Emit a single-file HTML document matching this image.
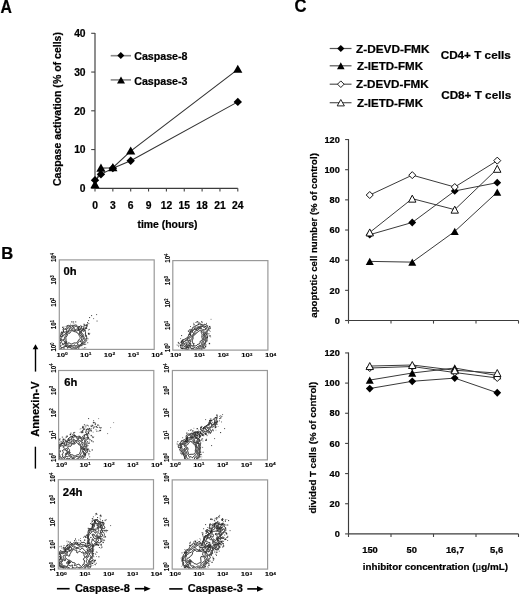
<!DOCTYPE html>
<html><head><meta charset="utf-8"><style>
html,body{margin:0;padding:0;background:#fff;}
svg{display:block;filter:grayscale(1);}
text{font-family:"Liberation Sans",sans-serif;font-weight:bold;stroke:#000;stroke-width:0.22px;}
</style></head><body>
<svg width="520" height="596" viewBox="0 0 520 596">
<rect width="520" height="596" fill="#fff"/>
<text x="0.6" y="12.6" font-size="18.4" textLength="11.4" lengthAdjust="spacingAndGlyphs" fill="#000" >A</text>
<line x1="95.00" y1="32.90" x2="95.00" y2="188.30" stroke="#3c3c3c" stroke-width="1.15" />
<line x1="91.20" y1="188.30" x2="95.00" y2="188.30" stroke="#444" stroke-width="1.1" />
<text x="85.6" y="192.0" font-size="10.3" text-anchor="end" fill="#000" >0</text>
<line x1="91.20" y1="149.55" x2="95.00" y2="149.55" stroke="#444" stroke-width="1.1" />
<text x="85.6" y="153.25" font-size="10.3" text-anchor="end" fill="#000" >10</text>
<line x1="91.20" y1="110.80" x2="95.00" y2="110.80" stroke="#444" stroke-width="1.1" />
<text x="85.6" y="114.50000000000001" font-size="10.3" text-anchor="end" fill="#000" >20</text>
<line x1="91.20" y1="72.05" x2="95.00" y2="72.05" stroke="#444" stroke-width="1.1" />
<text x="85.6" y="75.75000000000001" font-size="10.3" text-anchor="end" fill="#000" >30</text>
<line x1="91.20" y1="33.30" x2="95.00" y2="33.30" stroke="#444" stroke-width="1.1" />
<text x="85.6" y="37.000000000000014" font-size="10.3" text-anchor="end" fill="#000" >40</text>
<line x1="95.00" y1="188.30" x2="237.80" y2="188.30" stroke="#3c3c3c" stroke-width="1.15" />
<line x1="95.00" y1="188.30" x2="95.00" y2="191.60" stroke="#444" stroke-width="1.1" />
<text x="95.0" y="208.7" font-size="10.3" text-anchor="middle" fill="#000" >0</text>
<line x1="112.85" y1="188.30" x2="112.85" y2="191.60" stroke="#444" stroke-width="1.1" />
<text x="112.85" y="208.7" font-size="10.3" text-anchor="middle" fill="#000" >3</text>
<line x1="130.70" y1="188.30" x2="130.70" y2="191.60" stroke="#444" stroke-width="1.1" />
<text x="130.7" y="208.7" font-size="10.3" text-anchor="middle" fill="#000" >6</text>
<line x1="148.55" y1="188.30" x2="148.55" y2="191.60" stroke="#444" stroke-width="1.1" />
<text x="148.55" y="208.7" font-size="10.3" text-anchor="middle" fill="#000" >9</text>
<line x1="166.40" y1="188.30" x2="166.40" y2="191.60" stroke="#444" stroke-width="1.1" />
<text x="166.4" y="208.7" font-size="10.3" text-anchor="middle" fill="#000" >12</text>
<line x1="184.25" y1="188.30" x2="184.25" y2="191.60" stroke="#444" stroke-width="1.1" />
<text x="184.25" y="208.7" font-size="10.3" text-anchor="middle" fill="#000" >15</text>
<line x1="202.10" y1="188.30" x2="202.10" y2="191.60" stroke="#444" stroke-width="1.1" />
<text x="202.10000000000002" y="208.7" font-size="10.3" text-anchor="middle" fill="#000" >18</text>
<line x1="219.95" y1="188.30" x2="219.95" y2="191.60" stroke="#444" stroke-width="1.1" />
<text x="219.95000000000002" y="208.7" font-size="10.3" text-anchor="middle" fill="#000" >21</text>
<line x1="237.80" y1="188.30" x2="237.80" y2="191.60" stroke="#444" stroke-width="1.1" />
<text x="237.8" y="208.7" font-size="10.3" text-anchor="middle" fill="#000" >24</text>
<text x="167.5" y="228.4" font-size="10.5" text-anchor="middle" textLength="60" lengthAdjust="spacingAndGlyphs" fill="#000" >time (hours)</text>
<text x="0" y="0" font-size="10.3" text-anchor="middle" textLength="154" lengthAdjust="spacingAndGlyphs" fill="#000" transform="translate(60.8,109) rotate(-90)" >Caspase activation (% of cells)</text>
<polyline points="95.00,180.16 100.95,174.35 112.85,168.15 130.70,160.79 237.80,101.89" fill="none" stroke="#333" stroke-width="1.1"/>
<polyline points="95.00,184.81 100.95,168.15 112.85,167.76 130.70,151.10 237.80,69.34" fill="none" stroke="#333" stroke-width="1.1"/>
<path d="M95.00,175.96L99.20,180.16L95.00,184.36L90.80,180.16Z" fill="#000" stroke="#000" stroke-width="0"/>
<path d="M100.95,170.15L105.15,174.35L100.95,178.55L96.75,174.35Z" fill="#000" stroke="#000" stroke-width="0"/>
<path d="M112.85,163.95L117.05,168.15L112.85,172.35L108.65,168.15Z" fill="#000" stroke="#000" stroke-width="0"/>
<path d="M130.70,156.59L134.90,160.79L130.70,164.99L126.50,160.79Z" fill="#000" stroke="#000" stroke-width="0"/>
<path d="M237.80,97.69L242.00,101.89L237.80,106.09L233.60,101.89Z" fill="#000" stroke="#000" stroke-width="0"/>
<path d="M95.00,180.11L99.60,188.31L90.40,188.31Z" fill="#000" stroke="#000" stroke-width="0" stroke-linejoin="miter"/>
<path d="M100.95,163.45L105.55,171.65L96.35,171.65Z" fill="#000" stroke="#000" stroke-width="0" stroke-linejoin="miter"/>
<path d="M112.85,163.06L117.45,171.26L108.25,171.26Z" fill="#000" stroke="#000" stroke-width="0" stroke-linejoin="miter"/>
<path d="M130.70,146.40L135.30,154.60L126.10,154.60Z" fill="#000" stroke="#000" stroke-width="0" stroke-linejoin="miter"/>
<path d="M237.80,64.64L242.40,72.84L233.20,72.84Z" fill="#000" stroke="#000" stroke-width="0" stroke-linejoin="miter"/>
<line x1="110.70" y1="55.70" x2="131.00" y2="55.70" stroke="#888" stroke-width="1.6" />
<path d="M120.80,52.10L124.30,55.60L120.80,59.10L117.30,55.60Z" fill="#000" stroke="#000" stroke-width="0"/>
<text x="134.2" y="60.2" font-size="11" textLength="53.3" lengthAdjust="spacingAndGlyphs" fill="#000" >Caspase-8</text>
<line x1="110.70" y1="79.90" x2="131.00" y2="79.90" stroke="#888" stroke-width="1.6" />
<path d="M121.00,76.45L125.00,83.55L117.00,83.55Z" fill="#000" stroke="#000" stroke-width="0" stroke-linejoin="miter"/>
<text x="134.2" y="84.6" font-size="11" textLength="53.3" lengthAdjust="spacingAndGlyphs" fill="#000" >Caspase-3</text>
<text x="294.4" y="12.4" font-size="18.0" textLength="12.0" lengthAdjust="spacingAndGlyphs" fill="#000" >C</text>
<line x1="329.70" y1="48.50" x2="351.50" y2="48.50" stroke="#555" stroke-width="1.2" />
<path d="M340.80,44.90L344.40,48.50L340.80,52.10L337.20,48.50Z" fill="#000" stroke="#000" stroke-width="0"/>
<text x="356.0" y="52.7" font-size="11.2" textLength="73.5" lengthAdjust="spacingAndGlyphs" fill="#000" >Z-DEVD-FMK</text>
<line x1="329.70" y1="65.80" x2="351.50" y2="65.80" stroke="#555" stroke-width="1.2" />
<path d="M340.80,62.30L344.60,69.30L337.00,69.30Z" fill="#000" stroke="#000" stroke-width="0" stroke-linejoin="miter"/>
<text x="356.9" y="70.0" font-size="11.2" textLength="66.1" lengthAdjust="spacingAndGlyphs" fill="#000" >Z-IETD-FMK</text>
<line x1="329.70" y1="84.20" x2="351.50" y2="84.20" stroke="#555" stroke-width="1.2" />
<path d="M340.80,80.90L344.10,84.20L340.80,87.50L337.50,84.20Z" fill="#fff" stroke="#222" stroke-width="1"/>
<text x="356.0" y="88.4" font-size="11.2" textLength="72.7" lengthAdjust="spacingAndGlyphs" fill="#000" >Z-DEVD-FMK</text>
<line x1="329.70" y1="102.70" x2="351.50" y2="102.70" stroke="#555" stroke-width="1.2" />
<path d="M340.80,99.50L344.40,105.90L337.20,105.90Z" fill="#fff" stroke="#222" stroke-width="1" stroke-linejoin="miter"/>
<text x="356.9" y="106.9" font-size="11.2" textLength="66.1" lengthAdjust="spacingAndGlyphs" fill="#000" >Z-IETD-FMK</text>
<text x="440.7" y="59.0" font-size="11.2" textLength="70" lengthAdjust="spacingAndGlyphs" fill="#000" >CD4+ T cells</text>
<text x="441.2" y="98.8" font-size="11.2" textLength="70" lengthAdjust="spacingAndGlyphs" fill="#000" >CD8+ T cells</text>
<line x1="348.50" y1="139.04" x2="348.50" y2="320.50" stroke="#3c3c3c" stroke-width="1.15" />
<line x1="348.50" y1="320.50" x2="518.50" y2="320.50" stroke="#3c3c3c" stroke-width="1.15" />
<line x1="345.10" y1="320.50" x2="348.50" y2="320.50" stroke="#444" stroke-width="1.1" />
<text x="339.8" y="323.7" font-size="9.2" text-anchor="end" fill="#000" >0</text>
<line x1="345.10" y1="290.34" x2="348.50" y2="290.34" stroke="#444" stroke-width="1.1" />
<text x="339.8" y="293.53999999999996" font-size="9.2" text-anchor="end" fill="#000" >20</text>
<line x1="345.10" y1="260.18" x2="348.50" y2="260.18" stroke="#444" stroke-width="1.1" />
<text x="339.8" y="263.38" font-size="9.2" text-anchor="end" fill="#000" >40</text>
<line x1="345.10" y1="230.02" x2="348.50" y2="230.02" stroke="#444" stroke-width="1.1" />
<text x="339.8" y="233.21999999999997" font-size="9.2" text-anchor="end" fill="#000" >60</text>
<line x1="345.10" y1="199.86" x2="348.50" y2="199.86" stroke="#444" stroke-width="1.1" />
<text x="339.8" y="203.06" font-size="9.2" text-anchor="end" fill="#000" >80</text>
<line x1="345.10" y1="169.70" x2="348.50" y2="169.70" stroke="#444" stroke-width="1.1" />
<text x="339.8" y="172.89999999999998" font-size="9.2" text-anchor="end" fill="#000" >100</text>
<line x1="345.10" y1="139.54" x2="348.50" y2="139.54" stroke="#444" stroke-width="1.1" />
<text x="339.8" y="142.73999999999998" font-size="9.2" text-anchor="end" fill="#000" >120</text>
<line x1="348.50" y1="320.50" x2="348.50" y2="323.60" stroke="#444" stroke-width="1.1" />
<line x1="391.00" y1="320.50" x2="391.00" y2="323.60" stroke="#444" stroke-width="1.1" />
<line x1="433.50" y1="320.50" x2="433.50" y2="323.60" stroke="#444" stroke-width="1.1" />
<line x1="476.00" y1="320.50" x2="476.00" y2="323.60" stroke="#444" stroke-width="1.1" />
<line x1="518.50" y1="320.50" x2="518.50" y2="323.60" stroke="#444" stroke-width="1.1" />
<text x="0" y="0" font-size="9.6" text-anchor="middle" textLength="164.5" lengthAdjust="spacingAndGlyphs" fill="#000" transform="translate(316.9,235.4) rotate(-90)" >apoptotic cell number (% of control)</text>
<polyline points="369.75,234.69 412.25,222.48 454.75,190.96 497.25,182.67" fill="none" stroke="#3a3a3a" stroke-width="1.0"/>
<polyline points="369.75,261.39 412.25,262.14 454.75,231.38 497.25,192.17" fill="none" stroke="#3a3a3a" stroke-width="1.0"/>
<polyline points="369.75,195.03 412.25,175.13 454.75,187.04 497.25,160.65" fill="none" stroke="#3a3a3a" stroke-width="1.0"/>
<polyline points="369.75,232.43 412.25,198.65 454.75,209.66 497.25,168.80" fill="none" stroke="#3a3a3a" stroke-width="1.0"/>
<path d="M369.75,230.79L373.65,234.69L369.75,238.59L365.85,234.69Z" fill="#000" stroke="#000" stroke-width="0"/>
<path d="M412.25,218.58L416.15,222.48L412.25,226.38L408.35,222.48Z" fill="#000" stroke="#000" stroke-width="0"/>
<path d="M454.75,187.06L458.65,190.96L454.75,194.86L450.85,190.96Z" fill="#000" stroke="#000" stroke-width="0"/>
<path d="M497.25,178.77L501.15,182.67L497.25,186.57L493.35,182.67Z" fill="#000" stroke="#000" stroke-width="0"/>
<path d="M369.75,257.69L373.75,265.09L365.75,265.09Z" fill="#000" stroke="#000" stroke-width="0" stroke-linejoin="miter"/>
<path d="M412.25,258.44L416.25,265.84L408.25,265.84Z" fill="#000" stroke="#000" stroke-width="0" stroke-linejoin="miter"/>
<path d="M454.75,227.68L458.75,235.08L450.75,235.08Z" fill="#000" stroke="#000" stroke-width="0" stroke-linejoin="miter"/>
<path d="M497.25,188.47L501.25,195.87L493.25,195.87Z" fill="#000" stroke="#000" stroke-width="0" stroke-linejoin="miter"/>
<path d="M369.75,191.53L373.25,195.03L369.75,198.53L366.25,195.03Z" fill="#fff" stroke="#111" stroke-width="1"/>
<path d="M412.25,171.63L415.75,175.13L412.25,178.63L408.75,175.13Z" fill="#fff" stroke="#111" stroke-width="1"/>
<path d="M454.75,183.54L458.25,187.04L454.75,190.54L451.25,187.04Z" fill="#fff" stroke="#111" stroke-width="1"/>
<path d="M497.25,157.15L500.75,160.65L497.25,164.15L493.75,160.65Z" fill="#fff" stroke="#111" stroke-width="1"/>
<path d="M369.75,228.93L373.45,235.93L366.05,235.93Z" fill="#fff" stroke="#111" stroke-width="1" stroke-linejoin="miter"/>
<path d="M412.25,195.15L415.95,202.15L408.55,202.15Z" fill="#fff" stroke="#111" stroke-width="1" stroke-linejoin="miter"/>
<path d="M454.75,206.16L458.45,213.16L451.05,213.16Z" fill="#fff" stroke="#111" stroke-width="1" stroke-linejoin="miter"/>
<path d="M497.25,165.30L500.95,172.30L493.55,172.30Z" fill="#fff" stroke="#111" stroke-width="1" stroke-linejoin="miter"/>
<line x1="348.50" y1="352.44" x2="348.50" y2="533.90" stroke="#3c3c3c" stroke-width="1.15" />
<line x1="348.50" y1="533.90" x2="518.50" y2="533.90" stroke="#3c3c3c" stroke-width="1.15" />
<line x1="345.10" y1="533.90" x2="348.50" y2="533.90" stroke="#444" stroke-width="1.1" />
<text x="339.8" y="537.1" font-size="9.2" text-anchor="end" fill="#000" >0</text>
<line x1="345.10" y1="503.74" x2="348.50" y2="503.74" stroke="#444" stroke-width="1.1" />
<text x="339.8" y="506.93999999999994" font-size="9.2" text-anchor="end" fill="#000" >20</text>
<line x1="345.10" y1="473.58" x2="348.50" y2="473.58" stroke="#444" stroke-width="1.1" />
<text x="339.8" y="476.78" font-size="9.2" text-anchor="end" fill="#000" >40</text>
<line x1="345.10" y1="443.42" x2="348.50" y2="443.42" stroke="#444" stroke-width="1.1" />
<text x="339.8" y="446.61999999999995" font-size="9.2" text-anchor="end" fill="#000" >60</text>
<line x1="345.10" y1="413.26" x2="348.50" y2="413.26" stroke="#444" stroke-width="1.1" />
<text x="339.8" y="416.46" font-size="9.2" text-anchor="end" fill="#000" >80</text>
<line x1="345.10" y1="383.10" x2="348.50" y2="383.10" stroke="#444" stroke-width="1.1" />
<text x="339.8" y="386.29999999999995" font-size="9.2" text-anchor="end" fill="#000" >100</text>
<line x1="345.10" y1="352.94" x2="348.50" y2="352.94" stroke="#444" stroke-width="1.1" />
<text x="339.8" y="356.13999999999993" font-size="9.2" text-anchor="end" fill="#000" >120</text>
<line x1="348.50" y1="533.90" x2="348.50" y2="537.00" stroke="#444" stroke-width="1.1" />
<line x1="391.00" y1="533.90" x2="391.00" y2="537.00" stroke="#444" stroke-width="1.1" />
<line x1="433.50" y1="533.90" x2="433.50" y2="537.00" stroke="#444" stroke-width="1.1" />
<line x1="476.00" y1="533.90" x2="476.00" y2="537.00" stroke="#444" stroke-width="1.1" />
<line x1="518.50" y1="533.90" x2="518.50" y2="537.00" stroke="#444" stroke-width="1.1" />
<text x="0" y="0" font-size="9.6" text-anchor="middle" textLength="131.8" lengthAdjust="spacingAndGlyphs" fill="#000" transform="translate(316.2,447.7) rotate(-90)" >divided T cells (% of control)</text>
<polyline points="369.75,388.53 412.25,381.29 454.75,378.12 497.25,392.75" fill="none" stroke="#3a3a3a" stroke-width="1.0"/>
<polyline points="369.75,380.08 412.25,373.00 454.75,368.02 497.25,375.56" fill="none" stroke="#3a3a3a" stroke-width="1.0"/>
<polyline points="369.75,368.02 412.25,366.51 454.75,372.54 497.25,377.97" fill="none" stroke="#3a3a3a" stroke-width="1.0"/>
<polyline points="369.75,366.06 412.25,365.00 454.75,370.28 497.25,373.00" fill="none" stroke="#3a3a3a" stroke-width="1.0"/>
<path d="M369.75,384.63L373.65,388.53L369.75,392.43L365.85,388.53Z" fill="#000" stroke="#000" stroke-width="0"/>
<path d="M412.25,377.39L416.15,381.29L412.25,385.19L408.35,381.29Z" fill="#000" stroke="#000" stroke-width="0"/>
<path d="M454.75,374.22L458.65,378.12L454.75,382.02L450.85,378.12Z" fill="#000" stroke="#000" stroke-width="0"/>
<path d="M497.25,388.85L501.15,392.75L497.25,396.65L493.35,392.75Z" fill="#000" stroke="#000" stroke-width="0"/>
<path d="M369.75,376.38L373.75,383.78L365.75,383.78Z" fill="#000" stroke="#000" stroke-width="0" stroke-linejoin="miter"/>
<path d="M412.25,369.30L416.25,376.70L408.25,376.70Z" fill="#000" stroke="#000" stroke-width="0" stroke-linejoin="miter"/>
<path d="M454.75,364.32L458.75,371.72L450.75,371.72Z" fill="#000" stroke="#000" stroke-width="0" stroke-linejoin="miter"/>
<path d="M497.25,371.86L501.25,379.26L493.25,379.26Z" fill="#000" stroke="#000" stroke-width="0" stroke-linejoin="miter"/>
<path d="M369.75,364.52L373.25,368.02L369.75,371.52L366.25,368.02Z" fill="#fff" stroke="#111" stroke-width="1"/>
<path d="M412.25,363.01L415.75,366.51L412.25,370.01L408.75,366.51Z" fill="#fff" stroke="#111" stroke-width="1"/>
<path d="M454.75,369.04L458.25,372.54L454.75,376.04L451.25,372.54Z" fill="#fff" stroke="#111" stroke-width="1"/>
<path d="M497.25,374.47L500.75,377.97L497.25,381.47L493.75,377.97Z" fill="#fff" stroke="#111" stroke-width="1"/>
<path d="M369.75,362.56L373.45,369.56L366.05,369.56Z" fill="#fff" stroke="#111" stroke-width="1" stroke-linejoin="miter"/>
<path d="M412.25,361.50L415.95,368.50L408.55,368.50Z" fill="#fff" stroke="#111" stroke-width="1" stroke-linejoin="miter"/>
<path d="M454.75,366.78L458.45,373.78L451.05,373.78Z" fill="#fff" stroke="#111" stroke-width="1" stroke-linejoin="miter"/>
<path d="M497.25,369.50L500.95,376.50L493.55,376.50Z" fill="#fff" stroke="#111" stroke-width="1" stroke-linejoin="miter"/>
<text x="370" y="552.8" font-size="9.4" text-anchor="middle" fill="#000" >150</text>
<text x="411.7" y="552.8" font-size="9.4" text-anchor="middle" fill="#000" >50</text>
<text x="455" y="552.8" font-size="9.4" text-anchor="middle" fill="#000" >16,7</text>
<text x="496.6" y="552.8" font-size="9.4" text-anchor="middle" fill="#000" >5,6</text>
<text x="362.7" y="570.4" font-size="9.8" textLength="145.3" lengthAdjust="spacingAndGlyphs" fill="#000" >inhibitor concentration (<tspan font-family="Liberation Serif" font-weight="normal">µ</tspan>g/mL)</text>
<text x="1.2" y="259.0" font-size="16.6" fill="#000" >B</text>
<clipPath id="fc00"><rect x="59.599999999999994" y="259.9" width="94.6" height="89.2"/></clipPath>
<g clip-path="url(#fc00)">
<g fill="none" stroke="#222" stroke-width="1.0" stroke-linejoin="round">
<path d="M64.5,351.1 L64.1,351.1 L63.3,351.0 L62.6,350.7 L62.1,350.4 L61.7,350.0 L61.3,349.7 L60.5,349.7 L60.0,349.5 L59.4,349.1 L59.1,348.7 L58.5,348.6 L58.0,348.3 L58.1,347.8 L58.3,347.1 L58.3,346.3 L58.1,345.5 L57.9,345.1 L57.7,344.7 L57.7,343.9 L57.9,343.9 L58.2,343.9 L58.7,343.5 L59.0,343.1 L59.3,342.7 L59.3,341.9 L58.9,341.5 L58.6,341.1 L58.2,340.7 L58.2,339.9 L58.5,339.3 L58.9,339.1 L58.9,338.6 L58.7,337.9 L58.9,337.1 L59.0,336.7 L59.3,336.1 L59.7,335.8 L60.3,335.5 L60.9,335.4 L61.2,334.7 L61.1,333.9 L61.0,333.1 L61.3,332.7 L62.1,332.5 L62.9,332.4 L63.3,332.1 L63.6,331.5 L63.5,330.7 L63.3,330.0 L62.9,329.5 L62.9,329.4 L63.3,329.0 L64.1,329.1 L64.5,329.2 L65.0,329.1 L65.7,328.8 L66.1,328.5 L66.5,327.9 L66.8,327.5 L67.0,327.1 L67.1,326.3 L67.3,325.9 L68.1,325.6 L68.5,325.4 L69.2,325.5 L69.7,325.8 L70.5,325.9 L70.9,325.9 L71.3,325.8 L71.7,325.5 L72.5,325.4 L73.3,325.4 L73.7,325.5 L74.1,325.5 L74.9,325.1 L75.3,325.0 L76.1,325.1 L76.5,325.2 L76.9,325.5 L77.3,326.1 L77.7,326.5 L78.1,326.7 L78.9,326.9 L79.6,326.7 L80.0,326.3 L80.4,325.9 L80.9,325.6 L81.3,325.9 L81.5,326.7 L81.5,327.5 L81.3,327.9 L80.8,328.3 L80.9,328.7 L81.7,328.8 L82.5,328.8 L82.9,328.7 L83.6,328.3 L83.8,327.9 L83.9,327.1 L83.9,326.3 L84.1,325.5 L84.5,325.3 L85.3,325.3 L86.1,325.4 L86.5,325.5 L86.9,325.9 L86.9,326.7 L86.7,327.1 L86.4,327.5 L85.9,327.9 L85.3,328.2 L85.0,328.7 L84.9,329.1 L84.9,329.9 L85.0,330.3 L85.1,331.1 L85.3,331.5 L85.5,332.3 L85.5,333.1 L85.4,333.9 L85.7,334.7 L86.1,335.0 L86.3,335.5 L86.5,336.3 L86.6,336.7 L86.7,337.5 L86.5,338.3 L86.4,338.7 L86.1,339.5 L86.1,339.9 L86.1,340.3 L86.1,340.7 L85.9,341.5 L85.7,342.0 L85.3,342.4 L84.9,342.7 L84.1,342.8 L83.3,343.0 L83.0,343.5 L82.9,344.2 L82.7,344.7 L82.4,345.1 L82.1,345.6 L81.3,345.7 L80.5,345.7 L80.1,346.0 L79.7,346.6 L79.3,347.0 L78.9,347.1 L78.7,347.9 L78.7,348.7 L78.4,349.1 L78.0,349.5 L77.3,349.8 L76.8,349.9 L76.1,350.1 L75.3,350.2 L74.5,349.9 L74.5,349.9 L73.7,350.1 L72.9,350.1 L72.1,350.0 L71.3,350.1 L70.5,350.1 L69.7,350.2 L68.9,349.9 L68.5,349.8 L67.8,349.5 L67.3,349.4 L66.9,349.6 L66.3,349.9 L65.7,350.3 L65.3,350.7 L64.9,351.1 L64.5,351.1Z"/>
<path d="M63.3,349.9 L62.5,350.0 L62.1,349.7 L61.9,349.1 L61.6,348.7 L60.9,348.4 L60.4,348.3 L59.7,347.9 L59.3,347.5 L59.1,347.1 L59.2,346.3 L59.2,345.5 L58.9,345.0 L58.8,344.3 L59.0,343.9 L59.3,343.5 L59.7,343.0 L60.1,342.3 L59.7,341.5 L59.7,341.1 L59.6,340.3 L59.9,340.3 L60.5,340.5 L60.9,340.8 L61.2,340.3 L61.1,339.5 L60.9,339.1 L60.1,338.8 L59.7,338.5 L59.5,337.9 L59.6,337.1 L59.8,336.7 L60.5,336.5 L61.3,336.5 L61.8,336.3 L62.4,335.9 L62.5,335.5 L62.5,335.1 L62.1,334.5 L62.0,333.9 L62.1,333.5 L62.9,333.2 L63.3,333.0 L63.7,332.6 L64.2,332.3 L64.9,332.1 L65.7,331.9 L66.1,331.9 L66.9,331.5 L66.9,331.1 L66.8,330.7 L66.5,330.1 L66.3,329.5 L66.6,329.1 L67.3,328.8 L67.7,328.7 L68.0,327.9 L68.1,327.4 L68.5,327.0 L69.3,326.7 L70.1,327.0 L70.5,327.3 L70.9,327.5 L71.3,327.5 L71.7,327.0 L72.1,326.6 L72.9,326.7 L73.3,326.9 L73.9,327.1 L74.5,327.1 L74.9,327.0 L75.3,326.6 L75.7,326.2 L76.3,326.3 L76.7,326.7 L77.1,327.1 L77.4,327.5 L77.6,328.3 L78.1,328.7 L78.5,328.9 L78.9,329.1 L79.3,329.5 L80.1,329.7 L80.9,329.6 L81.3,329.9 L81.6,330.7 L81.6,331.5 L81.6,332.3 L81.5,333.1 L82.1,333.5 L82.5,333.6 L82.9,333.9 L83.2,334.7 L83.2,335.5 L83.3,335.9 L83.4,336.7 L83.7,337.1 L84.3,337.5 L84.6,337.9 L84.9,338.5 L84.9,339.1 L84.9,339.5 L84.9,340.3 L84.6,341.1 L84.1,341.5 L83.7,341.7 L83.2,341.9 L82.9,342.3 L82.5,342.8 L82.3,343.5 L82.1,344.2 L81.7,344.6 L81.3,344.8 L80.5,345.1 L80.1,345.4 L79.7,345.7 L79.3,345.9 L78.6,346.3 L78.1,346.7 L77.7,347.0 L77.4,347.5 L77.2,347.9 L76.9,348.5 L76.5,348.7 L75.9,348.7 L75.3,348.5 L74.5,348.7 L74.1,348.9 L73.3,348.9 L72.5,348.8 L71.7,348.7 L71.3,348.3 L71.2,347.9 L70.9,347.5 L70.1,347.2 L69.3,347.4 L68.5,347.4 L68.1,347.5 L67.3,347.6 L67.3,347.1 L66.9,346.4 L66.1,346.5 L65.3,346.4 L64.6,346.7 L64.2,347.1 L64.0,347.5 L64.0,348.3 L63.9,349.1 L63.7,349.6 L63.3,349.9Z"/>
<path d="M84.1,331.3 L83.3,331.1 L82.9,331.0 L82.5,330.7 L82.3,329.9 L82.5,329.4 L83.3,329.2 L83.8,329.5 L84.1,330.1 L84.2,330.7 L84.1,331.3Z"/>
<path d="M62.9,347.8 L62.1,347.6 L61.3,347.5 L60.9,347.2 L60.5,346.7 L60.9,346.0 L61.1,345.5 L60.5,345.2 L60.1,345.1 L59.7,344.6 L59.7,344.2 L60.1,343.5 L60.5,343.2 L60.9,342.9 L61.3,342.4 L61.4,341.9 L61.7,341.4 L62.1,340.7 L62.2,340.3 L62.1,339.7 L61.7,339.1 L61.3,338.7 L60.9,338.4 L60.6,337.9 L60.9,337.5 L61.4,337.1 L62.1,336.8 L62.5,336.7 L63.1,336.3 L63.2,335.5 L63.3,335.1 L64.1,334.8 L64.9,334.8 L65.3,334.4 L65.6,333.9 L65.6,333.1 L66.0,332.7 L66.5,332.4 L66.9,332.2 L67.5,331.9 L67.9,331.5 L68.0,330.7 L68.5,330.3 L68.9,330.1 L69.4,329.9 L69.3,329.3 L69.2,328.7 L69.5,328.3 L69.8,328.3 L70.5,328.7 L70.9,329.1 L71.3,329.1 L71.7,329.0 L72.3,328.7 L72.6,328.3 L72.9,327.8 L73.5,327.9 L74.1,328.2 L74.3,328.7 L74.5,329.3 L74.9,329.5 L75.7,329.7 L76.2,329.5 L76.7,329.1 L77.3,329.1 L77.7,329.4 L78.1,329.5 L78.9,329.8 L79.3,330.1 L79.7,330.3 L80.2,330.7 L80.5,331.1 L80.7,331.9 L80.5,332.7 L80.5,332.8 L80.6,333.5 L80.9,334.2 L81.5,334.3 L82.0,334.7 L82.2,335.1 L82.4,335.9 L82.4,336.7 L82.6,337.1 L82.9,337.5 L83.4,337.9 L83.7,338.7 L83.3,339.4 L82.9,339.5 L82.4,339.9 L82.2,340.7 L82.2,341.5 L82.1,341.9 L81.8,342.7 L81.7,343.1 L81.3,343.9 L80.9,344.2 L80.5,344.4 L80.1,344.8 L79.7,345.1 L79.0,345.5 L78.5,345.7 L77.9,345.9 L77.4,346.3 L77.1,346.7 L76.6,347.1 L76.1,347.2 L75.3,347.2 L74.5,347.2 L73.7,347.3 L72.9,347.3 L72.5,347.0 L71.9,346.7 L71.3,346.7 L70.9,346.7 L70.5,346.7 L69.7,346.6 L68.9,346.5 L68.1,346.5 L67.7,346.2 L67.3,345.9 L66.5,345.8 L65.7,345.8 L64.9,345.9 L64.5,346.0 L64.0,346.3 L63.6,346.7 L63.3,347.1 L62.9,347.8Z"/>
<path d="M65.2,343.5 L65.5,343.1 L65.6,342.3 L65.0,342.3 L64.5,342.7 L64.2,343.1 L64.5,343.7 L65.2,343.5Z"/>
<path d="M75.7,346.0 L75.0,345.9 L74.8,345.5 L74.5,344.8 L73.9,345.1 L73.7,345.7 L73.3,346.0 L72.7,345.9 L72.1,345.7 L71.3,345.6 L70.9,345.5 L70.1,345.5 L69.3,345.5 L68.5,345.2 L68.1,345.0 L67.3,345.0 L66.5,345.0 L65.7,345.1 L65.3,345.1 L65.2,344.7 L65.4,344.3 L65.7,343.6 L65.9,343.1 L66.1,342.5 L66.1,341.9 L66.0,341.5 L65.4,341.1 L65.2,341.1 L64.6,341.5 L64.3,341.5 L64.1,340.7 L63.7,340.7 L63.2,340.3 L63.3,339.5 L63.7,339.4 L64.1,339.5 L64.5,339.4 L64.5,338.7 L64.4,338.3 L64.5,337.7 L64.8,337.1 L65.1,336.7 L65.3,336.2 L65.7,335.6 L66.1,335.2 L66.4,334.7 L66.5,333.9 L66.5,333.5 L66.9,332.9 L67.3,332.6 L67.8,332.3 L68.4,331.9 L68.6,331.5 L68.9,331.0 L69.7,330.8 L70.5,330.7 L70.9,330.4 L71.3,330.2 L72.0,329.9 L72.5,329.9 L72.9,330.0 L73.7,330.2 L74.1,330.3 L74.9,330.4 L75.7,330.6 L76.1,330.8 L76.9,331.1 L77.4,330.7 L78.1,330.3 L78.1,330.3 L78.9,330.6 L79.3,330.9 L79.6,331.5 L79.5,332.3 L79.4,333.1 L79.4,333.9 L79.7,334.6 L80.0,335.1 L80.5,335.4 L81.1,335.5 L81.4,335.9 L81.5,336.7 L81.7,337.5 L81.8,337.9 L81.8,338.7 L81.6,339.1 L81.3,339.9 L81.1,340.3 L80.9,340.9 L80.5,341.2 L80.1,341.0 L79.5,341.1 L79.1,341.5 L78.7,341.9 L78.3,342.3 L78.1,342.7 L77.7,343.3 L77.6,343.9 L78.1,344.2 L78.2,344.7 L77.7,344.8 L77.1,345.1 L76.6,345.5 L76.1,345.9 L75.7,346.0Z"/>
<path d="M80.9,342.0 L80.5,341.9 L80.7,341.5 L81.0,341.5 L80.9,342.0Z"/>
<path d="M62.9,345.1 L62.5,344.7 L62.4,344.3 L62.3,343.5 L62.9,343.3 L63.3,343.7 L63.4,344.3 L63.3,344.8 L62.9,345.1Z"/>
<path d="M71.7,344.0 L70.9,344.1 L70.5,343.8 L70.1,343.5 L69.7,343.1 L68.9,342.8 L68.1,343.1 L67.8,343.5 L67.6,343.9 L66.9,344.2 L66.3,343.9 L66.5,343.3 L66.7,342.7 L66.7,341.9 L66.5,341.2 L66.2,340.7 L66.1,340.3 L66.0,339.5 L65.9,338.7 L65.8,337.9 L65.9,337.1 L66.1,336.6 L66.8,336.3 L67.0,335.9 L67.3,335.3 L67.5,334.7 L67.7,334.0 L67.9,333.5 L68.3,333.1 L68.9,332.9 L69.3,333.3 L69.9,333.1 L70.1,332.6 L70.5,332.0 L70.9,331.7 L71.3,331.3 L71.7,330.9 L72.5,330.8 L73.3,331.1 L73.7,331.5 L74.1,331.7 L74.9,331.5 L75.6,331.9 L76.1,332.3 L76.5,332.4 L77.0,332.7 L77.7,333.1 L78.1,333.3 L78.5,333.9 L78.6,334.3 L78.9,334.8 L79.2,335.5 L79.4,335.9 L79.7,336.3 L80.1,336.9 L80.2,337.5 L80.3,338.3 L80.0,338.7 L79.5,339.1 L79.2,339.5 L78.9,339.9 L78.4,340.3 L78.1,341.0 L77.8,341.5 L77.4,341.9 L77.2,342.3 L76.7,342.7 L76.1,343.0 L75.3,343.0 L74.5,342.9 L73.9,343.1 L73.3,343.3 L72.9,343.6 L72.1,343.8 L71.7,344.0Z"/>
</g>
<g fill="#222">
<rect x="84.7" y="327.6" width="1.3" height="1.3" opacity="0.50"/>
<rect x="69.8" y="325.8" width="0.9" height="0.9" opacity="0.99"/>
<rect x="84.0" y="347.0" width="1.3" height="1.3" opacity="0.52"/>
<rect x="72.8" y="321.2" width="1.3" height="1.3" opacity="0.60"/>
<rect x="60.4" y="334.5" width="0.9" height="0.9" opacity="0.99"/>
<rect x="60.7" y="332.2" width="0.9" height="0.9" opacity="0.68"/>
<rect x="83.4" y="344.2" width="0.9" height="0.9" opacity="0.86"/>
<rect x="78.2" y="352.6" width="0.9" height="0.9" opacity="0.50"/>
<rect x="87.3" y="342.3" width="0.9" height="0.9" opacity="0.99"/>
<rect x="68.3" y="352.0" width="1.3" height="1.3" opacity="0.68"/>
<rect x="67.2" y="348.3" width="0.9" height="0.9" opacity="0.63"/>
<rect x="58.3" y="348.8" width="0.9" height="0.9" opacity="0.54"/>
<rect x="88.9" y="328.9" width="0.9" height="0.9" opacity="0.85"/>
<rect x="85.8" y="335.7" width="0.9" height="0.9" opacity="0.84"/>
<rect x="83.0" y="328.4" width="1.3" height="1.3" opacity="0.92"/>
<rect x="83.6" y="323.9" width="1.3" height="1.3" opacity="0.61"/>
<rect x="59.7" y="349.3" width="0.9" height="0.9" opacity="0.63"/>
<rect x="63.1" y="328.5" width="0.9" height="0.9" opacity="0.72"/>
<rect x="80.2" y="350.4" width="0.9" height="0.9" opacity="0.95"/>
<rect x="63.5" y="326.5" width="0.9" height="0.9" opacity="0.74"/>
<rect x="86.5" y="339.9" width="0.9" height="0.9" opacity="0.46"/>
<rect x="86.5" y="338.0" width="0.9" height="0.9" opacity="0.79"/>
<rect x="80.9" y="349.7" width="0.9" height="0.9" opacity="0.82"/>
<rect x="83.4" y="348.9" width="0.9" height="0.9" opacity="0.83"/>
<rect x="59.4" y="350.1" width="0.9" height="0.9" opacity="0.49"/>
<rect x="56.8" y="351.0" width="1.3" height="1.3" opacity="0.63"/>
<rect x="85.4" y="347.4" width="0.9" height="0.9" opacity="0.51"/>
<rect x="61.2" y="331.3" width="0.9" height="0.9" opacity="0.69"/>
<rect x="75.2" y="353.2" width="1.3" height="1.3" opacity="0.62"/>
<rect x="85.4" y="343.7" width="0.9" height="0.9" opacity="0.61"/>
<rect x="80.5" y="351.7" width="1.3" height="1.3" opacity="0.78"/>
<rect x="61.7" y="349.5" width="0.9" height="0.9" opacity="0.76"/>
<rect x="65.5" y="326.1" width="0.9" height="0.9" opacity="0.58"/>
<rect x="86.3" y="324.8" width="1.3" height="1.3" opacity="0.97"/>
<rect x="79.9" y="327.4" width="0.9" height="0.9" opacity="0.81"/>
<rect x="57.0" y="340.5" width="1.3" height="1.3" opacity="0.97"/>
<rect x="63.0" y="327.8" width="0.9" height="0.9" opacity="0.72"/>
<rect x="67.7" y="352.2" width="0.9" height="0.9" opacity="0.81"/>
<rect x="62.2" y="327.2" width="0.9" height="0.9" opacity="0.64"/>
<rect x="88.4" y="323.2" width="0.9" height="0.9" opacity="0.91"/>
<rect x="58.8" y="337.1" width="0.9" height="0.9" opacity="0.59"/>
<rect x="81.7" y="326.2" width="0.9" height="0.9" opacity="0.91"/>
<rect x="70.2" y="323.7" width="0.9" height="0.9" opacity="0.62"/>
<rect x="88.3" y="333.7" width="1.3" height="1.3" opacity="0.84"/>
<rect x="83.5" y="323.6" width="0.9" height="0.9" opacity="0.58"/>
<rect x="84.8" y="333.7" width="0.9" height="0.9" opacity="0.52"/>
<rect x="79.5" y="352.8" width="0.9" height="0.9" opacity="0.77"/>
<rect x="78.2" y="328.7" width="0.9" height="0.9" opacity="0.85"/>
<rect x="87.9" y="332.8" width="1.3" height="1.3" opacity="0.93"/>
<rect x="58.5" y="349.6" width="0.9" height="0.9" opacity="0.93"/>
<rect x="86.4" y="327.7" width="0.9" height="0.9" opacity="0.80"/>
<rect x="85.7" y="327.6" width="1.3" height="1.3" opacity="0.87"/>
<rect x="64.9" y="350.5" width="0.9" height="0.9" opacity="0.70"/>
<rect x="74.8" y="354.1" width="1.3" height="1.3" opacity="0.85"/>
<rect x="58.3" y="353.9" width="0.9" height="0.9" opacity="0.88"/>
<rect x="54.4" y="340.8" width="0.9" height="0.9" opacity="0.85"/>
<rect x="65.4" y="328.7" width="0.9" height="0.9" opacity="0.51"/>
<rect x="88.1" y="329.5" width="0.9" height="0.9" opacity="0.71"/>
<rect x="84.3" y="348.9" width="0.9" height="0.9" opacity="0.57"/>
<rect x="65.7" y="328.8" width="0.9" height="0.9" opacity="0.78"/>
<rect x="71.3" y="351.2" width="0.9" height="0.9" opacity="0.95"/>
<rect x="62.7" y="330.7" width="1.3" height="1.3" opacity="0.78"/>
<rect x="71.1" y="321.2" width="1.3" height="1.3" opacity="0.71"/>
<rect x="85.1" y="334.9" width="0.9" height="0.9" opacity="0.85"/>
<rect x="59.1" y="338.5" width="0.9" height="0.9" opacity="0.47"/>
<rect x="63.1" y="353.7" width="1.3" height="1.3" opacity="0.58"/>
<rect x="83.8" y="343.7" width="0.9" height="0.9" opacity="0.59"/>
<rect x="56.4" y="335.1" width="0.9" height="0.9" opacity="0.48"/>
<rect x="66.7" y="325.2" width="0.9" height="0.9" opacity="0.94"/>
<rect x="84.6" y="330.0" width="0.9" height="0.9" opacity="0.61"/>
<rect x="72.8" y="322.6" width="0.9" height="0.9" opacity="0.63"/>
<rect x="72.3" y="352.8" width="0.9" height="0.9" opacity="0.59"/>
<rect x="76.2" y="352.8" width="1.3" height="1.3" opacity="0.73"/>
<rect x="81.7" y="351.4" width="0.9" height="0.9" opacity="0.77"/>
<rect x="84.6" y="335.5" width="1.3" height="1.3" opacity="0.67"/>
<rect x="87.1" y="323.7" width="0.9" height="0.9" opacity="0.99"/>
<rect x="57.4" y="346.9" width="0.9" height="0.9" opacity="0.71"/>
<rect x="73.6" y="323.5" width="0.9" height="0.9" opacity="0.45"/>
<rect x="59.8" y="350.6" width="0.9" height="0.9" opacity="0.80"/>
<rect x="70.9" y="349.6" width="1.3" height="1.3" opacity="0.73"/>
<rect x="57.2" y="336.9" width="0.9" height="0.9" opacity="0.49"/>
<rect x="87.5" y="338.4" width="0.9" height="0.9" opacity="0.88"/>
<rect x="85.5" y="326.6" width="0.9" height="0.9" opacity="0.61"/>
<rect x="62.0" y="326.7" width="1.3" height="1.3" opacity="0.62"/>
<rect x="84.3" y="343.7" width="1.3" height="1.3" opacity="0.67"/>
<rect x="72.6" y="350.0" width="0.9" height="0.9" opacity="0.47"/>
<rect x="77.9" y="326.6" width="0.9" height="0.9" opacity="0.84"/>
<rect x="81.8" y="347.7" width="0.9" height="0.9" opacity="0.48"/>
<rect x="55.9" y="338.2" width="1.3" height="1.3" opacity="0.77"/>
<rect x="75.0" y="321.2" width="1.3" height="1.3" opacity="0.57"/>
<rect x="65.2" y="349.1" width="1.3" height="1.3" opacity="0.70"/>
<rect x="68.4" y="350.8" width="0.9" height="0.9" opacity="0.78"/>
<rect x="58.8" y="354.2" width="0.9" height="0.9" opacity="0.79"/>
<rect x="69.1" y="353.6" width="0.9" height="0.9" opacity="0.87"/>
<rect x="83.0" y="348.7" width="0.9" height="0.9" opacity="0.93"/>
<rect x="70.4" y="348.2" width="0.9" height="0.9" opacity="0.53"/>
<rect x="70.4" y="349.6" width="1.3" height="1.3" opacity="0.46"/>
<rect x="60.2" y="339.5" width="0.9" height="0.9" opacity="0.85"/>
<rect x="65.1" y="349.2" width="0.9" height="0.9" opacity="0.84"/>
<rect x="79.0" y="326.1" width="0.9" height="0.9" opacity="0.82"/>
<rect x="89.3" y="332.9" width="0.9" height="0.9" opacity="0.71"/>
<rect x="72.8" y="325.8" width="0.9" height="0.9" opacity="0.62"/>
<rect x="79.7" y="351.4" width="0.9" height="0.9" opacity="0.49"/>
<rect x="57.9" y="332.5" width="0.9" height="0.9" opacity="0.51"/>
<rect x="61.7" y="353.7" width="0.9" height="0.9" opacity="0.84"/>
<rect x="68.3" y="352.8" width="0.9" height="0.9" opacity="0.98"/>
<rect x="77.9" y="327.9" width="1.3" height="1.3" opacity="0.66"/>
<rect x="79.8" y="328.2" width="0.9" height="0.9" opacity="0.67"/>
<rect x="78.3" y="352.1" width="0.9" height="0.9" opacity="0.80"/>
<rect x="78.2" y="327.2" width="1.3" height="1.3" opacity="0.96"/>
<rect x="91.0" y="315.0" width="1.1" height="1.1" opacity="0.73"/>
<rect x="93.0" y="318.0" width="1.1" height="1.1" opacity="0.51"/>
<rect x="96.0" y="314.0" width="1.1" height="1.1" opacity="0.63"/>
<rect x="96.5" y="320.5" width="1.1" height="1.1" opacity="0.66"/>
<rect x="87.0" y="322.0" width="1.1" height="1.1" opacity="0.79"/>
<rect x="89.0" y="317.0" width="1.1" height="1.1" opacity="0.80"/>
<rect x="86.0" y="324.0" width="1.1" height="1.1" opacity="0.59"/>
<rect x="88.0" y="320.0" width="1.1" height="1.1" opacity="0.66"/>
</g>
</g>
<rect x="59.3" y="259.9" width="94.9" height="89.5" fill="none" stroke="#999" stroke-width="1.2"/>
<text x="0" y="0" font-size="6.2" font-family="Liberation Sans, sans-serif" font-weight="bold" style="stroke-width:0.1px" transform="translate(56.4,356.7) scale(1.25,1)">10<tspan font-size="3.9" dy="-1.8">0</tspan></text>
<text x="0" y="0" font-size="6.2" font-family="Liberation Sans, sans-serif" font-weight="bold" style="stroke-width:0.1px" transform="translate(56.3,351.6) scale(1.25,1) rotate(-90)">10<tspan font-size="3.9" dy="-1.8">0</tspan></text>
<text x="0" y="0" font-size="6.2" font-family="Liberation Sans, sans-serif" font-weight="bold" style="stroke-width:0.1px" transform="translate(80.1,356.7) scale(1.25,1)">10<tspan font-size="3.9" dy="-1.8">1</tspan></text>
<text x="0" y="0" font-size="6.2" font-family="Liberation Sans, sans-serif" font-weight="bold" style="stroke-width:0.1px" transform="translate(56.3,329.2) scale(1.25,1) rotate(-90)">10<tspan font-size="3.9" dy="-1.8">1</tspan></text>
<text x="0" y="0" font-size="6.2" font-family="Liberation Sans, sans-serif" font-weight="bold" style="stroke-width:0.1px" transform="translate(103.8,356.7) scale(1.25,1)">10<tspan font-size="3.9" dy="-1.8">2</tspan></text>
<text x="0" y="0" font-size="6.2" font-family="Liberation Sans, sans-serif" font-weight="bold" style="stroke-width:0.1px" transform="translate(56.3,306.8) scale(1.25,1) rotate(-90)">10<tspan font-size="3.9" dy="-1.8">2</tspan></text>
<text x="0" y="0" font-size="6.2" font-family="Liberation Sans, sans-serif" font-weight="bold" style="stroke-width:0.1px" transform="translate(127.6,356.7) scale(1.25,1)">10<tspan font-size="3.9" dy="-1.8">3</tspan></text>
<text x="0" y="0" font-size="6.2" font-family="Liberation Sans, sans-serif" font-weight="bold" style="stroke-width:0.1px" transform="translate(56.3,284.5) scale(1.25,1) rotate(-90)">10<tspan font-size="3.9" dy="-1.8">3</tspan></text>
<text x="0" y="0" font-size="6.2" font-family="Liberation Sans, sans-serif" font-weight="bold" style="stroke-width:0.1px" transform="translate(151.3,356.7) scale(1.25,1)">10<tspan font-size="3.9" dy="-1.8">4</tspan></text>
<text x="0" y="0" font-size="6.2" font-family="Liberation Sans, sans-serif" font-weight="bold" style="stroke-width:0.1px" transform="translate(56.3,262.1) scale(1.25,1) rotate(-90)">10<tspan font-size="3.9" dy="-1.8">4</tspan></text>
<clipPath id="fc01"><rect x="173.10000000000002" y="260.6" width="94.8" height="89.2"/></clipPath>
<g clip-path="url(#fc01)">
<g fill="none" stroke="#222" stroke-width="1.0" stroke-linejoin="round">
<path d="M197.6,351.9 L196.9,351.8 L196.4,351.7 L195.6,351.7 L194.8,351.5 L194.0,351.5 L193.6,351.4 L192.8,351.3 L192.0,351.1 L191.5,351.4 L190.8,351.7 L190.0,351.5 L189.6,351.2 L189.2,350.9 L188.8,350.6 L188.4,350.1 L188.0,349.6 L187.2,349.5 L186.8,349.4 L186.0,349.1 L185.2,349.2 L184.8,348.6 L184.6,348.2 L184.0,348.0 L183.2,348.2 L182.8,348.2 L182.0,348.5 L181.2,348.4 L180.9,347.8 L181.0,347.0 L180.8,346.2 L180.6,345.8 L180.7,345.0 L181.0,344.6 L181.4,344.2 L182.0,344.0 L182.0,343.4 L181.6,343.1 L181.2,342.7 L180.8,342.2 L181.2,341.6 L181.6,341.3 L182.0,340.6 L182.3,340.2 L182.8,339.9 L183.2,339.8 L184.0,339.4 L184.4,339.3 L185.0,339.0 L185.5,338.6 L186.0,338.2 L186.4,338.1 L187.2,337.8 L187.6,337.4 L187.8,337.0 L188.0,336.6 L188.4,335.8 L188.6,335.4 L189.2,335.0 L189.3,334.6 L189.3,333.8 L189.6,333.1 L189.9,332.6 L190.2,332.2 L190.4,331.6 L190.6,331.0 L190.9,330.6 L191.2,330.1 L191.6,329.8 L192.0,329.0 L192.3,328.6 L192.5,328.2 L192.8,327.4 L193.2,327.1 L194.0,327.1 L194.4,326.9 L195.1,326.6 L195.4,326.2 L195.7,325.8 L196.4,325.5 L196.8,325.4 L197.6,325.0 L198.0,324.9 L198.5,324.6 L199.2,324.2 L199.6,324.0 L200.4,323.8 L200.9,324.2 L201.3,324.6 L202.0,324.9 L202.8,324.8 L203.6,324.9 L204.0,324.5 L204.8,324.3 L205.5,324.6 L206.0,324.6 L206.0,324.6 L206.7,325.0 L206.9,325.4 L207.0,326.2 L207.2,326.9 L207.6,327.1 L208.1,327.4 L208.4,328.2 L208.5,328.6 L208.6,329.4 L208.4,330.1 L208.0,330.6 L207.6,330.9 L207.2,331.2 L207.0,331.8 L206.9,332.6 L206.6,333.0 L206.4,333.4 L206.3,334.2 L206.4,335.0 L206.8,335.4 L207.2,335.7 L207.3,336.2 L207.3,337.0 L207.2,337.4 L207.0,338.2 L207.1,339.0 L206.9,339.8 L206.8,340.4 L206.5,341.0 L206.3,341.4 L206.0,341.9 L205.7,342.6 L205.6,343.0 L205.2,343.7 L205.1,344.2 L204.8,344.9 L204.4,345.4 L204.1,345.8 L203.7,346.2 L203.5,346.6 L203.4,347.4 L203.4,348.2 L203.2,348.6 L202.6,349.0 L202.0,349.1 L201.3,349.4 L200.8,349.8 L200.4,350.2 L200.0,350.4 L199.6,349.9 L199.2,349.7 L198.8,350.2 L198.7,350.6 L198.4,351.2 L198.0,351.6 L197.6,351.9Z"/>
<path d="M187.3,348.2 L187.7,347.8 L187.6,347.0 L187.2,346.9 L186.8,347.1 L186.7,347.8 L187.2,348.2 L187.3,348.2Z"/>
<path d="M197.2,350.6 L196.4,350.9 L195.6,350.8 L195.2,350.6 L194.4,350.2 L194.0,350.0 L193.6,349.5 L193.2,349.3 L192.4,349.2 L191.9,349.4 L191.6,350.1 L191.2,350.4 L190.8,350.7 L190.4,350.6 L189.6,350.5 L189.2,350.2 L188.8,349.5 L188.6,349.0 L188.8,348.5 L189.0,347.8 L189.2,347.4 L189.6,346.7 L189.6,346.5 L189.2,346.1 L188.6,346.2 L188.0,346.4 L187.2,346.3 L186.4,346.5 L186.0,346.7 L185.2,346.9 L184.6,346.6 L184.4,346.0 L184.0,345.7 L183.3,345.8 L182.8,346.0 L182.0,346.1 L181.7,345.4 L182.0,345.0 L182.8,344.9 L183.2,344.6 L183.2,343.9 L182.8,343.4 L182.5,343.0 L182.2,342.6 L182.2,341.8 L182.5,341.4 L183.2,341.3 L183.6,341.5 L184.4,341.4 L185.2,341.4 L185.4,341.0 L185.4,340.2 L185.8,339.8 L186.2,339.4 L186.8,339.0 L187.2,338.6 L187.6,338.3 L188.0,338.0 L188.4,337.4 L188.6,337.0 L189.2,336.6 L189.6,336.4 L190.0,336.1 L190.5,335.8 L190.8,335.1 L190.8,335.0 L190.5,334.2 L190.7,333.4 L191.0,333.0 L191.2,332.6 L191.2,332.2 L191.2,331.5 L191.5,331.0 L191.9,330.6 L192.4,330.2 L192.8,329.9 L193.2,329.5 L193.6,329.0 L194.0,328.6 L194.4,328.4 L195.2,328.4 L195.6,328.8 L196.0,329.0 L196.8,329.0 L197.0,328.6 L197.2,328.1 L197.3,327.4 L197.6,326.8 L198.4,326.9 L199.2,326.8 L199.6,327.0 L200.3,327.0 L200.8,326.6 L201.2,326.4 L201.6,326.1 L202.4,325.8 L202.8,325.8 L203.2,325.9 L204.0,326.0 L204.8,326.2 L205.2,326.2 L205.8,326.6 L206.0,327.1 L206.4,327.6 L206.7,328.2 L206.8,329.0 L207.0,329.4 L207.3,329.8 L207.2,330.3 L206.8,330.7 L206.4,331.1 L206.0,331.7 L205.9,332.2 L205.8,333.0 L205.6,333.4 L205.2,333.8 L204.9,334.6 L205.2,335.2 L205.6,335.8 L205.6,336.2 L205.9,337.0 L205.9,337.8 L205.9,338.6 L205.8,339.4 L205.6,339.8 L205.6,340.6 L205.5,341.4 L205.2,342.1 L205.0,342.6 L204.8,343.0 L204.4,343.8 L204.2,344.2 L203.9,344.6 L203.6,345.0 L203.2,345.5 L202.8,345.9 L202.4,346.6 L202.3,347.0 L202.1,347.8 L201.6,348.1 L201.2,348.2 L200.8,348.1 L200.0,348.1 L199.6,348.3 L198.9,348.6 L198.4,348.9 L198.0,349.2 L197.7,349.8 L197.6,350.4 L197.2,350.6Z"/>
<path d="M196.4,349.5 L195.6,349.7 L194.8,349.4 L194.4,349.2 L194.0,348.9 L193.6,348.6 L192.8,348.3 L192.0,348.4 L191.2,348.6 L190.6,348.2 L190.7,347.4 L190.9,347.0 L190.8,346.5 L190.4,346.1 L189.9,345.8 L189.2,345.5 L188.7,345.4 L188.0,345.3 L187.6,345.6 L186.8,345.7 L186.4,345.8 L185.8,345.8 L185.2,345.4 L184.9,345.0 L184.7,344.6 L184.6,343.8 L184.8,343.2 L185.3,343.0 L186.0,342.8 L186.8,342.9 L187.6,343.0 L188.1,343.0 L188.6,343.0 L189.0,342.6 L188.8,341.9 L188.4,341.4 L188.0,341.0 L187.6,340.8 L187.2,341.2 L186.7,341.0 L186.8,340.4 L187.2,340.2 L187.5,339.4 L187.8,339.0 L188.4,338.7 L188.8,338.6 L189.4,338.2 L190.0,337.8 L190.2,337.4 L190.5,337.0 L191.0,336.6 L191.4,336.2 L191.8,335.8 L192.0,335.3 L192.4,334.9 L192.8,334.5 L193.2,334.2 L193.6,333.4 L193.6,333.0 L193.2,332.6 L192.8,332.5 L192.4,331.8 L192.6,331.0 L193.0,330.6 L193.5,330.2 L193.9,329.8 L194.4,329.5 L195.2,329.6 L196.0,329.7 L196.8,329.6 L197.2,329.4 L197.6,328.7 L197.9,328.2 L198.2,327.8 L198.8,327.6 L199.6,327.7 L200.4,327.7 L201.1,327.4 L201.6,327.1 L202.0,326.6 L202.4,326.5 L202.8,326.7 L203.3,327.0 L204.0,327.3 L204.6,327.4 L205.1,327.8 L205.4,328.2 L205.5,329.0 L205.3,329.8 L204.8,329.9 L204.1,329.8 L203.6,329.5 L203.1,329.8 L203.1,330.6 L203.4,331.0 L203.6,331.4 L204.1,331.8 L204.7,332.2 L204.9,332.6 L204.8,333.4 L204.6,333.8 L204.4,334.2 L204.3,335.0 L204.3,335.8 L204.4,336.3 L204.7,337.0 L204.8,337.4 L205.0,338.2 L204.9,339.0 L204.7,339.4 L204.5,340.2 L204.2,340.6 L203.8,341.0 L203.6,341.5 L203.3,342.2 L203.2,342.6 L203.2,343.4 L203.0,344.2 L202.8,344.8 L202.4,345.3 L202.0,345.8 L201.7,346.2 L201.2,346.5 L200.5,346.6 L200.0,346.7 L199.2,347.0 L198.8,347.3 L198.4,347.5 L198.0,347.8 L197.6,348.2 L197.2,348.6 L196.8,349.1 L196.4,349.5Z"/>
<path d="M184.0,343.2 L183.3,343.0 L183.2,342.6 L183.6,342.5 L184.0,342.9 L184.0,343.2Z"/>
<path d="M196.0,348.4 L195.6,348.2 L195.2,347.7 L194.7,347.4 L194.0,347.3 L193.3,347.0 L192.9,346.6 L192.7,346.2 L192.4,345.6 L191.6,345.4 L190.8,345.5 L190.4,345.4 L189.6,345.0 L189.2,344.9 L188.7,344.6 L188.9,344.2 L189.3,343.8 L189.6,343.0 L189.9,342.6 L190.4,342.2 L190.7,341.8 L190.7,341.0 L190.8,340.4 L190.9,339.8 L191.2,339.1 L191.6,338.7 L192.0,338.3 L192.0,337.8 L192.0,337.4 L192.0,336.9 L192.3,336.2 L192.6,335.8 L192.9,335.4 L193.3,335.0 L193.9,334.6 L194.2,334.2 L194.6,333.8 L194.8,333.4 L194.9,332.6 L194.8,332.2 L194.8,331.6 L195.2,331.0 L195.6,330.9 L196.4,330.7 L196.8,330.5 L197.6,330.4 L198.1,330.2 L198.4,329.7 L198.5,329.0 L198.8,328.5 L199.2,328.7 L199.9,328.6 L200.4,328.5 L201.2,328.2 L201.8,328.6 L202.0,329.0 L202.1,329.8 L202.0,330.2 L201.8,331.0 L202.0,331.7 L202.4,332.2 L202.8,332.6 L203.2,332.6 L203.9,333.0 L203.6,333.7 L203.6,334.2 L203.6,334.6 L203.6,335.2 L203.4,335.8 L203.2,336.2 L203.2,336.8 L203.5,337.4 L203.6,337.8 L203.6,338.5 L203.5,339.0 L203.3,339.8 L203.0,340.2 L202.8,340.7 L202.4,341.4 L202.2,341.8 L202.0,342.2 L201.8,343.0 L201.8,343.8 L201.9,344.6 L201.5,345.0 L200.8,345.4 L200.0,345.4 L199.6,345.5 L199.2,345.9 L198.6,346.2 L198.0,346.5 L197.5,346.6 L197.0,347.0 L196.7,347.4 L196.4,348.2 L196.0,348.4Z"/>
<path d="M189.2,341.2 L188.8,340.8 L188.7,340.2 L189.2,339.9 L189.9,340.2 L189.6,340.8 L189.2,341.2Z"/>
<path d="M187.2,344.6 L186.4,344.7 L186.0,344.5 L186.0,344.1 L186.8,344.1 L187.2,344.2 L187.2,344.6Z"/>
<path d="M195.6,345.9 L195.2,345.8 L194.7,345.8 L194.0,345.9 L193.6,345.7 L193.5,345.0 L193.6,344.6 L194.0,344.0 L194.1,343.4 L193.8,343.4 L193.2,343.7 L192.8,343.4 L192.6,342.6 L192.4,341.9 L192.4,341.4 L192.4,340.6 L192.5,340.2 L192.7,339.4 L192.8,339.0 L193.1,338.2 L193.0,337.4 L193.0,336.6 L193.2,336.1 L193.6,335.7 L194.0,335.4 L194.6,335.0 L195.0,334.6 L195.4,334.2 L195.7,333.8 L196.0,333.1 L196.4,332.9 L197.0,332.6 L197.6,332.2 L198.0,332.0 L198.4,331.6 L198.8,331.1 L199.2,330.9 L199.6,330.6 L200.4,330.2 L200.9,330.6 L201.2,331.4 L201.2,331.8 L201.3,332.6 L201.6,333.4 L202.0,333.8 L202.1,334.2 L202.2,335.0 L202.0,335.5 L201.9,336.2 L201.9,337.0 L202.0,337.6 L202.2,338.2 L202.4,339.0 L202.2,339.8 L201.9,340.2 L201.6,340.7 L200.8,340.9 L200.4,341.1 L200.1,341.8 L200.1,342.6 L200.0,343.0 L199.6,343.8 L199.2,344.1 L198.4,344.2 L198.0,344.2 L197.3,344.6 L197.0,345.0 L196.7,345.4 L196.0,345.8 L195.6,345.9Z"/>
<path d="M190.8,344.3 L190.0,344.2 L190.0,343.8 L190.3,343.4 L190.5,343.4 L191.0,343.8 L190.8,344.3Z"/>
</g>
<g fill="#222">
<rect x="182.3" y="347.4" width="0.9" height="0.9" opacity="0.67"/>
<rect x="196.4" y="321.3" width="1.3" height="1.3" opacity="0.80"/>
<rect x="192.0" y="350.4" width="0.9" height="0.9" opacity="0.81"/>
<rect x="202.4" y="354.5" width="0.9" height="0.9" opacity="0.79"/>
<rect x="199.9" y="325.5" width="1.3" height="1.3" opacity="0.58"/>
<rect x="176.6" y="344.5" width="0.9" height="0.9" opacity="0.63"/>
<rect x="205.0" y="345.1" width="1.3" height="1.3" opacity="0.46"/>
<rect x="204.9" y="345.9" width="1.3" height="1.3" opacity="0.91"/>
<rect x="199.4" y="351.3" width="0.9" height="0.9" opacity="0.69"/>
<rect x="189.9" y="328.9" width="1.3" height="1.3" opacity="0.55"/>
<rect x="208.8" y="342.9" width="1.3" height="1.3" opacity="0.97"/>
<rect x="190.0" y="326.0" width="0.9" height="0.9" opacity="0.89"/>
<rect x="208.7" y="335.5" width="0.9" height="0.9" opacity="0.88"/>
<rect x="201.1" y="321.1" width="0.9" height="0.9" opacity="0.79"/>
<rect x="202.8" y="346.9" width="0.9" height="0.9" opacity="0.46"/>
<rect x="206.6" y="336.8" width="1.3" height="1.3" opacity="0.80"/>
<rect x="201.5" y="322.3" width="0.9" height="0.9" opacity="1.00"/>
<rect x="205.8" y="344.2" width="0.9" height="0.9" opacity="0.48"/>
<rect x="181.8" y="343.0" width="0.9" height="0.9" opacity="0.64"/>
<rect x="182.4" y="349.6" width="1.3" height="1.3" opacity="0.47"/>
<rect x="205.2" y="326.0" width="0.9" height="0.9" opacity="0.96"/>
<rect x="188.8" y="352.4" width="0.9" height="0.9" opacity="0.76"/>
<rect x="210.0" y="327.5" width="0.9" height="0.9" opacity="0.87"/>
<rect x="201.0" y="352.6" width="0.9" height="0.9" opacity="0.63"/>
<rect x="195.4" y="325.4" width="0.9" height="0.9" opacity="0.94"/>
<rect x="201.9" y="321.6" width="0.9" height="0.9" opacity="0.63"/>
<rect x="198.0" y="352.4" width="0.9" height="0.9" opacity="0.81"/>
<rect x="209.5" y="335.2" width="1.3" height="1.3" opacity="0.75"/>
<rect x="190.9" y="330.5" width="0.9" height="0.9" opacity="0.65"/>
<rect x="187.7" y="346.9" width="1.3" height="1.3" opacity="0.77"/>
<rect x="208.9" y="326.1" width="1.3" height="1.3" opacity="0.97"/>
<rect x="181.2" y="341.7" width="0.9" height="0.9" opacity="0.58"/>
<rect x="180.4" y="347.3" width="0.9" height="0.9" opacity="0.83"/>
<rect x="204.4" y="346.9" width="0.9" height="0.9" opacity="0.99"/>
<rect x="194.6" y="353.6" width="0.9" height="0.9" opacity="0.61"/>
<rect x="206.6" y="334.2" width="0.9" height="0.9" opacity="0.74"/>
<rect x="189.4" y="354.3" width="0.9" height="0.9" opacity="0.66"/>
<rect x="200.7" y="326.1" width="0.9" height="0.9" opacity="0.59"/>
<rect x="199.2" y="322.4" width="0.9" height="0.9" opacity="0.79"/>
<rect x="208.7" y="333.3" width="0.9" height="0.9" opacity="0.62"/>
<rect x="193.8" y="355.2" width="0.9" height="0.9" opacity="0.92"/>
<rect x="194.9" y="327.0" width="0.9" height="0.9" opacity="0.60"/>
<rect x="182.7" y="350.4" width="0.9" height="0.9" opacity="0.50"/>
<rect x="189.1" y="329.4" width="0.9" height="0.9" opacity="0.90"/>
<rect x="186.2" y="349.7" width="0.9" height="0.9" opacity="0.89"/>
<rect x="179.8" y="344.7" width="1.3" height="1.3" opacity="0.80"/>
<rect x="189.6" y="330.5" width="0.9" height="0.9" opacity="0.71"/>
<rect x="206.7" y="340.5" width="0.9" height="0.9" opacity="0.94"/>
<rect x="209.2" y="327.8" width="1.3" height="1.3" opacity="0.78"/>
<rect x="177.8" y="341.9" width="1.3" height="1.3" opacity="0.74"/>
<rect x="189.4" y="331.7" width="1.3" height="1.3" opacity="0.69"/>
<rect x="209.4" y="325.9" width="0.9" height="0.9" opacity="0.79"/>
<rect x="210.2" y="336.5" width="0.9" height="0.9" opacity="0.55"/>
<rect x="187.9" y="330.4" width="1.3" height="1.3" opacity="0.76"/>
<rect x="193.3" y="322.8" width="0.9" height="0.9" opacity="0.85"/>
<rect x="182.1" y="339.6" width="1.3" height="1.3" opacity="0.81"/>
<rect x="195.7" y="326.8" width="0.9" height="0.9" opacity="0.69"/>
<rect x="207.9" y="333.4" width="0.9" height="0.9" opacity="0.66"/>
<rect x="209.7" y="330.9" width="0.9" height="0.9" opacity="0.67"/>
<rect x="207.0" y="334.7" width="0.9" height="0.9" opacity="0.59"/>
<rect x="201.6" y="350.8" width="0.9" height="0.9" opacity="0.66"/>
<rect x="188.1" y="330.9" width="0.9" height="0.9" opacity="0.62"/>
<rect x="198.1" y="353.2" width="1.3" height="1.3" opacity="0.93"/>
<rect x="200.7" y="349.3" width="1.3" height="1.3" opacity="0.78"/>
<rect x="197.8" y="323.5" width="1.3" height="1.3" opacity="0.80"/>
<rect x="202.2" y="353.5" width="0.9" height="0.9" opacity="0.77"/>
<rect x="186.9" y="350.5" width="0.9" height="0.9" opacity="0.98"/>
<rect x="198.0" y="353.3" width="0.9" height="0.9" opacity="0.76"/>
<rect x="207.3" y="325.3" width="0.9" height="0.9" opacity="0.66"/>
<rect x="191.9" y="329.9" width="0.9" height="0.9" opacity="0.77"/>
<rect x="198.7" y="326.4" width="0.9" height="0.9" opacity="0.96"/>
<rect x="182.2" y="340.4" width="0.9" height="0.9" opacity="0.57"/>
<rect x="198.2" y="322.4" width="0.9" height="0.9" opacity="0.95"/>
<rect x="203.9" y="347.6" width="1.3" height="1.3" opacity="0.61"/>
<rect x="206.1" y="322.9" width="0.9" height="0.9" opacity="0.86"/>
<rect x="185.5" y="347.3" width="1.3" height="1.3" opacity="0.98"/>
<rect x="193.4" y="324.1" width="1.3" height="1.3" opacity="0.82"/>
<rect x="208.6" y="329.6" width="1.3" height="1.3" opacity="0.57"/>
<rect x="178.2" y="343.0" width="1.3" height="1.3" opacity="0.48"/>
<rect x="177.7" y="345.1" width="0.9" height="0.9" opacity="0.67"/>
<rect x="200.3" y="324.0" width="1.3" height="1.3" opacity="0.73"/>
<rect x="189.0" y="350.9" width="1.3" height="1.3" opacity="0.90"/>
<rect x="188.2" y="334.0" width="1.3" height="1.3" opacity="0.64"/>
<rect x="206.5" y="336.8" width="1.3" height="1.3" opacity="0.48"/>
<rect x="189.5" y="333.6" width="1.3" height="1.3" opacity="0.98"/>
<rect x="182.1" y="348.0" width="1.3" height="1.3" opacity="0.86"/>
<rect x="197.6" y="355.0" width="0.9" height="0.9" opacity="0.96"/>
<rect x="198.1" y="352.0" width="0.9" height="0.9" opacity="0.57"/>
<rect x="184.0" y="349.1" width="1.3" height="1.3" opacity="0.45"/>
<rect x="207.0" y="332.9" width="0.9" height="0.9" opacity="0.82"/>
<rect x="180.9" y="341.3" width="1.3" height="1.3" opacity="0.68"/>
<rect x="188.3" y="352.0" width="0.9" height="0.9" opacity="0.54"/>
<rect x="181.5" y="347.8" width="0.9" height="0.9" opacity="0.48"/>
<rect x="198.5" y="355.9" width="0.9" height="0.9" opacity="0.90"/>
<rect x="180.6" y="351.0" width="1.3" height="1.3" opacity="0.57"/>
<rect x="181.3" y="340.7" width="0.9" height="0.9" opacity="0.76"/>
<rect x="195.4" y="322.0" width="0.9" height="0.9" opacity="0.75"/>
<rect x="197.3" y="321.0" width="0.9" height="0.9" opacity="0.97"/>
<rect x="197.5" y="353.2" width="0.9" height="0.9" opacity="0.48"/>
<rect x="185.5" y="347.8" width="0.9" height="0.9" opacity="0.75"/>
<rect x="210.5" y="318.8" width="1.1" height="1.1" opacity="0.45"/>
<rect x="180.0" y="338.0" width="1.1" height="1.1" opacity="0.49"/>
<rect x="179.0" y="343.0" width="1.1" height="1.1" opacity="0.36"/>
<rect x="181.0" y="335.0" width="1.1" height="1.1" opacity="0.78"/>
<rect x="178.0" y="346.0" width="1.1" height="1.1" opacity="0.45"/>
</g>
</g>
<rect x="172.8" y="260.6" width="95.1" height="89.5" fill="none" stroke="#999" stroke-width="1.2"/>
<text x="0" y="0" font-size="6.2" font-family="Liberation Sans, sans-serif" font-weight="bold" style="stroke-width:0.1px" transform="translate(169.9,357.4) scale(1.25,1)">10<tspan font-size="3.9" dy="-1.8">0</tspan></text>
<text x="0" y="0" font-size="6.2" font-family="Liberation Sans, sans-serif" font-weight="bold" style="stroke-width:0.1px" transform="translate(169.8,352.3) scale(1.25,1) rotate(-90)">10<tspan font-size="3.9" dy="-1.8">0</tspan></text>
<text x="0" y="0" font-size="6.2" font-family="Liberation Sans, sans-serif" font-weight="bold" style="stroke-width:0.1px" transform="translate(193.7,357.4) scale(1.25,1)">10<tspan font-size="3.9" dy="-1.8">1</tspan></text>
<text x="0" y="0" font-size="6.2" font-family="Liberation Sans, sans-serif" font-weight="bold" style="stroke-width:0.1px" transform="translate(169.8,329.9) scale(1.25,1) rotate(-90)">10<tspan font-size="3.9" dy="-1.8">1</tspan></text>
<text x="0" y="0" font-size="6.2" font-family="Liberation Sans, sans-serif" font-weight="bold" style="stroke-width:0.1px" transform="translate(217.4,357.4) scale(1.25,1)">10<tspan font-size="3.9" dy="-1.8">2</tspan></text>
<text x="0" y="0" font-size="6.2" font-family="Liberation Sans, sans-serif" font-weight="bold" style="stroke-width:0.1px" transform="translate(169.8,307.6) scale(1.25,1) rotate(-90)">10<tspan font-size="3.9" dy="-1.8">2</tspan></text>
<text x="0" y="0" font-size="6.2" font-family="Liberation Sans, sans-serif" font-weight="bold" style="stroke-width:0.1px" transform="translate(241.2,357.4) scale(1.25,1)">10<tspan font-size="3.9" dy="-1.8">3</tspan></text>
<text x="0" y="0" font-size="6.2" font-family="Liberation Sans, sans-serif" font-weight="bold" style="stroke-width:0.1px" transform="translate(169.8,285.2) scale(1.25,1) rotate(-90)">10<tspan font-size="3.9" dy="-1.8">3</tspan></text>
<text x="0" y="0" font-size="6.2" font-family="Liberation Sans, sans-serif" font-weight="bold" style="stroke-width:0.1px" transform="translate(265.0,357.4) scale(1.25,1)">10<tspan font-size="3.9" dy="-1.8">4</tspan></text>
<text x="0" y="0" font-size="6.2" font-family="Liberation Sans, sans-serif" font-weight="bold" style="stroke-width:0.1px" transform="translate(169.8,262.8) scale(1.25,1) rotate(-90)">10<tspan font-size="3.9" dy="-1.8">4</tspan></text>
<clipPath id="fc10"><rect x="58.9" y="370.5" width="94.9" height="88.9"/></clipPath>
<g clip-path="url(#fc10)">
<g fill="none" stroke="#222" stroke-width="1.0" stroke-linejoin="round">
<path d="M75.0,463.0 L74.2,462.9 L73.8,462.8 L73.4,462.3 L73.0,462.0 L72.2,462.0 L71.8,462.1 L71.4,462.0 L70.9,462.1 L70.2,462.3 L69.8,461.7 L69.5,461.3 L69.3,461.3 L69.0,461.7 L68.4,462.1 L68.1,462.5 L67.8,463.1 L67.0,463.1 L66.6,462.8 L66.2,462.4 L65.4,462.2 L64.7,462.5 L64.2,462.5 L63.8,462.4 L63.3,462.1 L62.8,461.7 L62.5,461.3 L62.2,460.9 L61.8,460.4 L61.1,460.5 L60.6,460.7 L59.8,460.7 L59.4,460.9 L59.0,460.9 L58.4,460.5 L58.4,459.7 L58.6,459.2 L58.6,458.7 L58.3,458.1 L58.0,457.7 L58.5,457.3 L58.8,456.9 L58.6,456.4 L58.2,456.0 L57.8,455.5 L57.6,454.9 L57.5,454.1 L57.4,453.3 L57.4,452.9 L57.4,452.2 L57.5,451.7 L57.6,450.9 L57.4,450.5 L57.4,449.7 L57.4,449.3 L57.8,448.7 L58.2,448.4 L58.6,447.7 L58.3,446.9 L58.4,446.1 L59.0,445.8 L59.5,445.7 L59.8,445.3 L59.9,444.5 L60.6,444.3 L61.0,444.0 L61.4,443.3 L61.8,442.9 L62.2,442.9 L62.6,442.5 L63.4,442.2 L63.6,441.7 L63.4,441.3 L63.1,440.5 L63.4,439.7 L63.8,439.4 L64.3,439.7 L64.7,440.1 L65.4,440.4 L65.7,440.9 L66.2,441.3 L66.6,441.5 L67.0,441.0 L67.1,440.5 L67.4,440.0 L67.8,439.6 L68.0,438.9 L68.5,438.5 L68.9,438.1 L69.4,437.8 L69.8,437.6 L70.2,437.1 L70.6,436.6 L71.0,436.4 L71.8,436.4 L72.6,436.5 L73.4,436.1 L73.8,435.7 L74.2,435.5 L75.0,435.4 L75.6,435.7 L76.2,436.1 L76.5,436.5 L76.6,436.9 L77.4,437.0 L78.1,437.3 L78.4,437.3 L79.0,437.1 L79.8,436.9 L80.3,437.3 L80.8,437.7 L81.4,438.0 L81.8,438.1 L82.6,438.1 L83.2,438.1 L83.8,437.8 L84.2,437.5 L84.6,437.1 L84.6,436.6 L84.5,436.1 L84.6,435.7 L84.7,434.9 L85.0,434.4 L85.4,434.5 L86.1,434.9 L86.5,434.9 L86.9,434.5 L86.7,433.7 L86.6,433.1 L85.8,432.9 L85.7,432.5 L85.8,432.1 L86.1,431.3 L86.3,430.9 L86.2,430.3 L86.2,429.8 L86.5,429.3 L86.9,428.9 L87.2,428.9 L87.8,429.3 L88.2,429.5 L88.6,429.7 L89.0,430.5 L89.0,431.3 L89.0,431.7 L88.8,432.1 L88.5,432.5 L88.2,433.2 L88.0,433.7 L87.7,434.1 L87.1,434.5 L87.4,434.9 L87.8,435.7 L87.7,436.5 L87.8,437.1 L88.3,437.3 L88.3,438.1 L88.0,438.5 L87.8,439.0 L87.0,439.3 L86.8,439.7 L86.2,440.1 L85.9,440.5 L85.7,440.9 L85.7,441.7 L85.9,442.1 L86.0,442.9 L86.2,443.6 L86.5,444.1 L86.8,444.5 L87.0,445.3 L86.7,446.1 L86.5,446.5 L86.2,447.2 L86.2,447.4 L86.6,448.1 L86.9,448.5 L87.1,448.9 L87.1,449.7 L87.0,450.5 L87.2,451.3 L87.3,452.1 L86.9,452.5 L86.2,452.8 L85.8,453.1 L85.4,453.4 L85.2,454.1 L85.4,454.9 L85.5,455.3 L85.4,456.1 L85.1,456.5 L84.6,456.9 L84.2,457.1 L83.8,457.3 L83.3,457.7 L83.0,458.1 L82.8,458.9 L82.6,459.5 L82.2,459.8 L81.7,460.1 L81.3,460.5 L80.6,460.8 L79.8,460.9 L79.4,461.0 L78.9,461.3 L78.2,461.6 L77.8,461.7 L77.4,461.6 L76.8,461.7 L76.2,462.1 L75.8,462.4 L75.4,462.8 L75.0,463.0Z"/>
<path d="M83.4,430.1 L83.3,429.7 L83.8,429.7 L83.8,429.8 L83.4,430.1Z"/>
<path d="M82.6,432.7 L81.8,432.8 L81.3,432.5 L81.4,431.9 L81.8,431.5 L82.3,431.3 L82.7,431.3 L82.9,432.1 L82.6,432.7Z"/>
<path d="M67.0,462.1 L66.6,462.1 L66.1,461.7 L65.8,461.3 L65.4,460.6 L65.1,460.1 L64.6,459.8 L64.4,460.5 L64.2,461.0 L63.4,461.2 L63.0,460.8 L62.6,460.5 L62.2,459.9 L61.8,459.3 L61.4,459.2 L60.6,459.1 L59.8,458.9 L59.5,458.5 L59.2,458.1 L59.3,457.3 L59.5,456.9 L59.4,456.5 L59.0,456.0 L58.6,455.3 L58.3,454.9 L58.2,454.1 L58.3,453.3 L58.4,452.5 L58.8,452.1 L59.1,451.7 L59.1,450.9 L58.7,450.5 L58.2,450.3 L57.8,449.7 L58.2,448.9 L58.6,448.7 L59.0,448.1 L58.8,447.3 L58.9,446.5 L59.4,446.3 L59.9,446.1 L60.4,445.7 L60.8,445.3 L61.1,444.9 L61.4,444.4 L61.8,444.0 L62.2,443.5 L63.0,443.5 L63.7,443.7 L64.2,444.0 L64.6,443.6 L64.8,442.9 L64.7,442.1 L65.0,441.7 L65.4,441.7 L65.9,442.1 L66.6,442.3 L67.0,442.1 L67.4,441.7 L67.8,441.2 L68.2,440.6 L68.6,440.2 L69.0,439.9 L69.8,439.8 L70.6,439.8 L71.4,439.7 L71.5,439.3 L71.7,438.5 L71.8,437.9 L72.2,437.7 L73.0,437.6 L73.4,437.7 L73.8,437.6 L74.2,437.3 L74.6,436.5 L75.0,436.4 L75.5,436.5 L75.8,436.9 L76.2,437.6 L76.6,437.8 L77.0,438.4 L77.4,438.8 L78.2,438.8 L79.0,438.6 L79.3,438.1 L79.8,437.9 L80.2,438.3 L80.6,438.6 L81.4,438.8 L81.7,439.3 L81.4,440.0 L81.0,440.5 L81.4,441.2 L82.2,440.9 L82.4,440.5 L82.6,439.9 L83.2,439.7 L83.2,438.9 L83.7,438.5 L84.2,438.3 L85.0,438.5 L85.1,438.9 L85.1,439.7 L84.9,440.1 L84.6,440.9 L84.7,441.7 L84.6,442.3 L84.6,442.7 L84.8,443.3 L85.0,443.7 L85.4,444.3 L85.8,444.7 L86.1,445.3 L85.9,446.1 L85.5,446.5 L85.0,446.7 L84.2,446.8 L83.8,446.9 L83.4,447.3 L83.1,448.1 L83.4,448.8 L84.2,448.6 L84.6,448.3 L85.3,448.1 L85.5,448.1 L86.0,448.5 L86.0,449.3 L85.8,450.1 L85.8,450.5 L85.6,451.3 L85.4,451.7 L85.0,452.1 L84.6,452.8 L84.5,453.3 L84.5,454.1 L84.6,454.5 L84.6,455.3 L84.4,455.7 L84.1,456.1 L83.4,456.4 L83.0,456.5 L82.2,456.9 L81.8,457.2 L81.4,457.4 L81.0,458.1 L80.9,458.5 L80.5,458.9 L80.2,459.6 L79.8,459.9 L79.0,460.0 L78.2,459.8 L77.7,460.1 L77.0,460.5 L76.6,460.6 L76.2,460.9 L75.8,461.4 L75.4,461.7 L74.6,461.8 L74.2,461.3 L74.1,460.9 L74.2,460.1 L73.8,459.3 L73.4,459.1 L72.6,459.3 L72.2,459.6 L71.8,459.9 L71.0,460.0 L70.6,460.1 L70.4,459.7 L70.2,459.0 L69.8,458.5 L69.4,458.4 L69.1,458.9 L69.0,459.4 L68.7,460.1 L68.5,460.5 L68.2,461.2 L67.8,461.5 L67.4,461.8 L67.0,462.1Z"/>
<path d="M75.4,459.9 L74.9,459.7 L74.6,459.2 L74.3,458.5 L73.8,458.2 L73.0,458.3 L72.2,458.5 L71.5,458.1 L71.3,457.7 L71.0,457.3 L70.3,456.9 L69.9,456.5 L69.6,456.1 L69.0,455.8 L68.3,456.1 L67.8,456.4 L67.4,456.6 L66.6,456.5 L66.2,456.3 L65.8,456.7 L65.4,457.2 L65.3,457.7 L65.0,458.3 L64.6,458.7 L63.8,458.8 L63.6,459.3 L63.4,459.9 L63.0,459.6 L62.6,459.2 L62.2,458.5 L62.0,458.1 L61.4,457.7 L61.0,457.5 L60.5,457.3 L60.2,456.9 L60.0,456.1 L59.8,455.6 L59.6,454.9 L59.5,454.1 L59.2,453.7 L59.4,452.9 L59.8,452.5 L60.0,452.1 L60.3,451.7 L60.4,450.9 L60.2,450.5 L59.4,450.1 L59.0,449.9 L58.9,449.3 L59.3,448.9 L59.5,448.5 L59.4,447.8 L59.3,447.3 L59.5,446.9 L60.2,446.6 L60.6,446.3 L61.0,446.1 L61.8,445.7 L61.9,445.7 L62.6,445.8 L63.0,445.5 L63.4,445.0 L63.9,444.9 L64.6,444.9 L65.0,445.0 L65.8,445.1 L66.3,444.9 L66.6,444.1 L66.6,443.4 L67.0,443.0 L67.4,442.8 L68.2,442.8 L68.7,442.5 L69.0,442.0 L69.4,442.2 L70.2,442.2 L70.9,442.1 L71.1,442.1 L71.7,442.1 L71.7,441.3 L71.8,440.9 L72.2,440.3 L72.6,439.8 L73.0,439.5 L73.4,439.3 L74.1,439.3 L74.4,439.7 L74.8,440.1 L75.4,440.5 L75.8,440.6 L76.4,440.5 L76.9,440.1 L77.4,439.8 L77.8,439.7 L78.2,439.7 L79.0,440.1 L79.3,440.5 L79.8,440.8 L80.2,441.0 L80.6,441.4 L81.0,441.9 L81.4,442.2 L82.2,442.2 L83.0,442.5 L83.4,442.9 L83.8,443.2 L84.0,443.7 L84.2,444.1 L84.5,444.9 L84.3,445.7 L83.8,446.1 L83.4,446.3 L82.9,446.5 L82.6,446.9 L82.4,447.7 L82.4,448.5 L82.6,449.1 L83.0,449.7 L83.8,449.5 L84.6,449.3 L84.8,450.1 L84.5,450.5 L83.8,450.8 L83.5,451.3 L83.5,452.1 L83.4,452.9 L83.5,453.7 L83.8,454.4 L83.8,454.6 L83.4,455.1 L82.6,455.3 L82.3,455.7 L81.9,456.1 L81.4,456.2 L80.6,456.3 L80.2,456.6 L80.0,457.3 L79.7,457.7 L79.0,458.1 L78.6,458.3 L77.8,458.5 L77.4,458.7 L76.8,458.9 L76.3,459.3 L75.8,459.7 L75.4,459.9Z"/>
<path d="M67.0,454.5 L67.3,453.7 L66.6,453.6 L66.2,453.9 L66.2,454.5 L66.6,454.7 L67.0,454.5Z"/>
<path d="M67.4,461.0 L66.6,461.2 L66.3,460.5 L66.3,459.7 L66.3,458.9 L66.6,458.5 L67.4,458.3 L68.2,458.3 L68.3,458.9 L68.2,459.7 L68.0,460.1 L67.8,460.5 L67.4,461.0Z"/>
<path d="M72.6,457.3 L72.2,457.0 L71.8,456.6 L71.4,456.4 L70.8,456.1 L70.4,455.7 L69.8,455.5 L69.4,455.2 L69.0,454.8 L68.6,454.4 L68.3,453.7 L68.0,453.3 L67.4,453.0 L66.6,453.0 L65.8,453.2 L65.5,453.7 L65.4,454.2 L65.4,454.8 L65.5,455.3 L65.4,455.8 L65.1,456.5 L64.8,456.9 L64.3,457.3 L63.8,457.5 L63.0,457.5 L62.6,457.2 L62.5,456.5 L63.0,456.3 L63.0,455.7 L62.6,455.4 L62.4,454.9 L62.2,454.1 L62.6,453.7 L63.0,453.3 L63.3,452.5 L63.1,451.7 L62.7,451.3 L62.4,450.9 L62.6,450.4 L63.0,450.1 L63.8,449.7 L64.6,449.8 L65.4,449.7 L65.8,450.5 L66.2,450.7 L67.0,450.5 L67.4,450.1 L67.5,449.7 L67.4,449.3 L67.0,448.5 L66.7,448.5 L66.4,448.9 L65.8,449.2 L65.3,448.9 L64.9,448.5 L64.5,448.1 L63.8,448.1 L63.4,447.7 L63.4,447.3 L63.5,446.5 L63.9,446.1 L64.6,445.9 L65.4,445.7 L66.2,445.8 L66.6,445.7 L67.1,445.3 L67.6,444.9 L68.0,444.5 L68.6,444.2 L69.3,444.1 L69.5,443.7 L70.1,443.3 L70.6,443.2 L71.4,443.3 L71.8,443.3 L72.6,443.3 L73.0,443.2 L73.8,443.1 L74.5,442.9 L74.3,442.1 L73.8,441.9 L73.4,441.7 L73.0,441.3 L73.1,440.9 L73.8,440.7 L74.4,440.9 L75.0,441.1 L75.5,441.3 L76.2,441.3 L76.6,441.2 L77.4,440.9 L78.2,441.1 L78.6,441.4 L79.0,441.9 L79.4,442.5 L78.9,442.9 L79.0,443.7 L79.4,444.1 L79.8,444.2 L80.6,444.3 L81.1,444.1 L81.8,443.7 L82.2,443.7 L82.6,444.0 L82.7,444.5 L82.6,445.2 L82.2,445.6 L81.8,445.9 L81.6,446.5 L81.4,447.2 L81.4,447.6 L81.5,448.1 L81.6,448.9 L81.9,449.3 L82.2,450.0 L82.3,450.5 L82.4,451.3 L82.4,452.1 L82.1,452.5 L81.7,452.9 L81.3,453.3 L80.9,453.7 L80.6,454.3 L80.6,454.9 L80.2,455.4 L79.8,455.7 L79.4,456.1 L79.0,456.9 L78.6,457.1 L77.8,457.1 L77.4,456.5 L77.0,456.3 L76.2,456.5 L75.8,456.9 L75.4,457.2 L74.6,457.2 L73.8,457.1 L73.0,457.2 L72.6,457.3Z"/>
<path d="M75.4,455.8 L74.6,455.9 L73.9,455.7 L73.4,455.3 L73.0,455.1 L72.6,454.9 L71.8,454.8 L71.0,454.9 L70.2,454.6 L69.9,454.1 L69.7,453.7 L69.8,452.9 L70.2,452.6 L70.2,452.4 L69.8,451.9 L69.4,451.7 L69.3,450.9 L69.6,450.5 L69.5,449.7 L69.0,449.3 L68.6,449.0 L68.3,448.5 L68.1,448.1 L67.8,447.5 L67.7,446.9 L68.0,446.5 L68.2,446.1 L69.0,446.0 L69.4,446.1 L70.2,446.3 L71.0,446.1 L71.3,445.7 L71.2,444.9 L71.4,444.2 L71.8,444.1 L72.6,444.0 L73.4,444.1 L73.5,444.1 L74.2,444.0 L75.0,443.8 L75.3,443.3 L75.6,442.9 L76.2,442.5 L76.6,442.4 L77.0,442.5 L77.4,442.9 L77.8,443.5 L78.2,444.1 L78.5,444.5 L78.9,444.9 L79.4,445.0 L80.2,445.1 L80.6,445.6 L80.7,446.1 L80.6,446.9 L80.6,447.3 L80.6,447.7 L80.8,448.5 L80.8,449.3 L80.6,450.0 L80.5,450.5 L80.6,450.9 L80.6,451.3 L80.2,451.8 L80.0,452.5 L79.8,453.1 L79.5,453.7 L79.3,454.1 L78.9,454.5 L78.2,454.8 L77.4,454.8 L76.9,454.9 L76.3,455.3 L75.8,455.6 L75.4,455.8Z"/>
<path d="M69.4,453.2 L68.9,452.9 L68.2,452.6 L67.8,452.4 L67.0,452.3 L66.8,451.7 L67.1,451.3 L67.8,451.1 L68.2,451.3 L68.6,451.8 L69.0,452.1 L69.4,452.7 L69.4,453.2Z"/>
</g>
<g fill="#222">
<rect x="57.6" y="451.5" width="1.3" height="1.3" opacity="0.75"/>
<rect x="91.6" y="424.6" width="1.3" height="1.3" opacity="0.63"/>
<rect x="80.5" y="462.6" width="1.3" height="1.3" opacity="0.56"/>
<rect x="88.1" y="438.1" width="1.3" height="1.3" opacity="0.68"/>
<rect x="59.3" y="439.9" width="0.9" height="0.9" opacity="0.47"/>
<rect x="92.9" y="421.8" width="1.3" height="1.3" opacity="0.67"/>
<rect x="87.8" y="448.5" width="1.3" height="1.3" opacity="0.68"/>
<rect x="90.8" y="425.1" width="0.9" height="0.9" opacity="0.50"/>
<rect x="74.5" y="463.5" width="1.3" height="1.3" opacity="0.86"/>
<rect x="63.3" y="438.4" width="0.9" height="0.9" opacity="0.51"/>
<rect x="58.9" y="439.0" width="1.3" height="1.3" opacity="0.82"/>
<rect x="93.3" y="436.3" width="0.9" height="0.9" opacity="0.50"/>
<rect x="57.3" y="455.0" width="0.9" height="0.9" opacity="0.60"/>
<rect x="56.4" y="449.8" width="1.3" height="1.3" opacity="0.87"/>
<rect x="65.9" y="435.8" width="0.9" height="0.9" opacity="0.58"/>
<rect x="88.3" y="454.6" width="0.9" height="0.9" opacity="0.59"/>
<rect x="92.1" y="425.1" width="1.3" height="1.3" opacity="0.72"/>
<rect x="64.7" y="438.7" width="0.9" height="0.9" opacity="0.68"/>
<rect x="59.4" y="441.8" width="0.9" height="0.9" opacity="0.81"/>
<rect x="70.4" y="433.7" width="0.9" height="0.9" opacity="0.64"/>
<rect x="87.9" y="442.7" width="1.3" height="1.3" opacity="0.61"/>
<rect x="78.4" y="435.5" width="1.3" height="1.3" opacity="0.66"/>
<rect x="56.5" y="459.7" width="1.3" height="1.3" opacity="0.89"/>
<rect x="88.3" y="453.4" width="0.9" height="0.9" opacity="0.99"/>
<rect x="86.8" y="459.7" width="1.3" height="1.3" opacity="0.69"/>
<rect x="86.5" y="434.9" width="0.9" height="0.9" opacity="0.74"/>
<rect x="98.9" y="425.6" width="0.9" height="0.9" opacity="0.50"/>
<rect x="64.7" y="463.4" width="0.9" height="0.9" opacity="0.69"/>
<rect x="74.9" y="463.3" width="0.9" height="0.9" opacity="0.91"/>
<rect x="66.8" y="441.1" width="0.9" height="0.9" opacity="0.60"/>
<rect x="86.9" y="437.2" width="0.9" height="0.9" opacity="0.89"/>
<rect x="79.6" y="428.7" width="0.9" height="0.9" opacity="0.47"/>
<rect x="58.2" y="462.9" width="0.9" height="0.9" opacity="0.72"/>
<rect x="88.6" y="433.6" width="0.9" height="0.9" opacity="0.71"/>
<rect x="87.4" y="437.2" width="0.9" height="0.9" opacity="0.52"/>
<rect x="67.0" y="436.2" width="0.9" height="0.9" opacity="0.59"/>
<rect x="92.6" y="441.1" width="1.3" height="1.3" opacity="0.58"/>
<rect x="87.0" y="441.1" width="0.9" height="0.9" opacity="0.81"/>
<rect x="79.4" y="436.2" width="1.3" height="1.3" opacity="0.94"/>
<rect x="57.2" y="457.9" width="1.3" height="1.3" opacity="0.98"/>
<rect x="82.4" y="460.0" width="0.9" height="0.9" opacity="0.75"/>
<rect x="92.7" y="431.7" width="0.9" height="0.9" opacity="0.56"/>
<rect x="83.8" y="424.3" width="0.9" height="0.9" opacity="0.65"/>
<rect x="92.9" y="422.4" width="0.9" height="0.9" opacity="0.74"/>
<rect x="54.9" y="451.8" width="1.3" height="1.3" opacity="0.47"/>
<rect x="88.7" y="428.2" width="1.3" height="1.3" opacity="0.79"/>
<rect x="60.8" y="463.1" width="0.9" height="0.9" opacity="0.81"/>
<rect x="82.4" y="431.9" width="0.9" height="0.9" opacity="0.67"/>
<rect x="61.8" y="464.5" width="0.9" height="0.9" opacity="0.89"/>
<rect x="83.6" y="434.6" width="1.3" height="1.3" opacity="0.67"/>
<rect x="88.8" y="441.6" width="0.9" height="0.9" opacity="0.73"/>
<rect x="87.4" y="431.1" width="0.9" height="0.9" opacity="0.64"/>
<rect x="59.5" y="459.4" width="0.9" height="0.9" opacity="0.46"/>
<rect x="97.7" y="424.6" width="0.9" height="0.9" opacity="0.47"/>
<rect x="73.2" y="434.7" width="1.3" height="1.3" opacity="0.78"/>
<rect x="96.2" y="430.6" width="1.3" height="1.3" opacity="0.60"/>
<rect x="87.5" y="436.6" width="0.9" height="0.9" opacity="0.61"/>
<rect x="74.0" y="434.2" width="0.9" height="0.9" opacity="0.60"/>
<rect x="80.5" y="428.2" width="0.9" height="0.9" opacity="0.63"/>
<rect x="87.0" y="458.2" width="0.9" height="0.9" opacity="0.83"/>
<rect x="89.8" y="428.8" width="0.9" height="0.9" opacity="0.79"/>
<rect x="86.8" y="449.1" width="1.3" height="1.3" opacity="0.81"/>
<rect x="83.7" y="428.5" width="1.3" height="1.3" opacity="0.82"/>
<rect x="62.1" y="441.5" width="0.9" height="0.9" opacity="0.48"/>
<rect x="88.2" y="437.3" width="0.9" height="0.9" opacity="0.61"/>
<rect x="81.1" y="437.0" width="0.9" height="0.9" opacity="0.51"/>
<rect x="61.4" y="443.6" width="0.9" height="0.9" opacity="0.78"/>
<rect x="71.7" y="462.9" width="1.3" height="1.3" opacity="0.60"/>
<rect x="95.8" y="426.2" width="1.3" height="1.3" opacity="0.96"/>
<rect x="64.6" y="465.1" width="0.9" height="0.9" opacity="0.70"/>
<rect x="79.6" y="432.0" width="0.9" height="0.9" opacity="0.56"/>
<rect x="57.5" y="445.2" width="0.9" height="0.9" opacity="0.47"/>
<rect x="97.0" y="427.0" width="0.9" height="0.9" opacity="0.80"/>
<rect x="66.5" y="435.5" width="1.3" height="1.3" opacity="0.77"/>
<rect x="61.8" y="436.5" width="1.3" height="1.3" opacity="0.58"/>
<rect x="61.2" y="441.1" width="0.9" height="0.9" opacity="0.58"/>
<rect x="70.3" y="432.5" width="1.3" height="1.3" opacity="0.49"/>
<rect x="62.4" y="464.6" width="0.9" height="0.9" opacity="0.46"/>
<rect x="92.3" y="436.8" width="0.9" height="0.9" opacity="0.47"/>
<rect x="86.9" y="459.0" width="0.9" height="0.9" opacity="0.58"/>
<rect x="90.6" y="434.9" width="1.3" height="1.3" opacity="0.80"/>
<rect x="67.4" y="463.2" width="1.3" height="1.3" opacity="0.53"/>
<rect x="72.0" y="433.9" width="0.9" height="0.9" opacity="0.77"/>
<rect x="92.5" y="437.2" width="0.9" height="0.9" opacity="0.87"/>
<rect x="82.0" y="463.2" width="0.9" height="0.9" opacity="0.78"/>
<rect x="91.0" y="440.2" width="1.3" height="1.3" opacity="0.84"/>
<rect x="88.8" y="442.8" width="0.9" height="0.9" opacity="0.92"/>
<rect x="89.1" y="451.0" width="0.9" height="0.9" opacity="0.66"/>
<rect x="72.7" y="462.2" width="0.9" height="0.9" opacity="0.96"/>
<rect x="86.3" y="434.1" width="0.9" height="0.9" opacity="0.81"/>
<rect x="59.7" y="462.3" width="1.3" height="1.3" opacity="0.82"/>
<rect x="77.6" y="436.3" width="0.9" height="0.9" opacity="0.96"/>
<rect x="95.4" y="425.9" width="0.9" height="0.9" opacity="0.50"/>
<rect x="71.8" y="464.6" width="0.9" height="0.9" opacity="0.92"/>
<rect x="83.4" y="426.3" width="0.9" height="0.9" opacity="0.70"/>
<rect x="87.3" y="428.6" width="1.3" height="1.3" opacity="0.64"/>
<rect x="58.3" y="447.2" width="1.3" height="1.3" opacity="0.52"/>
<rect x="82.0" y="430.0" width="0.9" height="0.9" opacity="0.83"/>
<rect x="73.2" y="432.1" width="1.3" height="1.3" opacity="0.78"/>
<rect x="62.8" y="441.4" width="0.9" height="0.9" opacity="0.81"/>
<rect x="60.4" y="441.1" width="0.9" height="0.9" opacity="0.55"/>
<rect x="87.8" y="432.3" width="1.3" height="1.3" opacity="0.90"/>
<rect x="85.5" y="437.2" width="1.3" height="1.3" opacity="0.79"/>
<rect x="69.7" y="433.9" width="1.3" height="1.3" opacity="0.99"/>
<rect x="74.3" y="431.9" width="0.9" height="0.9" opacity="0.87"/>
<rect x="80.6" y="430.9" width="0.9" height="0.9" opacity="0.78"/>
<rect x="88.9" y="456.1" width="1.3" height="1.3" opacity="0.46"/>
<rect x="78.5" y="463.9" width="0.9" height="0.9" opacity="0.64"/>
<rect x="82.9" y="435.6" width="0.9" height="0.9" opacity="0.91"/>
<rect x="82.4" y="425.9" width="0.9" height="0.9" opacity="0.94"/>
<rect x="84.9" y="453.5" width="1.3" height="1.3" opacity="0.92"/>
<rect x="82.6" y="427.5" width="1.3" height="1.3" opacity="0.81"/>
<rect x="70.4" y="437.0" width="1.3" height="1.3" opacity="0.66"/>
<rect x="64.0" y="443.4" width="1.3" height="1.3" opacity="0.56"/>
<rect x="93.7" y="426.3" width="1.3" height="1.3" opacity="0.61"/>
<rect x="59.5" y="438.3" width="0.9" height="0.9" opacity="0.96"/>
<rect x="84.1" y="459.6" width="0.9" height="0.9" opacity="0.49"/>
<rect x="70.4" y="465.1" width="0.9" height="0.9" opacity="0.71"/>
<rect x="88.0" y="425.5" width="0.9" height="0.9" opacity="0.79"/>
<rect x="82.5" y="426.6" width="0.9" height="0.9" opacity="0.52"/>
<rect x="83.3" y="461.8" width="1.3" height="1.3" opacity="0.91"/>
<rect x="84.9" y="461.0" width="0.9" height="0.9" opacity="0.50"/>
<rect x="93.2" y="427.5" width="0.9" height="0.9" opacity="0.79"/>
<rect x="88.8" y="453.4" width="0.9" height="0.9" opacity="0.64"/>
<rect x="82.0" y="436.0" width="0.9" height="0.9" opacity="0.82"/>
<rect x="84.7" y="424.9" width="0.9" height="0.9" opacity="0.61"/>
<rect x="91.9" y="435.9" width="0.9" height="0.9" opacity="0.72"/>
<rect x="83.1" y="462.7" width="0.9" height="0.9" opacity="0.75"/>
<rect x="88.8" y="427.9" width="1.3" height="1.3" opacity="0.77"/>
<rect x="68.5" y="440.0" width="1.3" height="1.3" opacity="0.92"/>
<rect x="91.6" y="449.3" width="1.3" height="1.3" opacity="0.74"/>
<rect x="60.8" y="442.6" width="1.3" height="1.3" opacity="0.87"/>
<rect x="87.6" y="445.2" width="0.9" height="0.9" opacity="0.78"/>
<rect x="92.9" y="427.6" width="0.9" height="0.9" opacity="0.95"/>
<rect x="59.0" y="443.5" width="1.3" height="1.3" opacity="0.56"/>
<rect x="90.6" y="430.2" width="1.3" height="1.3" opacity="0.95"/>
<rect x="89.3" y="439.1" width="1.3" height="1.3" opacity="0.76"/>
<rect x="57.4" y="450.9" width="1.3" height="1.3" opacity="0.45"/>
<rect x="85.4" y="426.4" width="0.9" height="0.9" opacity="0.99"/>
<rect x="66.6" y="440.7" width="0.9" height="0.9" opacity="0.93"/>
<rect x="98.9" y="427.2" width="0.9" height="0.9" opacity="0.99"/>
<rect x="62.5" y="438.7" width="1.3" height="1.3" opacity="0.73"/>
<rect x="89.8" y="429.9" width="0.9" height="0.9" opacity="0.84"/>
<rect x="86.5" y="424.7" width="1.3" height="1.3" opacity="0.70"/>
<rect x="100.4" y="427.0" width="1.3" height="1.3" opacity="0.66"/>
<rect x="67.7" y="465.1" width="1.3" height="1.3" opacity="0.70"/>
<rect x="84.8" y="457.2" width="0.9" height="0.9" opacity="0.48"/>
<rect x="59.3" y="460.9" width="0.9" height="0.9" opacity="0.89"/>
<rect x="87.0" y="446.4" width="0.9" height="0.9" opacity="0.57"/>
<rect x="86.0" y="459.1" width="1.3" height="1.3" opacity="0.67"/>
<rect x="55.2" y="452.1" width="0.9" height="0.9" opacity="0.66"/>
<rect x="99.8" y="429.8" width="1.3" height="1.3" opacity="0.88"/>
<rect x="65.6" y="436.7" width="1.3" height="1.3" opacity="0.65"/>
<rect x="100.0" y="427.6" width="0.9" height="0.9" opacity="0.74"/>
<rect x="83.6" y="459.1" width="1.3" height="1.3" opacity="0.91"/>
<rect x="92.8" y="437.0" width="0.9" height="0.9" opacity="0.61"/>
<rect x="60.8" y="461.5" width="0.9" height="0.9" opacity="0.49"/>
<rect x="78.9" y="465.5" width="0.9" height="0.9" opacity="0.76"/>
<rect x="84.6" y="427.7" width="0.9" height="0.9" opacity="0.49"/>
<rect x="71.5" y="463.9" width="0.9" height="0.9" opacity="0.72"/>
<rect x="82.1" y="426.8" width="1.3" height="1.3" opacity="0.93"/>
<rect x="87.0" y="442.5" width="0.9" height="0.9" opacity="0.93"/>
<rect x="89.8" y="451.2" width="0.9" height="0.9" opacity="0.52"/>
<rect x="71.9" y="435.6" width="1.3" height="1.3" opacity="0.84"/>
<rect x="77.5" y="461.6" width="1.3" height="1.3" opacity="0.51"/>
<rect x="95.6" y="429.2" width="0.9" height="0.9" opacity="0.67"/>
<rect x="90.0" y="425.7" width="0.9" height="0.9" opacity="0.51"/>
<rect x="72.5" y="460.0" width="0.9" height="0.9" opacity="0.47"/>
<rect x="73.9" y="459.5" width="1.3" height="1.3" opacity="0.60"/>
<rect x="98.4" y="430.8" width="0.9" height="0.9" opacity="0.60"/>
<rect x="90.8" y="428.4" width="0.9" height="0.9" opacity="0.99"/>
<rect x="94.3" y="422.2" width="1.3" height="1.3" opacity="0.48"/>
<rect x="62.4" y="464.0" width="0.9" height="0.9" opacity="0.71"/>
<rect x="73.0" y="433.5" width="0.9" height="0.9" opacity="0.71"/>
<rect x="88.7" y="449.8" width="0.9" height="0.9" opacity="1.00"/>
<rect x="68.1" y="439.3" width="0.9" height="0.9" opacity="0.91"/>
<rect x="83.6" y="448.4" width="1.3" height="1.3" opacity="0.86"/>
<rect x="94.7" y="423.8" width="1.3" height="1.3" opacity="0.70"/>
<rect x="93.6" y="422.0" width="0.9" height="0.9" opacity="0.94"/>
<rect x="83.8" y="463.1" width="0.9" height="0.9" opacity="0.83"/>
<rect x="87.2" y="448.8" width="0.9" height="0.9" opacity="0.79"/>
<rect x="65.4" y="463.7" width="0.9" height="0.9" opacity="0.79"/>
<rect x="82.8" y="437.0" width="1.3" height="1.3" opacity="0.46"/>
<rect x="70.1" y="463.4" width="1.3" height="1.3" opacity="0.80"/>
<rect x="97.2" y="424.5" width="1.3" height="1.3" opacity="0.85"/>
<rect x="86.0" y="429.0" width="0.9" height="0.9" opacity="0.53"/>
<rect x="87.2" y="452.3" width="0.9" height="0.9" opacity="0.47"/>
<rect x="58.6" y="444.2" width="1.3" height="1.3" opacity="0.75"/>
<rect x="87.3" y="450.7" width="0.9" height="0.9" opacity="0.98"/>
<rect x="68.1" y="438.0" width="1.3" height="1.3" opacity="0.64"/>
<rect x="98.0" y="418.0" width="1.1" height="1.1" opacity="0.42"/>
<rect x="110.0" y="427.0" width="1.1" height="1.1" opacity="0.36"/>
<rect x="113.0" y="422.0" width="1.1" height="1.1" opacity="0.39"/>
<rect x="107.0" y="433.0" width="1.1" height="1.1" opacity="0.47"/>
<rect x="93.0" y="420.0" width="1.1" height="1.1" opacity="0.55"/>
<rect x="88.0" y="418.0" width="1.1" height="1.1" opacity="0.74"/>
<rect x="95.0" y="423.0" width="1.1" height="1.1" opacity="0.46"/>
<rect x="91.0" y="426.0" width="1.1" height="1.1" opacity="0.73"/>
<rect x="84.0" y="424.0" width="1.1" height="1.1" opacity="0.41"/>
<rect x="99.0" y="430.0" width="1.1" height="1.1" opacity="0.54"/>
</g>
</g>
<rect x="58.6" y="370.5" width="95.2" height="89.2" fill="none" stroke="#999" stroke-width="1.2"/>
<text x="0" y="0" font-size="6.2" font-family="Liberation Sans, sans-serif" font-weight="bold" style="stroke-width:0.1px" transform="translate(55.7,467.0) scale(1.25,1)">10<tspan font-size="3.9" dy="-1.8">0</tspan></text>
<text x="0" y="0" font-size="6.2" font-family="Liberation Sans, sans-serif" font-weight="bold" style="stroke-width:0.1px" transform="translate(55.6,461.9) scale(1.25,1) rotate(-90)">10<tspan font-size="3.9" dy="-1.8">0</tspan></text>
<text x="0" y="0" font-size="6.2" font-family="Liberation Sans, sans-serif" font-weight="bold" style="stroke-width:0.1px" transform="translate(79.5,467.0) scale(1.25,1)">10<tspan font-size="3.9" dy="-1.8">1</tspan></text>
<text x="0" y="0" font-size="6.2" font-family="Liberation Sans, sans-serif" font-weight="bold" style="stroke-width:0.1px" transform="translate(55.6,439.6) scale(1.25,1) rotate(-90)">10<tspan font-size="3.9" dy="-1.8">1</tspan></text>
<text x="0" y="0" font-size="6.2" font-family="Liberation Sans, sans-serif" font-weight="bold" style="stroke-width:0.1px" transform="translate(103.3,467.0) scale(1.25,1)">10<tspan font-size="3.9" dy="-1.8">2</tspan></text>
<text x="0" y="0" font-size="6.2" font-family="Liberation Sans, sans-serif" font-weight="bold" style="stroke-width:0.1px" transform="translate(55.6,417.3) scale(1.25,1) rotate(-90)">10<tspan font-size="3.9" dy="-1.8">2</tspan></text>
<text x="0" y="0" font-size="6.2" font-family="Liberation Sans, sans-serif" font-weight="bold" style="stroke-width:0.1px" transform="translate(127.1,467.0) scale(1.25,1)">10<tspan font-size="3.9" dy="-1.8">3</tspan></text>
<text x="0" y="0" font-size="6.2" font-family="Liberation Sans, sans-serif" font-weight="bold" style="stroke-width:0.1px" transform="translate(55.6,395.0) scale(1.25,1) rotate(-90)">10<tspan font-size="3.9" dy="-1.8">3</tspan></text>
<text x="0" y="0" font-size="6.2" font-family="Liberation Sans, sans-serif" font-weight="bold" style="stroke-width:0.1px" transform="translate(150.9,467.0) scale(1.25,1)">10<tspan font-size="3.9" dy="-1.8">4</tspan></text>
<text x="0" y="0" font-size="6.2" font-family="Liberation Sans, sans-serif" font-weight="bold" style="stroke-width:0.1px" transform="translate(55.6,372.7) scale(1.25,1) rotate(-90)">10<tspan font-size="3.9" dy="-1.8">4</tspan></text>
<clipPath id="fc11"><rect x="172.70000000000002" y="370.5" width="94.7" height="89.1"/></clipPath>
<g clip-path="url(#fc11)">
<g fill="none" stroke="#222" stroke-width="1.0" stroke-linejoin="round">
<path d="M215.6,425.0 L214.8,425.0 L214.0,425.0 L213.6,424.9 L213.4,424.1 L213.8,423.7 L214.0,423.3 L214.4,422.5 L214.5,422.1 L214.6,421.3 L214.6,420.5 L214.4,419.8 L214.2,419.3 L214.1,418.5 L214.4,418.1 L215.2,417.8 L215.6,417.7 L216.4,417.5 L216.4,418.0 L216.2,418.5 L216.4,419.3 L216.8,419.6 L217.0,420.1 L216.9,420.9 L216.7,421.3 L216.5,422.1 L216.6,422.9 L216.6,423.7 L216.2,424.1 L215.9,424.5 L215.6,425.0Z"/>
<path d="M206.0,433.8 L205.3,433.7 L204.8,433.3 L204.4,433.1 L204.0,432.8 L203.2,432.6 L202.8,432.3 L202.8,431.7 L202.8,430.9 L202.4,430.5 L201.9,430.1 L201.3,430.1 L201.1,430.1 L200.5,429.7 L200.7,428.9 L200.7,428.1 L200.8,427.3 L201.2,427.3 L201.5,427.7 L201.7,428.1 L202.2,428.5 L202.8,428.8 L203.6,428.5 L203.7,428.1 L203.9,427.3 L204.2,426.9 L204.8,426.6 L205.2,426.4 L205.9,426.1 L206.4,425.7 L206.8,425.4 L207.2,425.2 L207.6,424.6 L208.0,424.5 L208.4,424.5 L208.8,424.4 L209.2,423.8 L209.2,423.7 L208.9,422.9 L209.2,422.1 L209.4,421.7 L209.5,420.9 L209.7,420.5 L210.4,420.1 L210.8,420.9 L210.6,421.7 L210.7,422.5 L210.9,422.9 L211.2,423.4 L211.6,423.8 L212.2,424.1 L212.7,424.5 L212.4,425.2 L212.1,425.7 L212.1,426.5 L211.7,426.9 L211.2,427.3 L210.8,427.5 L210.3,427.7 L209.9,428.1 L209.9,428.9 L210.0,429.3 L210.2,430.1 L210.8,430.4 L211.3,430.5 L211.8,430.9 L211.6,431.3 L211.2,431.8 L211.0,432.5 L210.7,432.9 L210.0,433.1 L209.8,432.5 L209.7,431.7 L209.6,431.3 L209.0,430.9 L208.6,430.9 L208.0,431.1 L207.2,431.1 L206.7,431.3 L206.3,431.7 L206.0,432.4 L206.0,432.6 L206.2,433.3 L206.0,433.8Z"/>
<path d="M192.8,463.9 L192.0,464.1 L191.4,463.7 L190.9,463.3 L190.4,463.1 L189.6,463.3 L189.2,463.5 L188.8,463.8 L188.4,463.7 L188.0,463.3 L187.6,462.9 L187.4,462.1 L187.2,461.4 L186.8,461.1 L186.0,460.9 L185.7,460.5 L185.4,460.1 L185.2,459.7 L184.8,458.9 L184.7,458.5 L184.6,457.7 L184.5,456.9 L184.4,456.2 L184.0,455.7 L183.7,455.3 L183.5,454.9 L183.2,454.1 L183.1,453.7 L182.8,453.2 L182.4,452.6 L182.1,452.1 L182.1,451.3 L181.6,451.2 L180.8,451.0 L180.4,450.8 L180.0,450.3 L179.7,449.7 L179.8,448.9 L180.2,448.5 L180.5,448.1 L180.4,447.5 L180.0,447.0 L179.5,447.3 L179.0,447.7 L178.6,447.7 L178.4,447.3 L178.3,446.5 L178.4,445.9 L178.4,445.3 L178.8,444.6 L179.1,444.1 L179.6,443.8 L180.0,443.6 L180.4,442.9 L180.4,442.5 L180.9,442.1 L181.2,441.3 L181.6,441.1 L182.1,440.9 L182.6,440.5 L183.2,440.1 L183.6,440.1 L184.4,439.7 L184.8,439.6 L185.4,439.7 L185.6,440.1 L185.8,440.9 L186.4,441.0 L186.8,440.7 L186.8,440.3 L186.5,439.7 L186.5,438.9 L186.5,438.1 L186.4,437.3 L186.2,436.9 L186.2,436.1 L186.4,435.5 L186.7,434.9 L187.2,434.5 L187.6,434.2 L188.0,434.0 L188.8,434.0 L189.6,434.0 L190.4,434.0 L191.0,433.7 L191.2,433.0 L191.9,433.3 L192.2,433.7 L192.4,433.7 L192.7,432.9 L193.2,432.8 L194.0,432.7 L194.8,432.7 L195.6,432.9 L195.6,432.9 L196.3,432.5 L196.8,432.1 L197.2,431.9 L198.0,431.7 L198.8,432.1 L199.2,432.1 L199.6,431.9 L200.0,432.2 L200.4,432.5 L201.2,432.8 L201.6,433.2 L202.0,433.6 L202.4,434.1 L202.8,434.2 L203.4,434.5 L203.7,434.9 L203.3,435.3 L202.8,435.5 L202.0,435.5 L201.8,434.9 L201.9,434.1 L201.4,433.7 L200.8,433.7 L200.0,433.4 L199.5,433.7 L199.2,434.1 L199.2,434.5 L200.0,434.8 L200.4,435.2 L200.7,435.7 L200.6,436.5 L200.4,437.0 L200.0,437.6 L199.6,437.8 L198.8,437.9 L198.5,438.5 L198.8,439.2 L199.2,439.4 L199.6,439.7 L200.0,440.2 L200.0,440.9 L199.9,441.3 L199.6,441.7 L199.2,442.1 L198.6,442.1 L198.0,442.1 L197.9,442.5 L198.0,443.3 L198.4,443.4 L199.1,443.7 L199.5,444.1 L199.8,444.5 L200.0,444.9 L200.0,445.6 L199.9,446.1 L199.9,446.9 L199.8,447.7 L200.0,448.5 L200.1,448.9 L200.0,449.3 L199.9,450.1 L199.9,450.9 L199.8,451.7 L199.6,452.5 L199.6,452.9 L199.6,453.7 L199.6,454.1 L199.7,454.9 L199.6,455.7 L199.5,456.1 L199.2,456.7 L198.8,457.1 L198.4,457.5 L198.0,457.8 L197.6,458.3 L197.3,458.9 L197.4,459.7 L197.2,460.3 L196.8,460.8 L196.4,461.0 L196.0,461.3 L195.5,461.7 L195.1,462.1 L194.7,462.5 L194.3,462.9 L193.6,463.1 L193.2,463.6 L192.8,463.9Z"/>
<path d="M196.8,437.3 L197.2,436.9 L196.9,436.1 L196.7,435.7 L196.4,435.2 L196.0,434.9 L195.5,434.9 L195.1,435.3 L195.1,436.1 L195.2,436.6 L195.6,437.1 L196.0,437.4 L196.8,437.3Z"/>
<path d="M191.7,437.3 L192.0,436.9 L191.6,436.8 L191.6,437.3 L191.7,437.3Z"/>
<path d="M214.8,424.3 L214.2,424.1 L214.4,423.6 L214.8,423.0 L215.0,422.5 L215.2,421.9 L215.7,422.1 L215.7,422.9 L215.7,423.7 L215.2,424.1 L214.8,424.3Z"/>
<path d="M204.0,431.8 L204.0,431.3 L203.8,430.5 L203.6,429.7 L204.0,429.1 L204.3,428.5 L204.4,428.0 L204.7,427.3 L205.2,427.0 L205.6,426.8 L206.1,426.5 L206.6,426.1 L207.2,425.7 L207.6,425.6 L208.1,425.3 L208.8,425.0 L209.2,424.8 L209.7,424.5 L209.9,423.7 L209.6,423.2 L209.6,422.8 L210.2,422.9 L210.6,423.3 L210.8,423.7 L211.2,424.3 L211.7,424.5 L211.7,425.3 L211.6,425.7 L211.3,426.5 L210.8,426.9 L210.4,427.0 L209.6,427.1 L208.8,427.2 L208.8,427.4 L208.9,428.1 L208.8,428.5 L208.7,429.3 L208.6,430.1 L208.0,430.5 L207.4,430.5 L206.8,430.7 L206.3,430.9 L205.6,431.3 L205.2,431.4 L204.8,431.3 L204.4,431.5 L204.0,431.8Z"/>
<path d="M192.0,462.3 L191.2,462.1 L190.8,462.0 L190.0,461.8 L189.6,461.7 L189.2,461.1 L188.8,460.9 L188.1,460.5 L187.7,460.1 L187.2,459.8 L186.7,459.7 L186.0,459.4 L185.8,458.9 L185.6,458.3 L185.3,457.7 L185.2,457.3 L185.2,456.8 L185.5,456.1 L185.7,455.7 L185.6,455.3 L184.8,454.9 L184.4,454.7 L184.1,454.1 L184.1,453.3 L184.0,452.9 L183.4,452.5 L183.3,451.7 L183.2,451.3 L183.1,450.5 L182.4,450.2 L181.6,450.1 L181.2,449.8 L180.8,449.3 L180.8,448.9 L180.9,448.5 L180.9,447.7 L180.8,446.9 L180.7,446.5 L180.5,445.7 L180.5,444.9 L180.4,444.1 L180.8,443.7 L181.6,443.3 L182.4,443.6 L183.2,443.6 L183.2,442.9 L182.9,442.5 L182.9,441.7 L183.3,441.3 L184.0,441.3 L184.4,441.3 L185.2,441.5 L186.0,441.6 L186.8,441.4 L187.2,441.2 L187.4,440.5 L187.2,439.7 L187.1,439.3 L187.2,438.5 L187.3,438.1 L187.6,437.3 L187.5,436.5 L187.6,435.8 L188.0,435.5 L188.7,435.3 L189.2,435.2 L190.0,434.9 L190.1,434.9 L190.8,435.3 L191.2,435.4 L191.6,435.1 L192.0,434.8 L192.4,434.5 L192.8,434.1 L193.3,433.7 L194.0,433.4 L194.4,433.2 L194.9,433.3 L195.5,433.7 L196.0,433.7 L196.3,433.3 L196.7,432.9 L197.1,432.5 L197.6,432.3 L198.4,432.4 L198.8,432.9 L198.9,433.3 L198.7,433.7 L198.5,434.5 L198.3,434.9 L198.0,435.5 L197.2,435.5 L196.8,435.2 L196.4,434.7 L196.0,434.3 L195.4,434.5 L195.0,434.9 L194.8,435.3 L194.7,436.1 L194.7,436.9 L195.0,437.3 L195.6,437.6 L196.0,437.9 L196.8,437.8 L197.2,437.6 L197.6,437.7 L198.0,438.5 L198.0,439.3 L198.4,439.7 L198.8,439.9 L199.1,440.5 L198.8,441.1 L198.0,441.2 L197.4,441.3 L197.3,442.1 L197.2,442.9 L197.5,443.7 L197.9,444.1 L198.4,444.5 L198.6,444.9 L198.5,445.7 L198.7,446.5 L198.8,446.9 L198.9,447.7 L199.1,448.5 L199.0,449.3 L199.0,450.1 L199.0,450.9 L199.0,451.7 L198.8,452.5 L198.7,452.9 L198.7,453.7 L198.8,454.3 L198.8,454.9 L198.8,455.3 L198.5,456.1 L198.3,456.5 L197.9,456.9 L197.5,457.3 L197.0,457.7 L196.7,458.1 L196.4,458.8 L196.2,459.3 L195.9,459.7 L195.6,460.2 L195.2,460.7 L194.8,461.0 L194.4,461.3 L193.6,461.5 L192.8,461.7 L192.4,462.1 L192.0,462.3Z"/>
<path d="M199.6,437.3 L199.2,437.2 L199.2,436.6 L199.4,436.1 L199.6,435.6 L200.1,435.7 L200.2,436.5 L200.0,437.0 L199.6,437.3Z"/>
<path d="M191.6,437.7 L192.4,437.5 L192.8,437.2 L192.8,436.5 L192.4,436.5 L191.6,436.2 L190.8,436.3 L190.4,436.5 L190.1,437.3 L190.8,437.5 L191.6,437.7 L191.6,437.7Z"/>
<path d="M206.4,429.6 L205.6,429.4 L205.5,428.9 L205.5,428.1 L205.7,427.7 L206.1,427.3 L206.8,427.0 L207.6,427.2 L207.7,427.7 L207.6,428.2 L207.2,428.7 L206.8,429.3 L206.4,429.6Z"/>
<path d="M197.6,434.2 L197.0,434.1 L197.3,433.7 L197.9,433.7 L197.6,434.2Z"/>
<path d="M193.6,436.3 L193.2,436.0 L192.8,435.5 L192.8,434.9 L193.1,434.5 L193.6,434.3 L194.3,434.1 L194.4,434.1 L194.4,434.9 L194.3,435.3 L194.0,436.0 L193.6,436.3Z"/>
<path d="M191.6,460.5 L191.2,460.5 L190.9,459.7 L190.4,459.4 L189.8,459.3 L189.2,459.3 L188.4,459.1 L188.0,458.9 L187.6,458.5 L187.2,458.1 L186.8,457.6 L186.5,456.9 L186.4,456.5 L186.4,456.0 L186.4,455.4 L186.2,454.9 L185.9,454.5 L185.5,454.1 L185.2,453.4 L185.2,452.9 L184.9,452.1 L184.7,451.7 L184.5,450.9 L184.4,450.5 L183.9,450.1 L183.3,449.7 L182.9,449.3 L182.5,448.9 L182.0,448.5 L181.7,448.1 L181.7,447.3 L181.8,446.5 L181.6,446.0 L181.4,445.3 L181.4,444.5 L182.0,444.3 L182.8,444.4 L183.2,444.8 L183.6,445.1 L184.0,444.7 L184.2,444.1 L184.3,443.3 L184.0,442.6 L184.0,442.1 L184.4,442.0 L185.2,442.1 L186.0,442.1 L186.8,441.9 L187.6,441.7 L187.9,441.3 L187.9,440.5 L187.8,439.7 L187.7,438.9 L188.0,438.2 L188.4,437.8 L188.8,437.6 L189.3,437.7 L190.0,438.0 L190.5,438.1 L191.2,438.2 L191.9,438.1 L192.4,437.9 L192.9,437.7 L193.5,437.7 L194.0,437.9 L194.8,438.1 L195.2,438.2 L195.6,438.6 L196.1,438.5 L196.8,438.4 L197.3,438.5 L197.4,439.3 L197.6,439.9 L197.6,440.2 L196.8,440.5 L196.5,440.9 L196.4,441.5 L196.3,442.1 L196.4,442.9 L196.4,443.3 L196.4,443.9 L196.3,444.5 L196.4,445.0 L196.7,445.7 L196.8,446.1 L197.1,446.9 L197.3,447.3 L198.0,447.7 L198.2,448.1 L198.3,448.9 L198.0,449.7 L197.9,450.1 L197.6,450.9 L197.4,451.3 L197.6,452.1 L197.7,452.5 L197.7,453.3 L197.7,454.1 L197.5,454.5 L197.3,455.3 L197.1,455.7 L197.0,456.5 L196.5,456.9 L196.0,457.1 L195.2,457.1 L194.8,457.4 L194.5,458.1 L194.5,458.9 L194.4,459.4 L194.0,459.7 L193.2,460.0 L192.8,460.2 L192.0,460.4 L191.6,460.5Z"/>
<path d="M192.4,457.8 L192.0,457.7 L191.6,457.1 L191.2,456.7 L190.4,456.8 L190.0,457.1 L189.6,457.3 L189.2,457.1 L189.0,456.5 L188.8,456.1 L188.4,455.3 L188.1,454.9 L187.8,454.5 L187.5,454.1 L187.1,453.7 L186.6,453.3 L186.4,452.9 L186.2,452.1 L186.0,451.4 L185.6,450.9 L185.4,450.5 L185.2,449.9 L184.6,449.7 L184.1,449.3 L184.2,448.5 L184.8,448.4 L185.1,448.9 L185.6,449.3 L186.0,449.4 L186.5,449.3 L187.0,448.9 L186.8,448.3 L186.4,448.1 L185.9,447.7 L185.4,447.3 L185.0,446.9 L184.7,446.5 L184.5,445.7 L184.8,444.9 L185.1,444.5 L185.2,444.1 L185.5,443.3 L186.0,443.2 L186.6,442.9 L187.2,442.5 L187.6,442.5 L188.2,442.1 L188.6,441.7 L188.8,441.3 L189.0,440.5 L189.0,439.7 L189.2,439.1 L190.0,439.1 L190.6,439.3 L191.2,439.4 L191.6,439.2 L192.3,438.9 L192.7,438.9 L193.2,439.0 L194.0,439.1 L194.4,439.5 L194.7,440.1 L194.6,440.9 L194.4,441.4 L193.6,441.4 L193.5,440.9 L193.2,440.4 L192.8,440.6 L192.8,441.3 L193.2,441.6 L193.2,441.8 L193.1,442.5 L193.5,442.9 L194.0,443.0 L194.4,442.8 L194.6,442.1 L195.2,441.9 L195.6,442.2 L195.6,442.9 L195.2,443.3 L195.5,444.1 L195.6,444.7 L195.8,445.3 L196.0,445.8 L196.2,446.5 L196.4,447.2 L196.6,447.7 L196.8,448.1 L197.0,448.9 L196.8,449.6 L196.6,450.1 L196.4,450.8 L196.4,451.3 L196.5,451.7 L196.7,452.5 L196.6,453.3 L196.4,453.7 L196.0,454.2 L195.6,454.7 L195.3,455.3 L194.8,455.7 L194.4,455.8 L194.0,456.1 L193.6,456.5 L193.0,456.9 L192.8,457.3 L192.4,457.8Z"/>
<path d="M189.6,454.5 L189.2,454.4 L188.7,454.1 L188.4,453.7 L188.1,452.9 L188.1,452.1 L187.9,451.7 L187.6,451.1 L187.6,450.5 L187.7,450.1 L188.0,449.4 L188.0,449.2 L187.9,448.5 L187.7,447.7 L187.2,447.3 L186.8,447.1 L186.3,446.9 L185.9,446.5 L185.6,446.0 L185.6,445.5 L186.0,445.2 L186.8,445.1 L187.3,444.9 L187.7,444.5 L188.0,444.1 L188.4,443.3 L188.8,442.9 L189.2,442.6 L189.6,442.1 L189.8,441.7 L190.1,441.3 L190.8,441.3 L191.2,441.3 L191.7,441.7 L192.0,442.5 L192.4,442.9 L192.8,443.3 L193.2,443.7 L193.6,444.0 L194.3,444.1 L194.6,444.5 L194.8,444.9 L195.2,445.6 L195.3,446.1 L195.5,446.9 L195.6,447.4 L195.6,448.1 L195.6,448.5 L195.5,449.3 L195.3,450.1 L195.3,450.9 L195.4,451.7 L195.3,452.5 L195.2,452.9 L194.8,453.7 L194.4,453.9 L193.6,454.1 L193.2,454.3 L192.4,454.3 L191.6,454.3 L190.8,454.3 L190.0,454.5 L189.6,454.5Z"/>
</g>
<g fill="#222">
<rect x="206.2" y="433.9" width="0.9" height="0.9" opacity="0.93"/>
<rect x="221.0" y="421.5" width="0.9" height="0.9" opacity="0.77"/>
<rect x="181.4" y="452.5" width="1.3" height="1.3" opacity="0.89"/>
<rect x="178.2" y="447.0" width="0.9" height="0.9" opacity="0.51"/>
<rect x="196.3" y="463.1" width="0.9" height="0.9" opacity="0.54"/>
<rect x="200.1" y="450.6" width="0.9" height="0.9" opacity="0.62"/>
<rect x="214.9" y="421.3" width="0.9" height="0.9" opacity="0.58"/>
<rect x="193.4" y="427.8" width="0.9" height="0.9" opacity="0.47"/>
<rect x="221.4" y="416.1" width="0.9" height="0.9" opacity="0.89"/>
<rect x="220.3" y="415.4" width="0.9" height="0.9" opacity="0.96"/>
<rect x="212.4" y="429.5" width="1.3" height="1.3" opacity="0.76"/>
<rect x="197.2" y="460.6" width="1.3" height="1.3" opacity="0.56"/>
<rect x="198.2" y="429.7" width="0.9" height="0.9" opacity="0.67"/>
<rect x="199.8" y="431.8" width="1.3" height="1.3" opacity="0.84"/>
<rect x="186.9" y="438.2" width="0.9" height="0.9" opacity="0.91"/>
<rect x="183.5" y="455.1" width="0.9" height="0.9" opacity="0.70"/>
<rect x="220.3" y="417.8" width="0.9" height="0.9" opacity="0.51"/>
<rect x="196.9" y="432.4" width="1.3" height="1.3" opacity="0.86"/>
<rect x="216.5" y="416.8" width="1.3" height="1.3" opacity="0.61"/>
<rect x="186.8" y="440.4" width="0.9" height="0.9" opacity="0.63"/>
<rect x="205.6" y="440.1" width="0.9" height="0.9" opacity="0.65"/>
<rect x="205.2" y="439.8" width="0.9" height="0.9" opacity="0.87"/>
<rect x="200.5" y="426.8" width="0.9" height="0.9" opacity="0.83"/>
<rect x="191.4" y="464.0" width="1.3" height="1.3" opacity="0.92"/>
<rect x="201.2" y="429.5" width="0.9" height="0.9" opacity="0.73"/>
<rect x="215.3" y="417.1" width="0.9" height="0.9" opacity="0.98"/>
<rect x="199.0" y="443.0" width="0.9" height="0.9" opacity="0.57"/>
<rect x="176.8" y="443.7" width="0.9" height="0.9" opacity="0.92"/>
<rect x="196.3" y="461.9" width="1.3" height="1.3" opacity="0.57"/>
<rect x="204.5" y="426.5" width="0.9" height="0.9" opacity="0.90"/>
<rect x="215.5" y="426.2" width="0.9" height="0.9" opacity="0.64"/>
<rect x="201.4" y="438.9" width="0.9" height="0.9" opacity="0.59"/>
<rect x="209.8" y="433.1" width="0.9" height="0.9" opacity="0.71"/>
<rect x="181.3" y="454.3" width="0.9" height="0.9" opacity="0.58"/>
<rect x="199.1" y="445.6" width="0.9" height="0.9" opacity="0.81"/>
<rect x="189.9" y="429.8" width="0.9" height="0.9" opacity="0.92"/>
<rect x="216.6" y="418.0" width="0.9" height="0.9" opacity="0.77"/>
<rect x="201.6" y="426.2" width="0.9" height="0.9" opacity="0.57"/>
<rect x="198.3" y="458.1" width="0.9" height="0.9" opacity="0.71"/>
<rect x="189.4" y="434.2" width="0.9" height="0.9" opacity="0.77"/>
<rect x="198.7" y="435.3" width="1.3" height="1.3" opacity="0.76"/>
<rect x="200.1" y="433.4" width="0.9" height="0.9" opacity="0.67"/>
<rect x="215.5" y="417.2" width="0.9" height="0.9" opacity="0.77"/>
<rect x="203.4" y="427.9" width="0.9" height="0.9" opacity="0.93"/>
<rect x="202.5" y="440.6" width="0.9" height="0.9" opacity="0.62"/>
<rect x="217.7" y="426.1" width="0.9" height="0.9" opacity="0.49"/>
<rect x="188.1" y="430.1" width="0.9" height="0.9" opacity="0.57"/>
<rect x="201.3" y="438.4" width="0.9" height="0.9" opacity="0.53"/>
<rect x="178.9" y="445.1" width="0.9" height="0.9" opacity="0.84"/>
<rect x="199.9" y="447.3" width="0.9" height="0.9" opacity="0.76"/>
<rect x="215.5" y="429.7" width="0.9" height="0.9" opacity="0.46"/>
<rect x="218.9" y="420.4" width="0.9" height="0.9" opacity="0.96"/>
<rect x="179.7" y="450.5" width="0.9" height="0.9" opacity="0.58"/>
<rect x="180.5" y="446.2" width="1.3" height="1.3" opacity="0.67"/>
<rect x="206.6" y="435.2" width="0.9" height="0.9" opacity="0.95"/>
<rect x="215.0" y="426.7" width="1.3" height="1.3" opacity="0.91"/>
<rect x="185.1" y="440.2" width="1.3" height="1.3" opacity="0.82"/>
<rect x="180.1" y="452.6" width="0.9" height="0.9" opacity="0.97"/>
<rect x="198.6" y="460.7" width="1.3" height="1.3" opacity="0.96"/>
<rect x="215.2" y="419.5" width="1.3" height="1.3" opacity="0.62"/>
<rect x="184.0" y="457.9" width="0.9" height="0.9" opacity="0.50"/>
<rect x="184.5" y="440.6" width="1.3" height="1.3" opacity="0.51"/>
<rect x="216.7" y="421.4" width="1.3" height="1.3" opacity="0.65"/>
<rect x="194.2" y="432.2" width="0.9" height="0.9" opacity="0.76"/>
<rect x="199.8" y="447.7" width="0.9" height="0.9" opacity="0.90"/>
<rect x="181.0" y="453.5" width="0.9" height="0.9" opacity="0.51"/>
<rect x="192.3" y="437.2" width="0.9" height="0.9" opacity="0.46"/>
<rect x="208.6" y="424.8" width="0.9" height="0.9" opacity="0.60"/>
<rect x="200.9" y="439.5" width="1.3" height="1.3" opacity="0.52"/>
<rect x="197.5" y="442.7" width="1.3" height="1.3" opacity="0.66"/>
<rect x="188.9" y="462.4" width="1.3" height="1.3" opacity="0.86"/>
<rect x="217.0" y="423.9" width="0.9" height="0.9" opacity="0.56"/>
<rect x="210.9" y="420.0" width="1.3" height="1.3" opacity="0.70"/>
<rect x="201.0" y="458.8" width="0.9" height="0.9" opacity="0.63"/>
<rect x="216.8" y="414.7" width="0.9" height="0.9" opacity="0.72"/>
<rect x="181.3" y="440.4" width="0.9" height="0.9" opacity="0.99"/>
<rect x="192.9" y="437.1" width="0.9" height="0.9" opacity="0.47"/>
<rect x="204.9" y="433.4" width="1.3" height="1.3" opacity="0.98"/>
<rect x="197.5" y="431.4" width="0.9" height="0.9" opacity="0.64"/>
<rect x="199.3" y="434.9" width="0.9" height="0.9" opacity="0.75"/>
<rect x="203.0" y="427.9" width="0.9" height="0.9" opacity="0.90"/>
<rect x="198.8" y="439.4" width="1.3" height="1.3" opacity="0.70"/>
<rect x="214.6" y="427.4" width="0.9" height="0.9" opacity="0.93"/>
<rect x="177.4" y="441.2" width="0.9" height="0.9" opacity="0.99"/>
<rect x="186.0" y="438.6" width="1.3" height="1.3" opacity="0.80"/>
<rect x="200.3" y="446.6" width="0.9" height="0.9" opacity="0.90"/>
<rect x="220.0" y="417.8" width="0.9" height="0.9" opacity="0.49"/>
<rect x="200.2" y="453.8" width="1.3" height="1.3" opacity="0.75"/>
<rect x="209.7" y="418.6" width="0.9" height="0.9" opacity="0.50"/>
<rect x="199.8" y="431.2" width="0.9" height="0.9" opacity="0.92"/>
<rect x="199.5" y="444.3" width="1.3" height="1.3" opacity="0.94"/>
<rect x="200.6" y="454.2" width="0.9" height="0.9" opacity="0.73"/>
<rect x="210.4" y="419.8" width="1.3" height="1.3" opacity="0.97"/>
<rect x="199.9" y="442.4" width="1.3" height="1.3" opacity="0.87"/>
<rect x="205.7" y="439.3" width="1.3" height="1.3" opacity="0.91"/>
<rect x="208.3" y="433.3" width="0.9" height="0.9" opacity="0.71"/>
<rect x="195.5" y="431.3" width="1.3" height="1.3" opacity="0.97"/>
<rect x="202.5" y="451.7" width="1.3" height="1.3" opacity="0.48"/>
<rect x="176.6" y="442.6" width="0.9" height="0.9" opacity="0.45"/>
<rect x="185.3" y="437.6" width="1.3" height="1.3" opacity="0.77"/>
<rect x="202.2" y="446.9" width="0.9" height="0.9" opacity="0.74"/>
<rect x="219.1" y="415.9" width="0.9" height="0.9" opacity="0.64"/>
<rect x="201.3" y="456.4" width="0.9" height="0.9" opacity="0.50"/>
<rect x="194.7" y="436.0" width="0.9" height="0.9" opacity="0.74"/>
<rect x="215.1" y="425.4" width="0.9" height="0.9" opacity="0.53"/>
<rect x="212.1" y="429.3" width="0.9" height="0.9" opacity="0.81"/>
<rect x="182.8" y="453.6" width="0.9" height="0.9" opacity="1.00"/>
<rect x="210.2" y="418.2" width="1.3" height="1.3" opacity="0.47"/>
<rect x="211.8" y="419.7" width="0.9" height="0.9" opacity="0.67"/>
<rect x="194.1" y="465.7" width="0.9" height="0.9" opacity="0.63"/>
<rect x="209.3" y="421.9" width="1.3" height="1.3" opacity="0.74"/>
<rect x="199.5" y="456.1" width="1.3" height="1.3" opacity="0.64"/>
<rect x="212.7" y="425.7" width="1.3" height="1.3" opacity="0.67"/>
<rect x="206.2" y="425.2" width="0.9" height="0.9" opacity="0.69"/>
<rect x="188.2" y="461.9" width="0.9" height="0.9" opacity="0.64"/>
<rect x="190.6" y="429.1" width="1.3" height="1.3" opacity="0.51"/>
<rect x="200.6" y="426.8" width="0.9" height="0.9" opacity="0.89"/>
<rect x="182.4" y="453.5" width="0.9" height="0.9" opacity="0.98"/>
<rect x="201.6" y="429.9" width="0.9" height="0.9" opacity="0.99"/>
<rect x="203.3" y="435.3" width="0.9" height="0.9" opacity="1.00"/>
<rect x="215.0" y="425.8" width="1.3" height="1.3" opacity="0.53"/>
<rect x="202.1" y="433.8" width="0.9" height="0.9" opacity="0.63"/>
<rect x="192.2" y="430.3" width="1.3" height="1.3" opacity="0.98"/>
<rect x="201.8" y="434.2" width="0.9" height="0.9" opacity="0.63"/>
<rect x="187.0" y="437.5" width="0.9" height="0.9" opacity="0.65"/>
<rect x="182.2" y="437.3" width="0.9" height="0.9" opacity="0.76"/>
<rect x="183.9" y="457.4" width="0.9" height="0.9" opacity="0.46"/>
<rect x="200.7" y="430.8" width="0.9" height="0.9" opacity="0.67"/>
<rect x="204.7" y="433.5" width="0.9" height="0.9" opacity="0.61"/>
<rect x="205.4" y="433.7" width="0.9" height="0.9" opacity="0.82"/>
<rect x="197.7" y="462.2" width="0.9" height="0.9" opacity="0.64"/>
<rect x="181.0" y="451.0" width="0.9" height="0.9" opacity="0.52"/>
<rect x="209.0" y="420.0" width="0.9" height="0.9" opacity="0.99"/>
<rect x="203.1" y="427.1" width="0.9" height="0.9" opacity="0.97"/>
<rect x="212.2" y="421.9" width="0.9" height="0.9" opacity="0.83"/>
<rect x="183.1" y="443.4" width="1.3" height="1.3" opacity="0.52"/>
<rect x="199.4" y="453.9" width="0.9" height="0.9" opacity="0.75"/>
<rect x="205.9" y="438.6" width="0.9" height="0.9" opacity="0.53"/>
<rect x="190.6" y="433.7" width="0.9" height="0.9" opacity="0.89"/>
<rect x="199.9" y="451.6" width="1.3" height="1.3" opacity="0.79"/>
<rect x="202.2" y="438.3" width="0.9" height="0.9" opacity="0.84"/>
<rect x="212.9" y="430.5" width="0.9" height="0.9" opacity="0.58"/>
<rect x="194.3" y="431.1" width="1.3" height="1.3" opacity="0.62"/>
<rect x="195.6" y="435.2" width="0.9" height="0.9" opacity="0.98"/>
<rect x="216.0" y="414.5" width="1.3" height="1.3" opacity="0.68"/>
<rect x="196.6" y="428.0" width="1.3" height="1.3" opacity="0.90"/>
<rect x="208.2" y="431.4" width="1.3" height="1.3" opacity="0.88"/>
<rect x="179.9" y="443.2" width="0.9" height="0.9" opacity="0.97"/>
<rect x="186.2" y="432.8" width="0.9" height="0.9" opacity="0.86"/>
<rect x="199.4" y="448.9" width="0.9" height="0.9" opacity="0.98"/>
<rect x="183.5" y="455.7" width="0.9" height="0.9" opacity="0.63"/>
<rect x="194.9" y="431.9" width="0.9" height="0.9" opacity="0.97"/>
<rect x="207.2" y="431.7" width="1.3" height="1.3" opacity="0.65"/>
<rect x="198.7" y="456.9" width="0.9" height="0.9" opacity="0.94"/>
<rect x="220.2" y="416.9" width="1.3" height="1.3" opacity="0.55"/>
<rect x="212.3" y="427.2" width="0.9" height="0.9" opacity="0.95"/>
<rect x="216.6" y="415.6" width="1.3" height="1.3" opacity="0.54"/>
<rect x="187.0" y="437.6" width="1.3" height="1.3" opacity="0.47"/>
<rect x="214.0" y="426.2" width="0.9" height="0.9" opacity="0.52"/>
<rect x="199.6" y="443.5" width="0.9" height="0.9" opacity="0.91"/>
<rect x="215.7" y="423.9" width="0.9" height="0.9" opacity="0.89"/>
<rect x="214.9" y="424.8" width="0.9" height="0.9" opacity="0.93"/>
<rect x="186.5" y="432.4" width="0.9" height="0.9" opacity="0.69"/>
<rect x="214.3" y="422.0" width="0.9" height="0.9" opacity="0.59"/>
<rect x="197.5" y="431.6" width="0.9" height="0.9" opacity="0.95"/>
<rect x="186.2" y="437.6" width="0.9" height="0.9" opacity="0.54"/>
<rect x="212.8" y="419.0" width="0.9" height="0.9" opacity="0.91"/>
<rect x="207.7" y="423.9" width="0.9" height="0.9" opacity="0.68"/>
<rect x="199.3" y="440.9" width="0.9" height="0.9" opacity="0.72"/>
<rect x="201.2" y="425.9" width="0.9" height="0.9" opacity="0.66"/>
<rect x="205.0" y="419.0" width="1.1" height="1.1" opacity="0.56"/>
<rect x="219.0" y="418.0" width="1.1" height="1.1" opacity="0.67"/>
<rect x="220.0" y="432.0" width="1.1" height="1.1" opacity="0.83"/>
<rect x="211.0" y="445.0" width="1.1" height="1.1" opacity="0.69"/>
<rect x="222.0" y="414.0" width="1.1" height="1.1" opacity="0.57"/>
<rect x="214.0" y="438.0" width="1.1" height="1.1" opacity="0.60"/>
<rect x="217.0" y="421.0" width="1.1" height="1.1" opacity="0.76"/>
<rect x="208.0" y="423.0" width="1.1" height="1.1" opacity="0.56"/>
<rect x="224.0" y="428.0" width="1.1" height="1.1" opacity="0.68"/>
</g>
</g>
<rect x="172.4" y="370.5" width="95.0" height="89.4" fill="none" stroke="#999" stroke-width="1.2"/>
<text x="0" y="0" font-size="6.2" font-family="Liberation Sans, sans-serif" font-weight="bold" style="stroke-width:0.1px" transform="translate(169.5,467.2) scale(1.25,1)">10<tspan font-size="3.9" dy="-1.8">0</tspan></text>
<text x="0" y="0" font-size="6.2" font-family="Liberation Sans, sans-serif" font-weight="bold" style="stroke-width:0.1px" transform="translate(169.4,462.1) scale(1.25,1) rotate(-90)">10<tspan font-size="3.9" dy="-1.8">0</tspan></text>
<text x="0" y="0" font-size="6.2" font-family="Liberation Sans, sans-serif" font-weight="bold" style="stroke-width:0.1px" transform="translate(193.2,467.2) scale(1.25,1)">10<tspan font-size="3.9" dy="-1.8">1</tspan></text>
<text x="0" y="0" font-size="6.2" font-family="Liberation Sans, sans-serif" font-weight="bold" style="stroke-width:0.1px" transform="translate(169.4,439.7) scale(1.25,1) rotate(-90)">10<tspan font-size="3.9" dy="-1.8">1</tspan></text>
<text x="0" y="0" font-size="6.2" font-family="Liberation Sans, sans-serif" font-weight="bold" style="stroke-width:0.1px" transform="translate(217.0,467.2) scale(1.25,1)">10<tspan font-size="3.9" dy="-1.8">2</tspan></text>
<text x="0" y="0" font-size="6.2" font-family="Liberation Sans, sans-serif" font-weight="bold" style="stroke-width:0.1px" transform="translate(169.4,417.4) scale(1.25,1) rotate(-90)">10<tspan font-size="3.9" dy="-1.8">2</tspan></text>
<text x="0" y="0" font-size="6.2" font-family="Liberation Sans, sans-serif" font-weight="bold" style="stroke-width:0.1px" transform="translate(240.7,467.2) scale(1.25,1)">10<tspan font-size="3.9" dy="-1.8">3</tspan></text>
<text x="0" y="0" font-size="6.2" font-family="Liberation Sans, sans-serif" font-weight="bold" style="stroke-width:0.1px" transform="translate(169.4,395.1) scale(1.25,1) rotate(-90)">10<tspan font-size="3.9" dy="-1.8">3</tspan></text>
<text x="0" y="0" font-size="6.2" font-family="Liberation Sans, sans-serif" font-weight="bold" style="stroke-width:0.1px" transform="translate(264.5,467.2) scale(1.25,1)">10<tspan font-size="3.9" dy="-1.8">4</tspan></text>
<text x="0" y="0" font-size="6.2" font-family="Liberation Sans, sans-serif" font-weight="bold" style="stroke-width:0.1px" transform="translate(169.4,372.7) scale(1.25,1) rotate(-90)">10<tspan font-size="3.9" dy="-1.8">4</tspan></text>
<clipPath id="fc20"><rect x="58.599999999999994" y="479.7" width="94.9" height="89.0"/></clipPath>
<g clip-path="url(#fc20)">
<g fill="none" stroke="#222" stroke-width="1.0" stroke-linejoin="round">
<path d="M80.7,573.7 L80.0,573.7 L79.6,573.3 L79.1,573.0 L78.7,572.8 L78.1,572.9 L77.5,572.9 L77.1,572.5 L76.7,572.2 L76.3,571.8 L75.9,571.6 L75.1,571.7 L74.7,572.0 L74.3,572.2 L73.5,572.3 L72.7,572.2 L71.9,572.3 L71.7,572.9 L71.5,573.4 L70.7,573.6 L69.9,573.4 L69.5,573.2 L69.1,572.9 L68.3,572.6 L67.5,572.8 L66.7,572.9 L65.9,572.8 L65.2,572.9 L64.7,573.0 L64.3,572.8 L63.9,572.2 L63.6,571.7 L63.3,571.3 L63.5,570.8 L63.7,570.1 L63.9,569.5 L64.3,568.9 L63.9,568.5 L63.4,568.1 L62.7,567.7 L62.3,567.4 L61.9,567.3 L61.3,566.9 L60.7,566.6 L59.9,566.8 L59.6,566.1 L59.7,565.3 L59.1,565.2 L58.4,564.9 L58.2,564.5 L58.4,564.1 L58.7,563.7 L58.8,562.9 L58.7,562.5 L58.3,561.7 L58.3,561.3 L58.1,560.5 L57.9,559.7 L57.9,559.6 L58.3,559.0 L59.1,559.1 L59.9,559.3 L60.3,558.9 L60.4,558.1 L60.4,557.3 L60.0,556.9 L59.5,556.6 L58.7,556.9 L58.3,557.3 L58.0,557.3 L57.7,556.9 L57.5,556.3 L57.5,555.7 L57.9,555.3 L58.3,555.0 L58.7,554.6 L58.9,554.1 L59.1,553.6 L59.4,552.9 L59.6,552.5 L59.8,551.7 L59.9,551.2 L60.3,550.7 L61.1,550.8 L61.5,551.1 L61.9,551.7 L62.7,551.6 L63.5,551.5 L64.3,551.3 L65.1,551.3 L65.1,550.9 L64.8,550.5 L64.3,550.1 L64.3,549.7 L63.9,549.0 L63.9,548.6 L64.3,548.1 L64.7,547.9 L65.1,547.7 L65.9,547.4 L66.3,546.9 L66.3,546.1 L66.5,545.7 L66.8,545.3 L67.5,545.0 L68.0,544.9 L68.7,544.7 L69.3,544.9 L69.9,545.1 L70.3,544.8 L70.7,544.3 L71.3,544.1 L71.9,543.9 L72.4,543.7 L72.9,543.3 L73.5,542.9 L73.9,542.9 L74.3,543.0 L74.7,542.8 L75.2,542.5 L75.9,542.4 L76.7,542.3 L77.4,542.5 L77.6,542.9 L77.3,543.3 L77.5,543.8 L77.9,544.2 L78.3,544.5 L79.1,544.5 L79.5,544.4 L80.3,544.1 L80.3,543.5 L80.7,543.0 L81.1,542.7 L81.9,542.7 L82.5,542.5 L83.1,542.3 L83.9,542.4 L84.3,542.5 L84.9,542.9 L85.4,543.3 L85.7,543.7 L85.5,544.1 L85.0,544.5 L85.1,545.0 L85.5,545.4 L85.9,545.9 L86.7,546.0 L87.1,545.4 L87.4,544.9 L87.1,544.3 L86.9,543.7 L87.5,543.4 L88.0,543.3 L87.6,542.9 L87.4,542.5 L87.4,541.7 L87.7,541.3 L87.7,540.5 L87.9,539.7 L88.1,539.3 L87.9,538.5 L87.5,538.3 L87.1,537.7 L87.1,536.9 L87.5,536.1 L87.6,535.7 L87.6,534.9 L87.9,534.1 L88.1,533.7 L87.9,532.9 L88.2,532.1 L88.2,531.3 L88.3,530.9 L88.5,530.1 L88.7,529.6 L89.1,529.3 L89.9,528.9 L90.3,528.7 L90.7,528.4 L91.5,528.3 L92.3,528.1 L92.0,527.3 L92.2,526.5 L92.3,526.1 L92.4,525.3 L92.3,524.7 L92.3,524.4 L92.6,523.7 L93.1,523.3 L93.5,523.2 L94.2,522.9 L94.6,522.5 L94.7,522.1 L94.7,521.4 L94.7,520.9 L94.6,520.1 L94.7,519.7 L95.5,519.5 L96.3,519.6 L97.1,519.5 L97.7,519.7 L98.0,520.1 L98.2,520.9 L98.4,521.3 L99.1,521.5 L99.9,521.6 L100.3,521.7 L100.9,522.1 L101.5,522.3 L102.3,522.3 L103.1,522.4 L103.7,522.5 L104.0,522.9 L104.0,523.7 L103.8,524.1 L103.7,524.9 L103.7,525.7 L104.0,526.1 L104.4,526.5 L104.7,527.0 L104.8,527.7 L104.6,528.1 L104.3,528.6 L103.5,528.7 L102.9,528.5 L102.5,528.1 L102.4,527.3 L102.3,526.9 L102.2,526.1 L101.9,525.7 L101.2,525.3 L100.7,525.3 L100.3,525.6 L100.1,526.1 L100.3,526.5 L100.7,526.9 L101.1,527.4 L101.5,527.7 L102.1,528.1 L101.9,528.8 L101.8,529.3 L101.8,530.1 L101.9,530.8 L102.2,531.3 L102.5,531.7 L102.3,532.1 L101.5,532.4 L101.1,532.6 L100.9,533.3 L101.1,533.9 L101.5,534.1 L102.3,534.3 L102.5,534.9 L102.5,535.7 L102.2,536.1 L101.9,536.7 L101.1,536.8 L100.3,536.8 L99.9,537.0 L99.1,537.3 L99.5,538.0 L99.8,538.5 L100.2,538.9 L100.6,539.3 L100.8,539.7 L101.1,540.5 L101.0,541.3 L100.7,542.1 L100.4,542.5 L99.9,542.8 L99.2,542.9 L99.1,542.9 L98.6,542.5 L98.0,542.1 L97.8,542.1 L97.1,542.3 L96.6,542.5 L96.0,542.9 L95.9,543.3 L95.9,543.7 L95.9,544.2 L95.6,544.9 L95.4,545.3 L94.9,545.7 L94.3,545.8 L93.9,545.6 L93.2,545.7 L92.9,546.1 L93.0,546.9 L93.1,547.5 L93.2,548.1 L93.0,548.5 L93.1,549.3 L93.1,550.1 L93.1,550.9 L93.1,551.3 L93.0,551.7 L92.7,552.4 L92.6,552.9 L92.7,553.5 L93.1,554.0 L93.1,554.2 L93.1,554.6 L93.2,555.3 L93.1,555.7 L92.8,556.5 L92.6,556.9 L92.3,557.3 L92.0,558.1 L92.3,558.7 L92.7,559.2 L93.1,559.6 L93.1,559.9 L92.8,560.5 L92.3,560.8 L91.5,560.8 L91.0,560.9 L90.6,561.3 L90.7,561.7 L90.9,562.5 L91.1,563.3 L90.9,564.1 L90.7,564.9 L91.0,565.7 L90.8,566.5 L90.5,566.9 L89.9,567.3 L89.5,566.8 L89.1,566.2 L88.7,566.0 L88.0,566.1 L87.7,566.5 L87.7,567.3 L88.1,567.7 L88.7,568.1 L89.1,568.2 L89.1,568.9 L88.8,569.3 L88.3,569.7 L87.9,569.9 L87.5,570.2 L87.1,570.9 L86.7,570.3 L86.1,570.1 L85.8,570.1 L85.1,570.4 L84.7,570.9 L84.5,571.3 L84.3,571.7 L83.8,572.1 L83.1,572.3 L82.7,572.6 L82.3,573.0 L81.8,573.3 L81.1,573.6 L80.7,573.7Z"/>
<path d="M98.6,525.3 L98.3,524.5 L97.7,524.9 L97.9,525.5 L98.6,525.3Z"/>
<path d="M98.7,545.5 L97.9,545.5 L97.5,545.0 L97.1,544.5 L96.6,544.5 L97.1,544.5 L97.6,544.1 L98.3,544.0 L98.7,544.5 L98.8,544.9 L98.7,545.5Z"/>
<path d="M68.9,548.1 L69.2,547.7 L69.1,547.2 L68.3,547.1 L67.5,547.0 L67.4,547.7 L67.5,548.1 L68.3,548.2 L68.9,548.1Z"/>
<path d="M78.7,571.7 L78.3,571.6 L77.5,571.5 L77.1,571.3 L76.7,570.9 L75.9,570.8 L75.1,570.9 L74.7,571.1 L73.9,571.2 L73.3,570.9 L72.9,570.5 L72.7,570.1 L71.9,570.0 L71.5,570.1 L70.7,570.4 L70.3,570.5 L69.5,570.6 L68.7,570.8 L68.3,571.3 L67.9,571.6 L67.5,571.7 L66.7,571.8 L65.9,571.8 L65.4,571.7 L64.9,571.3 L64.7,570.9 L64.9,570.5 L65.3,570.1 L65.7,569.7 L66.0,569.3 L65.9,568.9 L65.1,568.5 L64.9,568.1 L64.5,567.7 L63.9,567.5 L63.2,567.3 L62.7,567.1 L62.3,566.8 L61.6,566.5 L61.2,566.1 L60.8,565.7 L60.6,565.3 L60.1,564.9 L59.5,564.5 L59.3,564.1 L59.4,563.3 L59.2,562.5 L59.0,562.1 L58.8,561.3 L58.9,560.5 L59.1,560.1 L59.9,559.8 L60.5,559.7 L60.7,559.3 L60.7,558.9 L60.7,558.1 L60.7,557.7 L60.7,557.0 L60.4,556.5 L60.3,555.7 L60.2,555.3 L59.9,554.9 L59.7,554.1 L59.9,553.3 L60.1,552.9 L60.3,552.5 L60.7,551.9 L61.2,552.1 L61.7,552.5 L62.3,552.6 L63.1,552.8 L63.7,552.5 L64.3,552.2 L65.1,552.2 L65.5,551.9 L65.6,551.3 L65.6,550.5 L65.5,550.1 L65.3,549.3 L65.5,548.6 L66.3,548.5 L67.1,548.9 L67.5,548.9 L67.9,548.8 L68.7,548.6 L69.3,548.5 L69.8,548.1 L70.0,547.7 L69.9,547.0 L69.7,546.5 L70.3,546.2 L70.7,546.1 L71.2,545.7 L71.8,545.3 L72.1,544.9 L72.7,544.7 L73.5,544.7 L74.1,544.5 L74.7,544.1 L75.1,544.0 L75.9,543.9 L76.3,544.1 L76.7,544.6 L77.1,545.0 L77.9,545.2 L78.3,545.3 L78.7,545.3 L79.5,545.2 L80.3,545.0 L80.7,544.8 L81.4,544.5 L81.9,544.5 L82.3,544.5 L82.7,544.4 L83.3,544.5 L83.6,544.9 L84.2,545.3 L84.7,545.4 L85.3,545.7 L85.6,546.1 L86.1,546.5 L86.7,546.7 L87.2,546.5 L87.5,546.0 L87.9,545.5 L88.7,545.5 L89.5,545.6 L89.9,545.8 L90.3,546.3 L90.7,546.7 L91.1,546.2 L91.1,545.7 L90.8,545.3 L90.4,544.9 L89.9,544.6 L89.5,544.3 L89.1,543.8 L88.7,543.4 L88.5,542.9 L88.4,542.1 L88.4,541.3 L88.5,540.5 L88.7,540.1 L88.7,539.4 L88.6,538.9 L88.3,538.4 L87.9,537.9 L87.8,537.3 L88.0,536.9 L88.0,536.1 L88.2,535.3 L88.3,534.8 L88.7,534.2 L88.9,533.7 L88.7,533.3 L88.7,532.9 L89.5,532.6 L89.7,532.1 L89.8,531.3 L89.5,530.8 L89.2,530.1 L89.6,529.7 L90.3,529.3 L90.7,529.0 L91.1,528.8 L91.9,528.9 L92.7,528.8 L93.3,528.5 L93.1,528.0 L92.7,527.6 L92.5,526.9 L92.7,526.1 L92.8,525.7 L92.9,524.9 L93.1,524.5 L93.5,523.9 L93.9,523.7 L94.5,523.3 L95.0,522.9 L95.3,522.5 L95.3,521.7 L95.3,520.9 L95.5,520.4 L96.3,520.4 L96.7,520.6 L97.3,520.9 L97.5,521.5 L97.9,522.0 L98.3,522.4 L98.7,522.5 L99.1,522.4 L99.9,522.1 L100.7,522.5 L101.1,522.7 L101.5,522.9 L102.3,523.0 L103.0,523.3 L103.3,523.7 L103.2,524.5 L102.9,524.9 L102.3,525.1 L101.7,524.9 L101.2,524.5 L100.7,524.5 L100.4,524.9 L99.9,525.1 L99.5,524.9 L99.0,524.5 L98.7,523.9 L98.4,523.3 L97.9,523.1 L97.5,523.7 L97.4,524.1 L97.1,524.7 L97.0,525.3 L97.3,525.7 L97.6,526.1 L98.1,526.5 L98.7,526.6 L99.4,526.9 L99.9,527.0 L100.4,527.3 L100.6,528.1 L101.1,528.5 L101.4,528.9 L101.4,529.7 L101.1,530.2 L100.7,530.5 L100.4,531.3 L100.6,532.1 L100.3,532.9 L99.9,533.3 L99.8,533.7 L100.0,534.1 L100.3,534.7 L100.6,535.3 L100.3,535.8 L99.9,536.2 L99.1,536.3 L98.3,536.2 L97.9,535.9 L97.5,535.7 L97.3,536.1 L97.9,536.5 L98.3,536.8 L98.4,537.3 L98.6,538.1 L98.3,538.8 L98.0,539.3 L98.3,540.1 L98.5,540.5 L98.3,541.0 L97.9,541.4 L97.3,541.7 L96.7,541.9 L96.3,542.1 L95.5,542.5 L95.1,542.9 L94.8,543.3 L94.6,543.7 L94.0,544.1 L93.9,544.8 L93.5,545.2 L93.1,545.4 L92.5,545.7 L92.3,546.2 L92.3,546.9 L92.4,547.3 L92.4,548.1 L92.3,548.9 L92.5,549.7 L92.7,550.5 L92.7,550.9 L92.7,551.3 L92.3,552.1 L92.0,552.5 L91.8,552.9 L91.9,553.3 L92.2,554.1 L92.3,554.9 L92.4,555.3 L92.3,556.1 L92.0,556.5 L91.6,556.9 L91.4,557.3 L91.1,558.0 L91.1,558.5 L90.7,559.3 L90.3,559.7 L89.9,560.1 L89.7,560.5 L89.5,561.3 L89.7,562.1 L89.8,562.9 L89.9,563.3 L89.9,564.1 L89.6,564.5 L89.2,564.9 L88.7,565.1 L88.3,565.3 L87.6,565.7 L87.1,566.0 L86.7,566.3 L86.3,566.5 L85.9,566.9 L85.7,567.7 L85.5,568.1 L85.1,568.8 L85.0,569.3 L84.6,569.7 L83.9,570.1 L83.5,570.5 L83.1,570.7 L82.6,570.9 L81.9,571.1 L81.1,571.0 L80.3,571.2 L79.7,571.3 L79.1,571.6 L78.7,571.7Z"/>
<path d="M91.1,549.3 L91.3,548.9 L91.5,548.5 L91.3,548.1 L90.7,548.0 L90.1,547.7 L89.5,547.4 L89.4,548.1 L89.1,548.8 L88.9,549.3 L89.5,549.5 L90.3,549.6 L91.1,549.3Z"/>
<path d="M69.0,562.9 L69.4,562.5 L69.1,561.9 L68.7,562.1 L68.5,562.9 L69.0,562.9Z"/>
<path d="M96.3,524.1 L95.9,523.7 L95.7,523.3 L96.3,522.9 L96.7,523.7 L96.3,524.1Z"/>
<path d="M99.9,524.2 L99.5,523.8 L99.5,523.3 L99.9,523.0 L100.6,523.3 L100.3,523.9 L99.9,524.2Z"/>
<path d="M93.9,527.3 L93.5,527.3 L93.1,526.5 L93.3,525.7 L93.6,525.3 L93.9,524.5 L94.3,524.2 L94.8,524.5 L94.6,524.9 L94.5,525.7 L94.4,526.5 L94.0,526.9 L93.9,527.3Z"/>
<path d="M91.9,545.6 L91.5,545.0 L91.2,544.5 L90.7,544.3 L90.1,544.1 L89.8,543.7 L89.7,542.9 L89.5,542.5 L89.1,542.1 L88.9,541.3 L89.1,540.6 L89.5,540.1 L89.5,539.7 L89.5,539.3 L89.1,538.5 L88.7,538.2 L88.4,537.7 L88.5,536.9 L88.6,536.1 L88.8,535.7 L89.0,534.9 L89.3,534.5 L89.7,534.1 L90.1,533.7 L90.7,533.3 L90.9,532.9 L91.4,532.5 L91.9,532.2 L92.3,531.8 L92.3,531.6 L91.9,531.1 L91.1,531.1 L90.6,530.9 L90.3,530.5 L90.3,530.1 L90.8,529.7 L91.5,529.6 L92.3,529.4 L93.1,529.5 L93.9,529.3 L94.3,529.3 L95.1,529.2 L95.9,529.1 L96.7,529.0 L97.3,528.9 L97.7,528.5 L97.5,527.8 L97.1,527.4 L97.1,527.2 L97.9,527.3 L98.7,527.2 L99.1,527.4 L99.1,528.1 L98.7,528.2 L98.3,528.5 L98.2,529.3 L98.4,529.7 L98.8,530.1 L98.7,530.7 L98.3,530.9 L97.9,531.5 L97.8,532.1 L98.1,532.5 L98.1,533.3 L97.7,533.7 L97.3,534.1 L97.1,534.5 L96.6,534.9 L96.3,535.3 L96.3,535.9 L96.7,536.4 L97.1,536.6 L97.5,536.9 L97.8,537.7 L97.6,538.5 L97.3,538.9 L96.8,539.3 L96.3,539.7 L96.3,540.1 L96.4,540.5 L96.1,540.9 L95.5,541.2 L95.1,541.4 L94.4,541.3 L94.2,540.9 L93.6,540.5 L93.3,540.1 L93.2,539.3 L92.9,538.9 L92.3,538.9 L92.2,539.3 L92.1,540.1 L92.1,540.9 L91.8,541.3 L91.5,541.8 L91.3,542.5 L91.6,542.9 L91.9,543.4 L92.3,544.1 L92.7,544.1 L92.8,544.9 L92.3,545.2 L91.9,545.6Z"/>
<path d="M91.2,537.7 L91.1,537.3 L90.6,537.3 L90.7,537.7 L91.2,537.7Z"/>
<path d="M81.9,569.8 L81.2,569.7 L80.8,569.3 L80.5,568.9 L80.0,568.5 L79.7,568.5 L79.1,568.8 L78.7,569.0 L78.3,569.4 L77.5,569.4 L76.8,569.7 L76.3,569.8 L75.5,569.8 L74.7,570.1 L74.0,569.7 L73.7,569.3 L73.5,568.9 L72.8,568.5 L72.5,568.5 L71.9,568.6 L71.2,568.9 L70.7,569.1 L70.3,569.3 L69.5,569.3 L69.2,568.9 L69.5,568.4 L69.9,568.5 L69.9,568.3 L69.5,568.0 L69.1,567.6 L68.3,567.5 L67.9,567.1 L67.1,567.1 L66.7,567.3 L65.9,567.4 L65.5,567.2 L64.8,566.9 L64.3,566.7 L63.5,566.7 L62.8,566.5 L62.3,566.1 L62.0,565.7 L61.8,565.3 L61.5,564.7 L61.1,564.5 L60.5,564.1 L60.3,563.6 L60.0,562.9 L59.9,562.3 L59.9,561.7 L60.1,561.3 L60.7,561.3 L61.1,561.4 L61.5,561.3 L62.0,560.9 L61.9,560.1 L61.7,559.7 L61.4,559.3 L61.2,558.5 L61.3,557.7 L61.3,556.9 L61.1,556.4 L60.9,555.7 L60.7,555.0 L60.5,554.5 L60.6,553.7 L61.1,553.5 L61.9,553.6 L62.7,553.7 L63.1,553.7 L63.5,553.6 L63.9,553.2 L64.7,553.0 L65.5,553.3 L65.9,553.6 L66.3,553.2 L66.7,552.5 L66.4,551.7 L66.2,551.3 L66.0,550.5 L66.3,549.7 L66.7,549.4 L67.5,549.5 L68.3,549.5 L68.7,549.3 L69.1,549.3 L69.1,549.8 L69.1,550.5 L69.1,550.5 L69.9,550.3 L70.7,550.1 L71.1,549.7 L71.3,549.3 L71.5,548.9 L71.5,548.2 L71.4,547.7 L71.5,547.3 L71.9,546.7 L72.3,546.4 L73.0,546.1 L73.5,546.0 L74.0,546.1 L74.7,546.3 L75.2,546.5 L75.6,546.9 L76.0,547.3 L76.7,547.6 L77.5,547.5 L78.3,547.4 L78.7,546.9 L79.1,546.8 L79.9,546.8 L80.7,546.9 L81.5,546.8 L82.0,546.5 L82.2,545.7 L82.4,545.7 L82.7,546.3 L83.5,546.2 L84.3,546.1 L84.7,546.0 L85.1,546.2 L85.5,546.7 L85.9,547.0 L86.7,547.2 L87.5,546.9 L87.9,546.6 L88.3,546.4 L88.5,546.9 L88.5,547.7 L88.3,548.1 L87.8,548.5 L87.4,548.9 L87.1,549.3 L87.1,550.1 L87.5,550.5 L88.3,550.3 L88.9,550.1 L89.1,550.1 L89.9,550.4 L90.7,550.3 L91.1,550.1 L91.7,550.1 L91.9,550.5 L92.1,551.3 L91.9,551.7 L91.1,551.9 L90.7,552.3 L90.1,552.1 L90.3,551.4 L90.3,551.2 L89.9,551.3 L89.5,551.7 L88.9,551.7 L88.7,551.3 L88.1,550.9 L87.5,550.5 L87.1,551.1 L87.1,551.4 L87.5,551.8 L88.3,552.1 L88.3,552.5 L88.7,553.2 L89.1,553.6 L89.5,553.2 L90.1,553.3 L89.9,553.8 L89.4,554.1 L89.5,554.8 L89.9,555.3 L90.3,555.6 L90.7,555.9 L91.0,556.5 L90.7,557.2 L90.4,557.7 L90.2,558.1 L90.0,558.9 L89.7,559.3 L89.3,559.7 L89.0,560.1 L88.7,560.7 L88.6,561.3 L88.6,562.1 L88.7,562.6 L88.9,563.3 L88.7,564.1 L88.3,564.5 L87.9,564.7 L87.5,565.0 L86.7,565.3 L86.3,565.4 L85.7,565.7 L85.5,566.1 L85.1,566.6 L84.8,567.3 L84.6,567.7 L84.3,568.2 L84.0,568.9 L83.6,569.3 L83.1,569.5 L82.3,569.6 L81.9,569.8Z"/>
<path d="M87.8,557.3 L88.3,557.1 L88.7,556.6 L88.9,556.1 L88.6,555.7 L87.9,555.7 L87.5,555.9 L87.1,556.3 L86.7,556.9 L86.7,557.0 L87.1,557.4 L87.8,557.3Z"/>
<path d="M69.0,563.3 L69.5,563.0 L69.8,562.5 L69.7,561.7 L69.1,561.3 L69.0,561.3 L68.5,561.7 L68.0,562.1 L67.8,562.5 L67.9,563.0 L68.3,563.4 L69.0,563.3Z"/>
<path d="M67.1,570.6 L66.6,570.5 L66.9,570.1 L67.3,569.7 L67.3,568.9 L67.5,568.5 L68.3,568.5 L68.6,568.9 L68.3,569.5 L67.9,569.8 L67.5,570.4 L67.1,570.6Z"/>
<path d="M95.5,533.3 L95.3,532.9 L95.1,532.4 L94.3,532.1 L93.9,531.8 L93.5,531.4 L93.1,531.0 L93.0,530.5 L93.5,530.1 L93.9,530.0 L94.7,530.1 L95.1,530.2 L95.9,530.5 L96.1,530.9 L96.1,531.7 L96.3,532.1 L96.2,532.5 L95.9,533.1 L95.5,533.3Z"/>
<path d="M96.3,538.5 L95.5,538.7 L94.7,538.7 L94.5,538.1 L93.9,537.7 L93.5,537.6 L93.1,536.9 L93.3,536.1 L93.1,535.4 L92.3,535.4 L92.0,534.9 L92.3,534.3 L93.1,534.2 L93.9,534.4 L94.3,534.5 L94.6,535.3 L94.7,535.7 L95.1,536.4 L95.5,536.7 L96.0,536.9 L96.7,537.2 L97.1,537.6 L97.1,537.9 L96.7,538.4 L96.3,538.5Z"/>
<path d="M75.5,568.3 L74.7,568.1 L74.3,568.0 L73.5,567.7 L73.1,567.6 L72.3,567.5 L72.1,566.9 L72.3,566.5 L72.4,565.7 L72.3,564.9 L71.9,564.9 L71.5,565.3 L71.1,565.6 L70.7,565.9 L70.1,565.7 L69.5,565.4 L69.0,565.3 L68.7,564.9 L68.2,564.9 L67.8,565.3 L67.6,566.1 L67.1,566.4 L66.3,566.4 L65.5,566.2 L65.1,566.0 L64.3,565.8 L63.5,565.8 L63.1,565.6 L62.7,565.2 L62.3,564.7 L61.9,564.1 L61.9,563.7 L61.7,562.9 L61.4,562.5 L61.6,562.1 L62.3,561.7 L62.6,561.3 L62.8,560.9 L62.7,560.1 L62.6,559.7 L62.7,559.2 L63.1,558.6 L63.2,558.1 L63.3,557.3 L63.1,556.7 L63.0,556.1 L63.5,555.7 L63.9,555.6 L64.4,555.3 L65.1,555.1 L65.7,554.9 L66.3,554.5 L66.6,554.1 L66.9,553.7 L67.2,553.3 L67.5,552.5 L67.3,551.7 L67.5,551.2 L68.3,551.0 L69.1,551.3 L69.9,551.2 L70.4,550.9 L71.1,550.5 L71.5,550.1 L71.8,549.7 L72.1,549.3 L72.6,548.9 L73.1,548.5 L73.5,548.2 L73.9,547.9 L74.7,547.8 L75.4,548.1 L75.9,548.4 L76.7,548.5 L77.5,548.4 L78.3,548.4 L78.7,548.5 L79.4,548.9 L79.8,549.3 L80.3,549.5 L80.8,549.3 L81.1,548.9 L81.5,548.5 L82.3,548.2 L83.0,548.5 L83.4,548.9 L83.5,549.3 L83.9,549.9 L84.3,550.1 L84.7,550.5 L85.1,551.0 L85.5,551.5 L85.9,551.7 L86.5,552.1 L87.1,552.5 L87.4,552.9 L87.5,553.4 L87.8,554.1 L87.6,554.9 L87.2,555.3 L86.7,555.7 L86.3,556.0 L86.0,556.5 L85.9,557.3 L85.9,557.4 L86.3,558.1 L86.7,558.4 L86.9,558.9 L87.1,559.6 L87.1,560.0 L86.7,560.4 L86.4,560.9 L86.3,561.7 L86.7,562.3 L87.1,562.9 L87.3,563.3 L87.1,563.9 L86.7,564.4 L86.3,564.7 L85.5,564.7 L85.1,564.9 L84.6,565.3 L84.3,565.9 L83.9,566.4 L83.5,566.9 L83.1,567.2 L82.7,567.5 L82.3,567.7 L81.5,568.0 L80.8,567.7 L80.3,567.5 L79.5,567.4 L78.7,567.7 L77.9,567.4 L77.5,567.1 L76.7,567.0 L76.0,567.3 L75.9,567.7 L75.5,568.3Z"/>
<path d="M69.3,563.7 L69.8,563.3 L70.1,562.9 L70.4,562.5 L70.3,561.7 L69.9,561.3 L69.5,560.9 L69.1,560.8 L68.6,560.9 L67.9,561.2 L67.5,561.5 L67.1,561.8 L66.7,562.5 L66.7,562.9 L66.7,563.3 L67.1,563.9 L67.9,564.0 L68.7,564.0 L69.3,563.7Z"/>
<path d="M81.5,566.6 L81.0,566.5 L80.5,566.1 L80.2,565.7 L79.9,565.0 L79.5,564.6 L79.1,564.4 L78.3,564.2 L77.5,564.5 L77.1,564.9 L76.7,565.0 L75.9,565.1 L75.5,565.3 L74.7,565.6 L74.2,565.3 L74.4,564.9 L75.0,564.5 L75.2,564.1 L75.1,563.3 L74.8,562.9 L74.3,562.8 L73.5,562.6 L73.1,562.5 L72.7,562.5 L72.3,562.5 L72.0,561.7 L71.5,561.4 L71.1,561.2 L70.4,560.9 L70.0,560.5 L69.6,560.1 L69.1,560.0 L68.4,560.1 L68.2,560.1 L67.5,559.7 L67.2,559.3 L66.9,558.9 L66.4,558.5 L66.0,558.1 L65.5,557.9 L65.1,557.5 L65.1,556.9 L65.3,556.5 L65.5,556.1 L65.9,555.7 L66.5,555.3 L66.9,554.9 L67.5,554.8 L67.9,555.1 L68.0,555.7 L68.4,556.1 L69.1,556.3 L69.5,556.0 L69.7,555.3 L69.8,554.5 L69.9,553.9 L70.3,553.6 L70.7,553.2 L70.9,552.5 L71.2,552.1 L71.5,551.7 L71.9,551.2 L72.2,550.5 L72.5,550.1 L73.1,549.7 L73.5,549.6 L74.3,549.7 L74.7,550.0 L75.1,550.4 L75.7,550.1 L76.3,549.9 L76.7,550.2 L76.8,550.9 L76.7,551.6 L76.5,552.1 L76.7,552.5 L77.5,552.8 L78.0,552.5 L78.3,552.0 L78.7,551.6 L79.2,551.3 L79.8,551.3 L80.3,551.5 L80.7,551.9 L81.1,552.3 L81.5,552.5 L81.9,552.4 L82.4,552.1 L83.1,551.9 L83.4,552.5 L83.2,553.3 L83.5,554.0 L83.9,554.3 L84.3,554.9 L84.3,554.9 L84.0,555.7 L84.3,556.3 L84.7,556.6 L85.0,557.3 L84.7,557.8 L83.9,558.1 L83.7,558.5 L83.5,558.9 L83.4,559.7 L83.9,560.1 L84.3,560.2 L84.6,560.9 L84.4,561.7 L84.3,562.3 L84.2,562.9 L84.2,563.7 L83.9,564.4 L83.1,564.3 L82.7,564.7 L82.6,565.3 L82.3,565.8 L81.9,566.3 L81.5,566.6Z"/>
<path d="M86.3,553.8 L85.5,554.0 L85.0,553.7 L84.6,553.3 L84.7,552.8 L85.5,552.5 L86.3,552.9 L86.4,553.3 L86.3,553.8Z"/>
<path d="M65.1,560.8 L64.3,560.6 L63.9,560.2 L63.7,559.7 L63.9,559.1 L64.7,559.0 L65.5,559.2 L65.6,559.7 L65.5,560.3 L65.1,560.8Z"/>
</g>
<g fill="#222">
<rect x="57.6" y="557.5" width="0.9" height="0.9" opacity="0.89"/>
<rect x="93.9" y="560.3" width="1.3" height="1.3" opacity="0.95"/>
<rect x="100.4" y="540.7" width="0.9" height="0.9" opacity="0.57"/>
<rect x="103.7" y="536.7" width="0.9" height="0.9" opacity="0.48"/>
<rect x="96.1" y="512.9" width="0.9" height="0.9" opacity="0.84"/>
<rect x="84.4" y="535.7" width="1.3" height="1.3" opacity="0.97"/>
<rect x="57.0" y="552.8" width="1.3" height="1.3" opacity="0.94"/>
<rect x="100.6" y="543.7" width="1.3" height="1.3" opacity="0.71"/>
<rect x="63.1" y="546.8" width="0.9" height="0.9" opacity="1.00"/>
<rect x="64.9" y="549.1" width="1.3" height="1.3" opacity="0.93"/>
<rect x="99.9" y="519.3" width="0.9" height="0.9" opacity="0.86"/>
<rect x="84.9" y="536.6" width="1.3" height="1.3" opacity="0.86"/>
<rect x="89.2" y="573.8" width="0.9" height="0.9" opacity="0.78"/>
<rect x="104.2" y="529.9" width="1.3" height="1.3" opacity="0.89"/>
<rect x="77.0" y="543.0" width="1.3" height="1.3" opacity="0.99"/>
<rect x="102.5" y="541.8" width="1.3" height="1.3" opacity="0.90"/>
<rect x="80.9" y="574.9" width="0.9" height="0.9" opacity="0.47"/>
<rect x="75.1" y="538.0" width="0.9" height="0.9" opacity="0.62"/>
<rect x="68.5" y="546.5" width="0.9" height="0.9" opacity="0.87"/>
<rect x="60.3" y="567.0" width="0.9" height="0.9" opacity="0.76"/>
<rect x="96.5" y="543.9" width="1.3" height="1.3" opacity="0.63"/>
<rect x="90.5" y="561.0" width="0.9" height="0.9" opacity="0.88"/>
<rect x="92.6" y="545.8" width="1.3" height="1.3" opacity="0.79"/>
<rect x="69.6" y="545.6" width="0.9" height="0.9" opacity="0.51"/>
<rect x="99.6" y="515.0" width="1.3" height="1.3" opacity="0.58"/>
<rect x="92.5" y="565.1" width="0.9" height="0.9" opacity="0.52"/>
<rect x="104.8" y="536.6" width="1.3" height="1.3" opacity="0.46"/>
<rect x="75.7" y="543.4" width="0.9" height="0.9" opacity="0.73"/>
<rect x="56.6" y="558.7" width="0.9" height="0.9" opacity="0.51"/>
<rect x="100.6" y="544.7" width="1.3" height="1.3" opacity="0.56"/>
<rect x="88.8" y="528.2" width="0.9" height="0.9" opacity="0.65"/>
<rect x="100.4" y="515.5" width="1.3" height="1.3" opacity="0.72"/>
<rect x="105.5" y="530.1" width="1.3" height="1.3" opacity="0.54"/>
<rect x="90.6" y="569.9" width="0.9" height="0.9" opacity="0.85"/>
<rect x="92.1" y="521.0" width="0.9" height="0.9" opacity="0.64"/>
<rect x="58.4" y="559.7" width="0.9" height="0.9" opacity="0.50"/>
<rect x="89.1" y="568.3" width="1.3" height="1.3" opacity="0.53"/>
<rect x="86.1" y="535.0" width="0.9" height="0.9" opacity="0.76"/>
<rect x="72.2" y="544.5" width="0.9" height="0.9" opacity="0.91"/>
<rect x="63.6" y="545.2" width="0.9" height="0.9" opacity="0.87"/>
<rect x="102.0" y="521.8" width="1.3" height="1.3" opacity="0.78"/>
<rect x="79.2" y="573.9" width="1.3" height="1.3" opacity="0.91"/>
<rect x="99.6" y="537.7" width="1.3" height="1.3" opacity="0.85"/>
<rect x="104.5" y="519.8" width="1.3" height="1.3" opacity="0.66"/>
<rect x="67.7" y="575.0" width="0.9" height="0.9" opacity="0.56"/>
<rect x="103.2" y="532.0" width="0.9" height="0.9" opacity="0.93"/>
<rect x="93.5" y="548.8" width="0.9" height="0.9" opacity="0.46"/>
<rect x="58.6" y="565.5" width="0.9" height="0.9" opacity="0.77"/>
<rect x="58.9" y="552.6" width="0.9" height="0.9" opacity="0.66"/>
<rect x="100.2" y="525.7" width="1.3" height="1.3" opacity="0.92"/>
<rect x="89.7" y="569.7" width="1.3" height="1.3" opacity="0.75"/>
<rect x="63.3" y="547.2" width="0.9" height="0.9" opacity="0.66"/>
<rect x="95.6" y="543.6" width="1.3" height="1.3" opacity="0.98"/>
<rect x="94.5" y="569.7" width="0.9" height="0.9" opacity="0.73"/>
<rect x="75.0" y="538.9" width="0.9" height="0.9" opacity="0.73"/>
<rect x="89.7" y="573.2" width="0.9" height="0.9" opacity="0.63"/>
<rect x="94.5" y="559.7" width="1.3" height="1.3" opacity="0.92"/>
<rect x="101.6" y="538.0" width="0.9" height="0.9" opacity="0.56"/>
<rect x="61.4" y="547.6" width="0.9" height="0.9" opacity="0.86"/>
<rect x="58.4" y="572.1" width="0.9" height="0.9" opacity="0.88"/>
<rect x="70.1" y="541.9" width="0.9" height="0.9" opacity="0.99"/>
<rect x="62.1" y="574.7" width="1.3" height="1.3" opacity="0.59"/>
<rect x="83.0" y="536.8" width="0.9" height="0.9" opacity="0.85"/>
<rect x="89.3" y="532.2" width="0.9" height="0.9" opacity="0.72"/>
<rect x="75.6" y="540.3" width="0.9" height="0.9" opacity="0.78"/>
<rect x="69.0" y="542.8" width="1.3" height="1.3" opacity="0.46"/>
<rect x="76.6" y="543.2" width="0.9" height="0.9" opacity="0.91"/>
<rect x="96.2" y="543.4" width="0.9" height="0.9" opacity="0.50"/>
<rect x="94.0" y="520.9" width="1.3" height="1.3" opacity="0.98"/>
<rect x="57.0" y="567.5" width="1.3" height="1.3" opacity="0.60"/>
<rect x="96.6" y="551.9" width="0.9" height="0.9" opacity="0.83"/>
<rect x="56.7" y="563.7" width="0.9" height="0.9" opacity="0.79"/>
<rect x="60.6" y="566.5" width="0.9" height="0.9" opacity="0.83"/>
<rect x="63.0" y="573.6" width="1.3" height="1.3" opacity="0.57"/>
<rect x="86.4" y="534.7" width="0.9" height="0.9" opacity="0.73"/>
<rect x="86.2" y="573.5" width="0.9" height="0.9" opacity="0.58"/>
<rect x="102.8" y="530.2" width="0.9" height="0.9" opacity="0.96"/>
<rect x="100.1" y="536.3" width="0.9" height="0.9" opacity="0.66"/>
<rect x="95.0" y="564.3" width="0.9" height="0.9" opacity="0.77"/>
<rect x="98.9" y="547.0" width="0.9" height="0.9" opacity="0.96"/>
<rect x="94.0" y="520.6" width="0.9" height="0.9" opacity="0.54"/>
<rect x="87.4" y="567.6" width="0.9" height="0.9" opacity="0.62"/>
<rect x="91.4" y="524.0" width="0.9" height="0.9" opacity="0.88"/>
<rect x="84.6" y="573.9" width="0.9" height="0.9" opacity="0.70"/>
<rect x="88.9" y="528.3" width="0.9" height="0.9" opacity="0.70"/>
<rect x="91.9" y="562.7" width="1.3" height="1.3" opacity="0.97"/>
<rect x="88.2" y="571.6" width="0.9" height="0.9" opacity="0.68"/>
<rect x="84.0" y="539.5" width="1.3" height="1.3" opacity="0.90"/>
<rect x="59.3" y="546.3" width="0.9" height="0.9" opacity="0.65"/>
<rect x="100.7" y="524.9" width="0.9" height="0.9" opacity="0.97"/>
<rect x="100.3" y="538.4" width="0.9" height="0.9" opacity="0.83"/>
<rect x="101.3" y="538.4" width="1.3" height="1.3" opacity="0.74"/>
<rect x="87.7" y="527.8" width="1.3" height="1.3" opacity="0.69"/>
<rect x="100.2" y="514.5" width="0.9" height="0.9" opacity="0.81"/>
<rect x="62.5" y="569.9" width="1.3" height="1.3" opacity="0.46"/>
<rect x="62.6" y="567.9" width="1.3" height="1.3" opacity="0.55"/>
<rect x="87.3" y="571.3" width="0.9" height="0.9" opacity="0.70"/>
<rect x="86.4" y="534.3" width="0.9" height="0.9" opacity="0.60"/>
<rect x="62.8" y="549.5" width="0.9" height="0.9" opacity="0.67"/>
<rect x="66.7" y="548.0" width="0.9" height="0.9" opacity="0.74"/>
<rect x="68.1" y="541.4" width="0.9" height="0.9" opacity="0.89"/>
<rect x="94.8" y="522.2" width="0.9" height="0.9" opacity="0.57"/>
<rect x="80.0" y="538.0" width="0.9" height="0.9" opacity="0.62"/>
<rect x="63.6" y="547.6" width="1.3" height="1.3" opacity="0.57"/>
<rect x="101.7" y="527.9" width="0.9" height="0.9" opacity="0.61"/>
<rect x="105.8" y="531.5" width="0.9" height="0.9" opacity="0.61"/>
<rect x="64.9" y="551.0" width="1.3" height="1.3" opacity="0.54"/>
<rect x="95.3" y="554.0" width="0.9" height="0.9" opacity="0.60"/>
<rect x="66.5" y="540.7" width="0.9" height="0.9" opacity="0.88"/>
<rect x="99.6" y="517.7" width="0.9" height="0.9" opacity="0.73"/>
<rect x="78.1" y="539.4" width="1.3" height="1.3" opacity="0.49"/>
<rect x="87.2" y="542.7" width="0.9" height="0.9" opacity="0.98"/>
<rect x="93.4" y="560.8" width="0.9" height="0.9" opacity="0.95"/>
<rect x="74.1" y="540.7" width="0.9" height="0.9" opacity="0.57"/>
<rect x="92.9" y="516.4" width="0.9" height="0.9" opacity="0.90"/>
<rect x="104.3" y="530.5" width="0.9" height="0.9" opacity="0.71"/>
<rect x="56.2" y="558.8" width="0.9" height="0.9" opacity="0.63"/>
<rect x="90.4" y="569.1" width="0.9" height="0.9" opacity="0.57"/>
<rect x="91.6" y="520.4" width="1.3" height="1.3" opacity="0.85"/>
<rect x="61.6" y="566.7" width="0.9" height="0.9" opacity="0.61"/>
<rect x="96.0" y="556.0" width="0.9" height="0.9" opacity="0.57"/>
<rect x="102.4" y="539.6" width="1.3" height="1.3" opacity="0.62"/>
<rect x="74.0" y="540.0" width="0.9" height="0.9" opacity="0.92"/>
<rect x="80.0" y="542.9" width="0.9" height="0.9" opacity="0.48"/>
<rect x="101.2" y="546.5" width="1.3" height="1.3" opacity="0.75"/>
<rect x="96.3" y="513.3" width="0.9" height="0.9" opacity="0.59"/>
<rect x="103.4" y="536.7" width="0.9" height="0.9" opacity="0.69"/>
<rect x="69.0" y="572.2" width="1.3" height="1.3" opacity="0.85"/>
<rect x="63.3" y="575.1" width="1.3" height="1.3" opacity="0.56"/>
<rect x="69.3" y="541.5" width="1.3" height="1.3" opacity="0.51"/>
<rect x="101.2" y="541.0" width="0.9" height="0.9" opacity="0.90"/>
<rect x="103.6" y="535.4" width="0.9" height="0.9" opacity="0.83"/>
<rect x="93.6" y="562.0" width="0.9" height="0.9" opacity="0.84"/>
<rect x="73.5" y="574.7" width="0.9" height="0.9" opacity="0.97"/>
<rect x="60.6" y="545.7" width="1.3" height="1.3" opacity="0.57"/>
<rect x="95.3" y="513.2" width="0.9" height="0.9" opacity="0.80"/>
<rect x="69.3" y="546.4" width="1.3" height="1.3" opacity="0.90"/>
<rect x="58.7" y="567.5" width="0.9" height="0.9" opacity="0.86"/>
<rect x="101.9" y="529.8" width="0.9" height="0.9" opacity="0.50"/>
<rect x="87.6" y="568.8" width="0.9" height="0.9" opacity="0.76"/>
<rect x="62.6" y="547.5" width="0.9" height="0.9" opacity="0.49"/>
<rect x="87.5" y="537.7" width="0.9" height="0.9" opacity="0.99"/>
<rect x="69.0" y="544.9" width="0.9" height="0.9" opacity="0.70"/>
<rect x="89.6" y="566.4" width="1.3" height="1.3" opacity="0.73"/>
<rect x="81.1" y="572.1" width="0.9" height="0.9" opacity="0.79"/>
<rect x="90.8" y="561.7" width="0.9" height="0.9" opacity="0.60"/>
<rect x="100.5" y="547.8" width="0.9" height="0.9" opacity="0.57"/>
<rect x="104.2" y="535.4" width="0.9" height="0.9" opacity="0.51"/>
<rect x="94.4" y="520.9" width="0.9" height="0.9" opacity="0.82"/>
<rect x="94.9" y="514.5" width="0.9" height="0.9" opacity="0.63"/>
<rect x="92.9" y="553.1" width="0.9" height="0.9" opacity="0.97"/>
<rect x="73.8" y="574.6" width="0.9" height="0.9" opacity="0.52"/>
<rect x="95.8" y="562.8" width="0.9" height="0.9" opacity="0.98"/>
<rect x="93.3" y="553.1" width="0.9" height="0.9" opacity="0.73"/>
<rect x="96.4" y="514.1" width="0.9" height="0.9" opacity="0.97"/>
<rect x="88.4" y="531.3" width="0.9" height="0.9" opacity="0.62"/>
<rect x="95.1" y="553.3" width="0.9" height="0.9" opacity="0.58"/>
<rect x="105.7" y="529.7" width="1.3" height="1.3" opacity="0.61"/>
<rect x="78.5" y="542.1" width="0.9" height="0.9" opacity="0.74"/>
<rect x="105.7" y="519.3" width="0.9" height="0.9" opacity="0.92"/>
<rect x="96.7" y="519.5" width="0.9" height="0.9" opacity="0.92"/>
<rect x="100.2" y="544.3" width="0.9" height="0.9" opacity="0.48"/>
<rect x="95.8" y="544.8" width="0.9" height="0.9" opacity="0.64"/>
<rect x="102.0" y="531.5" width="0.9" height="0.9" opacity="0.96"/>
<rect x="63.3" y="571.7" width="0.9" height="0.9" opacity="0.76"/>
<rect x="59.9" y="575.0" width="0.9" height="0.9" opacity="0.62"/>
<rect x="92.0" y="523.8" width="1.3" height="1.3" opacity="0.81"/>
<rect x="58.6" y="556.9" width="0.9" height="0.9" opacity="0.48"/>
<rect x="66.8" y="542.7" width="0.9" height="0.9" opacity="0.51"/>
<rect x="104.1" y="534.2" width="0.9" height="0.9" opacity="0.84"/>
<rect x="92.4" y="518.8" width="0.9" height="0.9" opacity="0.79"/>
<rect x="62.2" y="572.7" width="0.9" height="0.9" opacity="0.52"/>
<rect x="64.2" y="572.5" width="0.9" height="0.9" opacity="1.00"/>
<rect x="95.0" y="522.7" width="1.3" height="1.3" opacity="0.47"/>
<rect x="59.6" y="569.9" width="0.9" height="0.9" opacity="0.48"/>
<rect x="80.1" y="540.2" width="0.9" height="0.9" opacity="0.97"/>
<rect x="87.1" y="572.8" width="0.9" height="0.9" opacity="0.74"/>
<rect x="93.0" y="519.7" width="1.3" height="1.3" opacity="0.67"/>
<rect x="92.2" y="560.3" width="0.9" height="0.9" opacity="0.96"/>
<rect x="104.9" y="536.0" width="0.9" height="0.9" opacity="0.98"/>
<rect x="93.4" y="556.3" width="0.9" height="0.9" opacity="0.75"/>
<rect x="91.3" y="522.5" width="0.9" height="0.9" opacity="0.92"/>
<rect x="74.8" y="542.9" width="0.9" height="0.9" opacity="0.94"/>
<rect x="92.5" y="524.7" width="0.9" height="0.9" opacity="0.84"/>
<rect x="103.4" y="539.3" width="1.3" height="1.3" opacity="0.51"/>
<rect x="66.9" y="544.9" width="1.3" height="1.3" opacity="0.90"/>
<rect x="66.8" y="573.1" width="0.9" height="0.9" opacity="0.77"/>
<rect x="88.1" y="543.0" width="1.3" height="1.3" opacity="0.93"/>
<rect x="94.4" y="563.9" width="0.9" height="0.9" opacity="0.85"/>
<rect x="91.7" y="518.1" width="0.9" height="0.9" opacity="0.57"/>
<rect x="89.8" y="571.0" width="0.9" height="0.9" opacity="0.97"/>
<rect x="76.1" y="573.0" width="1.3" height="1.3" opacity="0.86"/>
<rect x="80.5" y="540.7" width="0.9" height="0.9" opacity="0.67"/>
<rect x="103.7" y="533.2" width="0.9" height="0.9" opacity="0.84"/>
<rect x="98.2" y="556.1" width="1.3" height="1.3" opacity="0.64"/>
<rect x="102.1" y="530.4" width="0.9" height="0.9" opacity="0.93"/>
<rect x="90.6" y="529.2" width="0.9" height="0.9" opacity="0.95"/>
<rect x="95.9" y="551.5" width="0.9" height="0.9" opacity="0.74"/>
<rect x="70.8" y="543.2" width="1.3" height="1.3" opacity="0.99"/>
<rect x="74.0" y="543.7" width="0.9" height="0.9" opacity="0.64"/>
<rect x="97.0" y="517.0" width="1.1" height="1.1" opacity="0.84"/>
<rect x="102.0" y="520.0" width="1.1" height="1.1" opacity="0.73"/>
<rect x="107.0" y="530.0" width="1.1" height="1.1" opacity="0.68"/>
<rect x="110.0" y="525.0" width="1.1" height="1.1" opacity="0.58"/>
<rect x="100.0" y="515.0" width="1.1" height="1.1" opacity="0.51"/>
<rect x="104.0" y="540.0" width="1.1" height="1.1" opacity="0.44"/>
<rect x="92.0" y="518.0" width="1.1" height="1.1" opacity="0.63"/>
<rect x="90.0" y="523.0" width="1.1" height="1.1" opacity="0.75"/>
</g>
</g>
<rect x="58.3" y="479.7" width="95.2" height="89.3" fill="none" stroke="#999" stroke-width="1.2"/>
<text x="0" y="0" font-size="6.2" font-family="Liberation Sans, sans-serif" font-weight="bold" style="stroke-width:0.1px" transform="translate(55.4,576.3) scale(1.25,1)">10<tspan font-size="3.9" dy="-1.8">0</tspan></text>
<text x="0" y="0" font-size="6.2" font-family="Liberation Sans, sans-serif" font-weight="bold" style="stroke-width:0.1px" transform="translate(55.3,571.2) scale(1.25,1) rotate(-90)">10<tspan font-size="3.9" dy="-1.8">0</tspan></text>
<text x="0" y="0" font-size="6.2" font-family="Liberation Sans, sans-serif" font-weight="bold" style="stroke-width:0.1px" transform="translate(79.2,576.3) scale(1.25,1)">10<tspan font-size="3.9" dy="-1.8">1</tspan></text>
<text x="0" y="0" font-size="6.2" font-family="Liberation Sans, sans-serif" font-weight="bold" style="stroke-width:0.1px" transform="translate(55.3,548.9) scale(1.25,1) rotate(-90)">10<tspan font-size="3.9" dy="-1.8">1</tspan></text>
<text x="0" y="0" font-size="6.2" font-family="Liberation Sans, sans-serif" font-weight="bold" style="stroke-width:0.1px" transform="translate(103.0,576.3) scale(1.25,1)">10<tspan font-size="3.9" dy="-1.8">2</tspan></text>
<text x="0" y="0" font-size="6.2" font-family="Liberation Sans, sans-serif" font-weight="bold" style="stroke-width:0.1px" transform="translate(55.3,526.6) scale(1.25,1) rotate(-90)">10<tspan font-size="3.9" dy="-1.8">2</tspan></text>
<text x="0" y="0" font-size="6.2" font-family="Liberation Sans, sans-serif" font-weight="bold" style="stroke-width:0.1px" transform="translate(126.8,576.3) scale(1.25,1)">10<tspan font-size="3.9" dy="-1.8">3</tspan></text>
<text x="0" y="0" font-size="6.2" font-family="Liberation Sans, sans-serif" font-weight="bold" style="stroke-width:0.1px" transform="translate(55.3,504.2) scale(1.25,1) rotate(-90)">10<tspan font-size="3.9" dy="-1.8">3</tspan></text>
<text x="0" y="0" font-size="6.2" font-family="Liberation Sans, sans-serif" font-weight="bold" style="stroke-width:0.1px" transform="translate(150.6,576.3) scale(1.25,1)">10<tspan font-size="3.9" dy="-1.8">4</tspan></text>
<text x="0" y="0" font-size="6.2" font-family="Liberation Sans, sans-serif" font-weight="bold" style="stroke-width:0.1px" transform="translate(55.3,481.9) scale(1.25,1) rotate(-90)">10<tspan font-size="3.9" dy="-1.8">4</tspan></text>
<clipPath id="fc21"><rect x="172.5" y="479.9" width="95.1" height="88.9"/></clipPath>
<g clip-path="url(#fc21)">
<g fill="none" stroke="#222" stroke-width="1.0" stroke-linejoin="round">
<path d="M222.6,520.0 L222.2,519.8 L221.8,519.1 L222.2,518.6 L222.9,518.7 L223.0,519.1 L223.0,519.5 L222.6,520.0Z"/>
<path d="M196.2,573.2 L195.4,573.3 L194.7,573.1 L194.2,572.7 L193.8,572.6 L193.4,572.1 L193.0,571.7 L192.6,571.5 L192.2,571.1 L191.8,570.6 L191.4,570.2 L190.8,569.9 L190.2,569.6 L189.8,569.2 L189.4,568.9 L189.0,568.6 L188.4,568.3 L187.9,567.9 L187.5,567.5 L187.1,567.1 L186.7,566.7 L186.2,566.5 L185.4,566.3 L185.0,566.3 L184.2,566.2 L183.4,565.9 L183.0,565.5 L182.9,565.1 L182.8,564.3 L182.7,563.5 L182.7,562.7 L182.6,562.3 L182.2,561.6 L182.1,561.1 L182.0,560.3 L182.0,559.5 L182.2,559.0 L182.3,558.3 L182.2,557.5 L182.5,556.7 L182.9,556.3 L183.2,555.9 L183.3,555.1 L183.5,554.7 L183.8,554.2 L184.2,553.8 L184.6,553.5 L185.0,552.9 L185.4,552.3 L185.6,551.9 L185.8,551.5 L185.9,550.7 L186.2,550.1 L186.6,549.7 L187.3,549.5 L187.8,549.4 L188.6,549.1 L189.0,548.8 L189.2,548.3 L189.4,547.6 L189.7,547.1 L190.0,546.7 L190.2,546.3 L190.6,545.5 L190.9,545.1 L191.4,545.0 L192.2,544.8 L192.5,544.3 L192.7,543.9 L193.0,543.3 L193.4,543.0 L193.8,543.2 L194.6,543.3 L195.3,543.1 L195.8,542.8 L196.6,543.0 L197.2,542.7 L197.8,542.5 L198.2,542.0 L198.6,541.7 L199.0,541.4 L199.7,541.5 L199.9,541.9 L200.2,542.4 L200.6,542.8 L201.1,543.1 L201.4,543.7 L201.9,543.9 L202.3,543.9 L202.5,543.1 L202.4,542.3 L202.6,541.9 L203.0,541.2 L203.3,540.7 L203.5,540.3 L203.6,539.5 L203.6,538.7 L203.8,538.3 L203.9,537.5 L204.2,536.7 L204.6,536.3 L205.0,535.9 L205.4,535.5 L206.2,535.6 L206.8,535.5 L207.2,535.1 L207.4,534.7 L207.9,534.3 L208.6,533.9 L208.9,533.5 L208.6,532.7 L208.2,532.4 L207.4,532.5 L206.6,532.3 L206.2,532.1 L205.9,531.5 L205.8,530.9 L205.8,530.6 L206.2,530.0 L206.6,529.7 L207.0,529.5 L207.5,529.5 L207.9,529.9 L208.4,530.3 L208.9,530.7 L209.2,531.1 L209.8,531.4 L210.2,531.9 L210.7,531.5 L211.0,530.9 L211.2,530.3 L211.1,529.5 L210.9,529.1 L210.8,528.3 L210.2,528.0 L209.8,528.3 L209.0,528.4 L209.0,528.1 L209.4,527.7 L209.8,527.1 L209.6,526.3 L209.6,525.5 L209.6,524.7 L209.8,524.3 L210.6,524.2 L211.1,524.3 L211.4,524.7 L211.8,525.2 L212.5,525.5 L213.0,525.7 L213.1,525.1 L213.0,524.7 L212.7,523.9 L213.0,523.9 L213.8,524.1 L214.2,523.8 L214.6,523.5 L215.4,523.3 L215.9,523.1 L216.4,522.7 L217.0,522.4 L217.3,521.9 L217.8,521.6 L218.0,522.3 L218.2,522.7 L218.5,523.5 L219.0,523.8 L219.6,523.9 L220.2,524.2 L221.0,524.3 L221.5,523.9 L222.1,523.5 L222.6,523.3 L223.3,523.5 L223.8,523.8 L224.2,524.3 L224.0,525.1 L224.0,525.9 L224.2,526.6 L224.6,526.8 L225.1,527.1 L225.4,527.5 L225.4,528.1 L225.2,528.7 L225.4,529.1 L225.8,529.6 L225.9,530.3 L225.5,530.7 L225.2,531.1 L225.0,531.5 L224.4,531.9 L224.1,532.3 L223.8,532.8 L223.3,533.1 L222.8,533.5 L222.5,533.9 L222.2,534.3 L221.8,534.8 L221.4,535.3 L221.0,535.7 L220.6,536.3 L220.4,536.7 L220.6,537.1 L221.4,537.5 L222.2,537.2 L222.6,537.0 L223.4,537.0 L223.8,537.5 L224.0,537.9 L223.8,538.3 L223.0,538.5 L222.3,538.3 L221.8,538.0 L221.4,538.4 L221.0,539.0 L220.6,539.2 L219.8,539.1 L219.4,538.8 L219.1,538.3 L218.6,538.0 L218.1,538.3 L218.2,539.1 L218.0,539.9 L218.2,540.5 L218.7,540.7 L219.4,541.0 L219.8,541.3 L220.2,541.7 L221.0,541.8 L221.8,541.9 L221.9,542.3 L221.7,542.7 L221.3,543.1 L220.6,543.4 L220.2,543.0 L219.4,543.0 L218.6,543.0 L218.2,543.5 L218.2,543.9 L218.2,544.3 L218.4,545.1 L218.7,545.5 L219.4,545.9 L219.5,546.3 L219.6,547.1 L219.4,547.7 L219.0,548.3 L218.7,548.7 L218.3,549.1 L218.0,549.5 L217.7,549.9 L217.0,550.1 L216.5,549.9 L215.8,549.7 L215.4,549.4 L214.9,549.1 L214.4,548.7 L214.0,548.7 L213.4,549.1 L213.2,549.5 L213.1,550.3 L213.0,550.8 L212.4,551.1 L212.1,551.5 L212.3,551.9 L212.5,552.7 L212.3,553.5 L212.1,553.9 L211.4,554.3 L210.8,554.3 L210.2,554.5 L209.9,555.1 L209.7,555.5 L209.8,556.3 L209.8,556.7 L210.2,557.2 L210.3,557.9 L210.1,558.3 L209.6,558.7 L209.0,559.1 L208.8,559.5 L208.6,560.0 L208.4,560.7 L208.5,561.5 L208.2,562.2 L207.8,562.3 L207.0,562.5 L206.5,562.7 L206.4,563.5 L206.1,563.9 L205.6,564.3 L205.3,564.7 L205.0,565.1 L205.0,565.8 L205.1,566.3 L205.0,567.1 L204.8,567.5 L204.6,567.9 L204.2,568.4 L203.7,568.7 L203.4,569.1 L203.0,569.5 L202.5,569.9 L201.8,570.2 L201.0,570.2 L200.6,570.4 L200.1,570.7 L199.4,570.9 L199.0,571.1 L198.2,571.5 L197.8,571.7 L197.4,572.1 L197.0,572.5 L196.6,572.9 L196.2,573.2Z"/>
<path d="M217.9,526.3 L217.8,525.9 L217.4,526.3 L217.4,526.3 L217.9,526.3Z"/>
<path d="M221.3,530.3 L221.8,529.9 L222.2,529.5 L222.2,529.4 L221.8,528.7 L221.4,528.5 L221.1,527.9 L221.0,527.4 L220.6,526.8 L220.2,527.1 L219.9,527.9 L220.2,528.7 L220.3,529.1 L220.3,529.9 L220.6,530.5 L221.3,530.3Z"/>
<path d="M209.4,547.1 L209.6,546.7 L209.5,545.9 L209.2,545.5 L208.7,545.5 L208.5,545.9 L208.3,546.7 L208.6,547.2 L209.4,547.1Z"/>
<path d="M195.4,571.1 L195.0,571.0 L194.2,570.8 L193.8,570.6 L193.0,570.3 L192.6,570.1 L192.2,569.9 L191.6,569.5 L191.0,569.2 L190.6,568.9 L190.2,568.5 L189.8,568.2 L189.4,567.9 L188.7,567.5 L188.2,567.1 L187.8,566.8 L187.4,566.6 L186.7,566.3 L186.2,566.1 L185.5,565.9 L185.0,565.7 L184.5,565.5 L183.8,565.1 L183.6,564.7 L183.7,563.9 L183.6,563.1 L183.5,562.3 L183.3,561.9 L182.8,561.5 L182.6,560.8 L182.4,560.3 L182.5,559.5 L182.7,559.1 L182.8,558.3 L182.9,557.5 L183.0,557.0 L183.4,556.7 L184.2,556.3 L184.6,556.2 L185.0,555.7 L185.2,555.1 L185.4,554.7 L185.7,553.9 L185.9,553.5 L186.1,552.7 L186.4,552.3 L186.6,551.5 L186.6,551.1 L187.0,550.5 L187.4,550.3 L187.8,550.3 L188.5,550.3 L188.9,549.9 L189.3,549.5 L189.8,549.1 L190.2,549.0 L190.9,548.7 L191.1,548.3 L191.6,547.9 L191.9,547.5 L192.0,546.7 L192.5,546.3 L193.0,546.1 L193.8,546.0 L194.6,546.2 L195.4,546.0 L195.8,545.6 L196.1,545.1 L196.2,544.7 L196.6,544.1 L197.0,543.9 L197.4,543.9 L198.2,544.1 L198.6,543.8 L199.0,543.4 L199.8,543.2 L200.5,543.5 L200.8,543.9 L201.1,544.3 L201.8,544.7 L202.2,544.8 L203.0,545.0 L203.0,544.5 L202.9,543.9 L203.0,543.5 L203.3,542.7 L203.6,542.3 L203.8,541.5 L203.7,540.7 L203.8,540.1 L204.0,539.5 L204.0,538.7 L204.2,538.2 L204.3,537.5 L204.6,536.8 L205.0,536.5 L205.8,536.4 L206.2,536.8 L206.6,536.6 L207.0,536.1 L207.4,535.8 L207.8,535.4 L208.1,534.7 L208.6,534.3 L209.0,534.0 L209.4,533.5 L209.7,533.1 L210.1,532.7 L210.6,532.3 L211.0,531.9 L211.3,531.5 L211.4,530.7 L211.5,530.3 L211.8,529.5 L211.8,528.8 L212.0,528.3 L212.2,527.9 L212.9,527.5 L213.4,527.2 L213.8,527.0 L214.2,526.6 L214.2,525.9 L214.2,525.5 L214.2,525.1 L214.5,524.3 L215.0,523.9 L215.4,523.8 L216.2,523.7 L216.6,523.2 L217.0,523.0 L217.8,523.1 L218.0,523.5 L218.0,524.3 L217.8,525.0 L217.4,525.5 L217.1,525.9 L216.9,526.3 L216.8,527.1 L217.4,527.3 L217.8,527.1 L218.4,526.7 L218.8,526.3 L218.7,525.5 L218.5,525.1 L218.6,524.4 L219.0,524.3 L219.4,524.3 L220.2,524.7 L220.6,524.9 L221.3,524.7 L221.6,524.3 L222.2,523.9 L223.0,524.3 L223.0,524.7 L222.6,525.1 L222.2,525.4 L221.8,525.6 L221.0,525.8 L220.6,526.0 L220.2,526.5 L219.8,526.9 L219.6,527.5 L219.6,528.3 L219.8,528.7 L219.8,529.3 L219.6,529.9 L219.8,530.3 L219.8,530.8 L219.8,531.2 L220.2,531.6 L221.0,531.7 L221.4,531.3 L221.8,530.8 L222.2,530.6 L222.6,530.2 L222.7,529.5 L223.0,528.9 L223.8,529.0 L224.2,529.2 L224.4,529.9 L224.6,530.7 L224.2,531.1 L223.8,531.5 L223.5,532.3 L223.0,532.6 L222.6,532.7 L221.8,532.8 L221.8,533.5 L221.9,533.9 L221.7,534.3 L221.4,534.8 L221.0,535.3 L220.6,535.8 L220.2,536.2 L219.8,536.7 L220.1,537.5 L220.6,537.8 L220.8,538.3 L220.4,538.7 L220.1,538.7 L219.5,538.3 L219.3,537.9 L218.6,537.6 L217.8,537.9 L217.7,538.3 L217.8,538.7 L217.8,539.5 L217.7,539.9 L217.8,540.6 L218.2,540.9 L218.6,541.1 L219.1,541.5 L219.0,542.2 L218.6,542.4 L218.2,542.9 L217.8,543.5 L217.8,544.3 L217.7,544.7 L217.0,545.0 L216.2,545.0 L215.4,545.0 L215.0,545.4 L215.0,545.5 L215.4,546.1 L216.2,546.2 L217.0,546.0 L217.4,545.8 L218.2,545.9 L218.6,546.1 L219.0,546.7 L219.1,547.1 L219.0,547.5 L218.6,547.9 L218.0,548.3 L217.4,548.4 L216.9,548.7 L216.6,549.2 L215.8,549.2 L215.4,549.1 L215.0,548.7 L214.6,548.1 L214.2,547.8 L213.8,548.0 L213.1,548.3 L212.6,548.4 L211.8,548.6 L211.8,548.7 L212.6,548.8 L212.9,549.5 L212.6,550.3 L212.2,550.5 L211.4,550.5 L211.0,550.0 L210.6,549.7 L210.2,549.9 L209.8,550.5 L209.5,551.1 L209.8,551.7 L210.2,552.0 L210.6,552.3 L211.4,552.3 L211.9,552.7 L211.8,553.2 L211.4,553.5 L210.6,553.6 L210.2,553.9 L209.4,554.3 L209.2,554.7 L208.7,555.1 L208.4,555.5 L207.8,555.9 L207.4,556.0 L207.3,556.7 L207.4,557.3 L207.8,557.7 L208.0,558.3 L207.8,559.1 L207.8,559.5 L207.6,560.3 L207.4,560.8 L206.7,561.1 L206.3,561.5 L206.1,561.9 L205.8,562.7 L205.7,563.1 L205.4,563.5 L204.8,563.9 L204.2,564.2 L203.9,564.7 L204.0,565.5 L204.1,566.3 L203.9,567.1 L203.4,567.5 L203.0,567.6 L202.2,567.9 L201.8,568.1 L201.4,568.4 L201.0,568.9 L200.3,569.1 L200.1,569.1 L199.8,568.5 L199.1,568.7 L198.8,569.1 L198.6,569.5 L197.9,569.9 L197.4,570.2 L196.6,570.3 L196.2,570.6 L195.8,571.0 L195.4,571.1Z"/>
<path d="M222.2,528.1 L221.7,527.9 L221.6,527.1 L221.9,527.1 L222.3,527.5 L222.2,528.1Z"/>
<path d="M207.8,531.5 L207.0,531.6 L206.5,531.5 L206.4,530.7 L206.8,530.3 L207.4,530.3 L207.8,530.7 L208.1,531.1 L207.8,531.5Z"/>
<path d="M209.3,547.5 L209.7,547.1 L209.8,546.7 L210.0,545.9 L209.8,545.3 L209.4,544.9 L209.0,544.7 L208.6,544.9 L208.2,545.5 L208.1,545.9 L207.9,546.7 L208.2,547.2 L208.6,547.5 L209.3,547.5Z"/>
<path d="M205.9,546.7 L205.8,545.9 L205.5,545.5 L205.0,545.4 L204.6,545.7 L204.6,546.0 L204.8,546.7 L205.4,547.0 L205.9,546.7Z"/>
<path d="M204.2,549.9 L204.1,549.5 L203.4,549.4 L203.4,549.5 L203.8,550.0 L204.2,549.9Z"/>
<path d="M206.4,551.9 L206.7,551.5 L207.1,551.1 L207.8,550.7 L208.2,550.4 L208.3,549.9 L208.0,549.5 L207.4,549.2 L207.0,549.5 L206.6,550.0 L206.4,550.7 L205.8,550.9 L205.4,551.5 L205.4,551.5 L205.8,552.1 L206.4,551.9Z"/>
<path d="M209.4,550.1 L208.9,549.9 L208.6,549.4 L208.3,548.7 L208.6,548.1 L209.4,547.9 L209.8,547.6 L210.2,547.1 L210.3,546.7 L210.4,545.9 L210.3,545.1 L209.8,544.7 L209.4,544.4 L209.0,544.2 L208.5,544.3 L208.1,544.7 L207.7,545.1 L207.5,545.9 L207.4,546.7 L207.8,547.5 L208.0,547.9 L207.8,548.6 L207.4,548.8 L206.8,549.1 L206.2,549.3 L205.7,549.1 L205.3,548.7 L205.4,548.3 L205.8,547.5 L206.2,547.1 L206.6,546.8 L206.6,546.3 L206.3,545.9 L206.1,545.5 L205.8,544.8 L205.4,544.5 L204.6,544.5 L204.5,543.9 L204.3,543.1 L204.5,542.3 L204.9,541.9 L205.3,541.9 L205.4,541.9 L205.4,541.5 L205.0,540.7 L204.8,540.3 L204.7,539.5 L204.5,539.1 L204.6,538.5 L204.9,537.9 L205.3,537.5 L205.5,537.5 L206.1,537.9 L206.2,538.4 L206.8,538.3 L207.0,537.8 L207.1,537.1 L207.4,536.3 L207.8,536.0 L208.2,535.6 L208.4,535.1 L208.7,534.7 L209.2,534.3 L209.6,533.9 L209.9,533.5 L210.3,533.1 L210.8,532.7 L211.3,532.3 L211.6,531.9 L211.6,531.1 L211.8,530.4 L212.2,530.2 L213.0,529.9 L213.4,529.6 L213.8,529.4 L214.5,529.1 L214.7,528.7 L214.6,528.3 L214.2,527.5 L214.6,527.0 L214.9,526.3 L215.0,525.5 L215.4,525.1 L215.7,524.7 L215.9,524.7 L216.6,525.0 L216.7,525.5 L216.6,525.9 L216.2,526.6 L215.8,527.1 L215.6,527.5 L216.2,527.7 L217.0,527.8 L217.8,527.7 L218.2,527.4 L218.9,527.5 L219.1,527.9 L219.4,528.7 L219.4,529.1 L219.0,529.5 L218.6,529.7 L218.0,529.9 L217.4,530.2 L216.7,530.3 L217.4,530.4 L218.2,530.5 L218.6,530.7 L219.0,531.2 L219.4,531.7 L219.8,532.0 L220.6,532.2 L220.9,532.7 L221.0,533.2 L221.2,533.9 L221.0,534.7 L220.7,535.1 L220.4,535.5 L219.9,535.9 L219.5,536.3 L219.2,536.7 L218.6,537.0 L218.2,537.1 L217.6,537.5 L217.3,537.9 L217.4,538.6 L217.5,539.1 L217.4,539.7 L217.3,540.3 L217.4,540.9 L217.4,541.4 L217.0,541.9 L216.9,542.3 L217.0,542.7 L217.2,543.5 L217.1,544.3 L216.6,544.5 L215.8,544.5 L215.0,544.6 L214.5,544.7 L214.0,545.1 L214.2,545.8 L214.6,546.1 L214.8,546.7 L214.2,547.1 L213.8,547.2 L213.1,547.5 L212.6,547.6 L211.8,547.5 L211.4,547.4 L210.6,547.2 L210.4,547.9 L210.5,548.7 L210.2,549.3 L209.8,549.8 L209.4,550.1Z"/>
<path d="M214.4,541.5 L214.2,540.8 L213.8,540.7 L213.3,540.7 L213.4,541.2 L213.9,541.5 L214.4,541.5Z"/>
<path d="M206.7,543.9 L207.2,543.5 L207.0,543.0 L206.5,543.1 L206.5,543.9 L206.7,543.9Z"/>
<path d="M195.8,569.7 L195.0,569.8 L194.4,569.5 L194.1,569.1 L193.9,568.3 L194.1,567.5 L193.8,567.1 L193.0,567.1 L192.6,567.4 L192.5,567.9 L192.2,568.5 L191.4,568.7 L190.9,568.3 L190.4,567.9 L190.0,567.5 L189.4,567.1 L189.0,566.9 L188.6,566.7 L187.9,566.3 L187.4,566.1 L186.9,565.9 L186.2,565.5 L185.8,565.4 L185.8,564.8 L186.2,564.3 L186.6,563.9 L186.7,563.5 L186.2,563.2 L185.9,562.7 L186.1,561.9 L185.7,561.5 L185.2,561.1 L184.7,560.7 L184.2,560.7 L183.8,560.7 L183.4,560.6 L183.1,559.9 L183.4,559.1 L183.4,558.3 L183.8,557.9 L184.0,557.5 L184.3,557.1 L185.0,556.9 L185.4,556.6 L185.6,555.9 L185.7,555.1 L185.9,554.7 L186.2,554.3 L186.6,553.6 L187.0,553.1 L187.2,552.7 L187.7,552.3 L188.2,552.1 L188.7,551.9 L189.1,551.5 L189.4,550.7 L189.7,550.3 L190.2,549.9 L190.6,549.9 L191.4,549.6 L191.8,549.1 L192.2,548.8 L192.6,548.6 L193.0,548.3 L193.5,547.9 L194.2,547.6 L195.0,547.6 L195.4,547.4 L195.8,547.1 L196.2,546.4 L196.6,546.0 L197.0,545.6 L197.4,545.5 L198.1,545.1 L198.6,545.0 L199.4,544.9 L200.2,545.1 L200.6,545.2 L201.0,545.5 L201.8,545.6 L202.6,545.8 L203.4,545.8 L203.8,545.9 L204.2,546.3 L204.5,547.1 L204.8,547.5 L204.6,548.0 L203.8,547.9 L203.8,547.5 L203.0,547.1 L202.5,547.5 L202.2,548.0 L202.1,548.7 L202.5,548.7 L202.7,548.7 L202.7,549.5 L203.0,549.9 L203.4,550.4 L203.8,550.7 L204.6,551.0 L204.9,551.5 L205.1,551.9 L205.4,552.4 L205.8,553.1 L206.1,553.5 L206.6,553.9 L206.6,553.9 L207.4,553.8 L207.8,554.3 L207.9,554.7 L207.7,555.1 L207.0,555.4 L206.6,555.6 L206.2,556.1 L205.8,556.4 L205.6,557.1 L205.8,557.8 L206.2,558.2 L206.4,558.7 L206.4,559.5 L206.2,560.1 L205.8,560.7 L205.6,561.1 L205.5,561.9 L205.3,562.3 L205.0,562.7 L204.4,563.1 L203.8,563.4 L203.4,563.9 L203.1,564.3 L203.0,564.7 L203.2,565.1 L203.2,565.9 L203.0,566.3 L202.4,566.7 L201.8,567.1 L201.4,567.4 L201.0,567.5 L200.6,567.3 L199.8,567.3 L199.4,567.5 L198.6,567.8 L197.8,567.7 L197.3,567.9 L196.6,568.3 L196.2,568.7 L196.2,569.1 L195.8,569.7Z"/>
<path d="M215.8,548.2 L215.3,547.9 L215.4,547.5 L216.0,547.1 L216.5,547.1 L216.2,547.7 L215.8,548.2Z"/>
<path d="M199.7,549.9 L200.0,549.5 L199.4,549.2 L198.8,549.5 L199.1,549.9 L199.7,549.9Z"/>
<path d="M208.6,552.0 L207.8,551.9 L207.8,551.8 L208.2,551.3 L208.6,551.5 L208.6,552.0Z"/>
<path d="M189.8,562.7 L190.0,561.9 L190.2,561.5 L190.2,561.1 L189.8,561.1 L189.4,561.5 L189.0,562.2 L189.0,562.5 L189.4,563.0 L189.8,562.7Z"/>
<path d="M189.8,563.9 L189.8,563.4 L189.2,563.5 L189.4,564.1 L189.8,563.9Z"/>
<path d="M217.4,529.2 L216.6,529.2 L216.2,528.7 L216.2,528.7 L217.0,528.3 L217.8,528.7 L218.2,528.3 L218.6,528.3 L218.6,529.0 L217.8,528.8 L217.4,529.2Z"/>
<path d="M212.2,546.7 L211.8,546.7 L211.2,546.3 L211.0,545.9 L210.9,545.1 L210.6,544.3 L210.2,543.9 L209.9,543.5 L209.6,543.1 L209.8,542.3 L209.8,542.3 L209.4,542.6 L208.6,542.4 L208.1,542.3 L207.5,541.9 L207.0,541.6 L206.6,541.4 L206.2,541.1 L205.9,540.3 L206.2,539.6 L206.6,539.5 L207.2,539.1 L207.4,538.7 L207.6,537.9 L207.7,537.1 L207.9,536.7 L208.4,536.3 L208.8,535.9 L209.0,535.5 L209.5,535.1 L209.8,534.6 L210.2,534.2 L210.6,533.8 L211.0,533.4 L211.5,533.1 L212.2,532.8 L212.4,532.3 L212.4,531.5 L212.6,531.0 L213.0,531.2 L213.8,531.3 L214.6,531.3 L215.4,531.1 L215.8,531.1 L216.2,531.2 L217.0,531.2 L217.8,531.2 L218.4,531.5 L218.7,531.9 L219.1,532.3 L219.3,533.1 L219.4,533.9 L219.8,534.1 L220.3,534.3 L220.2,534.8 L219.8,535.2 L219.0,535.1 L219.1,534.3 L219.0,533.9 L218.2,533.6 L217.4,533.9 L217.2,534.3 L217.0,534.7 L216.9,535.5 L217.0,535.9 L217.3,536.7 L217.0,537.2 L216.6,537.9 L216.4,538.3 L216.5,539.1 L216.3,539.9 L216.1,540.3 L215.4,540.4 L215.0,540.1 L214.6,539.8 L214.2,539.5 L213.6,539.1 L213.0,539.0 L212.7,539.5 L212.5,539.9 L212.3,540.7 L212.6,541.5 L213.0,541.8 L213.4,542.0 L214.2,542.3 L214.6,542.3 L215.0,542.2 L215.8,542.2 L216.0,542.7 L216.1,543.5 L215.8,543.9 L215.0,544.1 L214.2,544.1 L213.8,544.3 L213.4,544.7 L213.2,545.5 L213.2,546.3 L212.6,546.7 L212.2,546.7Z"/>
<path d="M213.1,537.1 L213.1,536.3 L213.4,535.6 L213.4,535.4 L213.2,534.7 L213.0,534.1 L212.6,533.9 L212.2,534.2 L211.8,534.5 L211.4,534.9 L211.0,535.5 L210.6,535.8 L210.2,536.2 L210.2,536.4 L211.0,536.6 L211.4,536.7 L212.2,536.9 L212.8,537.1 L213.1,537.1Z"/>
<path d="M199.4,547.2 L199.0,546.9 L199.0,546.6 L199.7,546.7 L199.4,547.2Z"/>
<path d="M201.0,548.0 L200.4,547.9 L200.4,547.1 L201.0,546.8 L201.6,547.1 L201.4,547.7 L201.0,548.0Z"/>
<path d="M195.8,567.3 L195.1,567.1 L194.6,566.8 L194.2,566.4 L193.8,566.2 L193.0,566.0 L192.6,565.9 L191.9,565.9 L191.4,566.1 L190.9,565.9 L190.8,565.1 L190.6,564.5 L190.5,563.9 L190.6,563.5 L190.9,562.7 L190.7,561.9 L190.8,561.1 L190.6,560.7 L189.8,560.5 L189.4,560.8 L189.0,561.2 L188.6,561.9 L188.3,562.3 L187.8,562.7 L187.1,562.3 L187.0,561.9 L186.6,561.4 L186.2,561.1 L185.8,560.7 L185.4,560.1 L185.3,559.5 L185.2,558.7 L185.4,558.2 L185.7,557.5 L186.2,557.1 L186.2,556.7 L186.2,556.3 L186.3,555.9 L186.6,555.1 L186.7,554.7 L187.1,554.3 L187.5,554.3 L188.1,554.3 L188.5,553.9 L188.6,553.5 L189.3,553.1 L189.6,552.7 L190.2,552.5 L191.0,552.6 L191.4,552.1 L191.8,551.6 L192.2,551.3 L192.6,550.8 L192.7,550.3 L193.0,549.9 L193.8,549.7 L194.2,549.5 L195.0,549.2 L195.4,549.0 L196.2,549.0 L197.0,549.1 L197.4,549.4 L197.7,549.9 L198.0,550.3 L198.6,550.6 L199.4,550.6 L200.2,550.5 L200.7,550.3 L201.1,549.9 L201.8,549.8 L202.2,550.1 L202.6,550.4 L203.0,550.8 L203.5,551.1 L204.1,551.5 L204.4,551.9 L204.6,552.3 L205.0,553.1 L205.1,553.5 L205.2,554.3 L205.3,555.1 L205.0,555.5 L204.6,556.0 L204.4,556.7 L204.2,557.5 L204.5,558.3 L204.7,558.7 L205.0,559.3 L205.2,559.9 L205.0,560.3 L204.6,560.9 L204.2,561.5 L203.8,561.7 L203.1,561.9 L202.9,562.3 L202.4,562.7 L201.8,563.0 L201.4,563.2 L200.9,563.5 L200.6,564.3 L201.0,564.8 L201.5,565.1 L201.2,565.5 L200.6,565.9 L200.2,566.1 L199.4,566.2 L198.6,566.1 L197.8,566.1 L197.2,566.3 L196.6,566.7 L196.2,567.1 L195.8,567.3Z"/>
<path d="M189.0,565.3 L188.2,565.3 L187.6,565.1 L187.5,564.3 L188.2,564.0 L188.6,564.3 L189.0,564.7 L189.0,565.3Z"/>
<path d="M216.2,534.4 L215.4,534.7 L215.4,533.9 L215.5,533.5 L216.2,533.2 L216.4,533.9 L216.2,534.4Z"/>
<path d="M211.4,539.6 L210.6,539.8 L210.2,539.4 L209.8,538.9 L209.2,538.7 L208.6,538.3 L208.6,537.9 L208.6,537.5 L209.4,537.5 L209.8,537.6 L210.6,537.7 L211.2,537.9 L211.5,538.3 L211.7,539.1 L211.4,539.6Z"/>
<path d="M213.4,543.1 L212.6,543.3 L212.1,543.1 L212.5,542.7 L212.7,542.7 L213.4,543.1 L213.4,543.1Z"/>
<path d="M197.0,564.3 L196.5,564.3 L195.9,563.9 L195.5,563.9 L195.0,564.2 L194.6,563.9 L194.2,563.3 L193.8,562.9 L193.4,562.6 L193.0,562.3 L192.2,562.0 L191.8,561.9 L191.5,561.1 L191.4,560.7 L191.0,560.2 L190.4,559.9 L189.8,559.7 L189.1,559.9 L188.8,560.3 L188.6,560.7 L188.2,561.2 L187.8,561.1 L187.2,560.7 L186.8,560.3 L186.9,559.5 L187.1,559.1 L187.3,558.3 L187.7,557.9 L188.2,557.8 L188.6,558.1 L189.0,557.9 L189.5,557.5 L189.8,556.9 L190.2,556.4 L190.6,556.1 L191.1,555.9 L191.6,555.5 L191.9,555.1 L192.2,554.3 L192.5,553.9 L192.5,553.1 L192.6,552.5 L193.0,552.1 L193.4,551.5 L193.7,551.1 L194.1,550.7 L194.6,550.4 L195.4,550.4 L195.8,550.8 L196.2,551.2 L197.0,551.2 L197.8,551.2 L198.6,551.3 L199.4,551.3 L200.2,551.3 L201.0,551.3 L201.8,551.3 L202.2,551.7 L202.6,552.1 L203.1,552.3 L203.2,553.1 L202.7,553.5 L202.6,553.9 L202.6,554.3 L203.0,555.0 L203.2,555.5 L203.4,555.9 L203.4,556.7 L203.0,556.8 L202.5,556.7 L201.8,556.5 L201.0,556.6 L200.8,557.1 L200.7,557.9 L200.7,558.7 L200.8,559.5 L200.9,560.3 L201.0,561.1 L201.0,561.5 L201.0,561.9 L200.6,562.4 L199.8,562.7 L199.4,562.9 L198.6,563.1 L198.2,563.5 L197.8,563.9 L197.4,564.1 L197.0,564.3Z"/>
</g>
<g fill="#222">
<rect x="218.9" y="516.8" width="0.9" height="0.9" opacity="0.67"/>
<rect x="194.5" y="571.2" width="0.9" height="0.9" opacity="0.78"/>
<rect x="209.2" y="560.4" width="1.3" height="1.3" opacity="0.82"/>
<rect x="185.4" y="572.0" width="1.3" height="1.3" opacity="0.51"/>
<rect x="202.8" y="541.7" width="0.9" height="0.9" opacity="0.74"/>
<rect x="181.4" y="552.2" width="1.3" height="1.3" opacity="0.48"/>
<rect x="224.0" y="534.4" width="1.3" height="1.3" opacity="0.49"/>
<rect x="195.3" y="540.8" width="0.9" height="0.9" opacity="0.99"/>
<rect x="211.5" y="551.1" width="0.9" height="0.9" opacity="0.94"/>
<rect x="204.7" y="536.1" width="0.9" height="0.9" opacity="0.67"/>
<rect x="221.1" y="523.6" width="1.3" height="1.3" opacity="0.52"/>
<rect x="186.7" y="570.1" width="0.9" height="0.9" opacity="0.56"/>
<rect x="189.1" y="544.9" width="1.3" height="1.3" opacity="0.75"/>
<rect x="210.6" y="518.0" width="0.9" height="0.9" opacity="0.56"/>
<rect x="185.0" y="567.3" width="0.9" height="0.9" opacity="0.89"/>
<rect x="220.3" y="539.6" width="0.9" height="0.9" opacity="0.82"/>
<rect x="219.2" y="514.9" width="0.9" height="0.9" opacity="0.82"/>
<rect x="224.8" y="519.7" width="0.9" height="0.9" opacity="1.00"/>
<rect x="224.8" y="524.6" width="0.9" height="0.9" opacity="0.78"/>
<rect x="205.5" y="569.4" width="1.3" height="1.3" opacity="0.65"/>
<rect x="209.7" y="524.9" width="0.9" height="0.9" opacity="0.78"/>
<rect x="184.0" y="567.1" width="1.3" height="1.3" opacity="0.81"/>
<rect x="184.5" y="551.9" width="1.3" height="1.3" opacity="0.52"/>
<rect x="199.4" y="538.2" width="0.9" height="0.9" opacity="0.61"/>
<rect x="186.1" y="571.0" width="0.9" height="0.9" opacity="0.53"/>
<rect x="207.4" y="527.0" width="0.9" height="0.9" opacity="0.89"/>
<rect x="221.2" y="519.2" width="1.3" height="1.3" opacity="0.66"/>
<rect x="218.4" y="543.9" width="0.9" height="0.9" opacity="0.89"/>
<rect x="216.1" y="517.3" width="1.3" height="1.3" opacity="0.95"/>
<rect x="218.5" y="515.8" width="0.9" height="0.9" opacity="0.64"/>
<rect x="221.7" y="519.6" width="1.3" height="1.3" opacity="0.97"/>
<rect x="207.0" y="534.1" width="0.9" height="0.9" opacity="0.68"/>
<rect x="184.0" y="549.1" width="0.9" height="0.9" opacity="0.49"/>
<rect x="222.9" y="521.4" width="0.9" height="0.9" opacity="0.78"/>
<rect x="218.5" y="544.5" width="0.9" height="0.9" opacity="0.90"/>
<rect x="193.9" y="543.7" width="1.3" height="1.3" opacity="0.81"/>
<rect x="200.3" y="573.7" width="0.9" height="0.9" opacity="0.48"/>
<rect x="210.3" y="531.9" width="1.3" height="1.3" opacity="0.68"/>
<rect x="210.2" y="518.7" width="1.3" height="1.3" opacity="1.00"/>
<rect x="222.9" y="540.9" width="0.9" height="0.9" opacity="0.84"/>
<rect x="185.3" y="566.6" width="1.3" height="1.3" opacity="0.59"/>
<rect x="222.8" y="544.2" width="0.9" height="0.9" opacity="0.80"/>
<rect x="226.9" y="524.5" width="0.9" height="0.9" opacity="0.66"/>
<rect x="185.1" y="549.6" width="0.9" height="0.9" opacity="0.58"/>
<rect x="186.0" y="568.6" width="0.9" height="0.9" opacity="0.97"/>
<rect x="214.6" y="523.2" width="1.3" height="1.3" opacity="0.76"/>
<rect x="217.5" y="520.9" width="0.9" height="0.9" opacity="0.61"/>
<rect x="196.8" y="539.7" width="0.9" height="0.9" opacity="0.46"/>
<rect x="190.0" y="569.9" width="0.9" height="0.9" opacity="0.68"/>
<rect x="196.7" y="574.5" width="1.3" height="1.3" opacity="0.49"/>
<rect x="202.1" y="571.3" width="0.9" height="0.9" opacity="0.65"/>
<rect x="224.6" y="538.6" width="1.3" height="1.3" opacity="0.97"/>
<rect x="227.4" y="524.6" width="0.9" height="0.9" opacity="0.87"/>
<rect x="212.8" y="557.6" width="0.9" height="0.9" opacity="0.48"/>
<rect x="218.8" y="550.7" width="0.9" height="0.9" opacity="0.84"/>
<rect x="213.0" y="559.6" width="0.9" height="0.9" opacity="0.50"/>
<rect x="226.3" y="537.1" width="0.9" height="0.9" opacity="0.91"/>
<rect x="211.5" y="518.8" width="1.3" height="1.3" opacity="0.76"/>
<rect x="216.3" y="517.7" width="0.9" height="0.9" opacity="0.71"/>
<rect x="188.1" y="568.8" width="0.9" height="0.9" opacity="0.56"/>
<rect x="192.3" y="574.4" width="1.3" height="1.3" opacity="0.46"/>
<rect x="184.4" y="551.4" width="1.3" height="1.3" opacity="0.71"/>
<rect x="213.7" y="525.3" width="1.3" height="1.3" opacity="0.85"/>
<rect x="227.0" y="535.8" width="1.3" height="1.3" opacity="0.55"/>
<rect x="215.3" y="553.7" width="1.3" height="1.3" opacity="0.56"/>
<rect x="191.8" y="572.8" width="0.9" height="0.9" opacity="0.84"/>
<rect x="185.7" y="552.5" width="0.9" height="0.9" opacity="0.80"/>
<rect x="194.7" y="540.8" width="1.3" height="1.3" opacity="0.88"/>
<rect x="216.7" y="551.8" width="0.9" height="0.9" opacity="0.53"/>
<rect x="208.9" y="546.4" width="0.9" height="0.9" opacity="0.76"/>
<rect x="205.2" y="568.3" width="1.3" height="1.3" opacity="0.59"/>
<rect x="206.9" y="566.4" width="0.9" height="0.9" opacity="0.63"/>
<rect x="182.0" y="559.8" width="0.9" height="0.9" opacity="0.57"/>
<rect x="205.4" y="532.8" width="1.3" height="1.3" opacity="0.49"/>
<rect x="207.9" y="566.8" width="0.9" height="0.9" opacity="0.47"/>
<rect x="225.3" y="538.6" width="1.3" height="1.3" opacity="0.58"/>
<rect x="220.6" y="529.3" width="0.9" height="0.9" opacity="0.77"/>
<rect x="212.3" y="553.3" width="0.9" height="0.9" opacity="0.65"/>
<rect x="206.3" y="535.1" width="0.9" height="0.9" opacity="0.93"/>
<rect x="227.2" y="540.1" width="0.9" height="0.9" opacity="0.86"/>
<rect x="209.6" y="544.8" width="0.9" height="0.9" opacity="0.64"/>
<rect x="203.4" y="571.2" width="0.9" height="0.9" opacity="0.69"/>
<rect x="224.9" y="521.0" width="0.9" height="0.9" opacity="0.95"/>
<rect x="202.4" y="535.4" width="0.9" height="0.9" opacity="0.72"/>
<rect x="210.9" y="529.8" width="0.9" height="0.9" opacity="0.96"/>
<rect x="210.7" y="554.5" width="1.3" height="1.3" opacity="0.83"/>
<rect x="212.4" y="556.7" width="0.9" height="0.9" opacity="1.00"/>
<rect x="201.3" y="570.0" width="0.9" height="0.9" opacity="0.56"/>
<rect x="205.6" y="551.8" width="1.3" height="1.3" opacity="0.90"/>
<rect x="221.9" y="523.8" width="1.3" height="1.3" opacity="0.87"/>
<rect x="202.2" y="532.5" width="1.3" height="1.3" opacity="0.64"/>
<rect x="208.5" y="533.2" width="0.9" height="0.9" opacity="0.64"/>
<rect x="184.9" y="552.9" width="0.9" height="0.9" opacity="0.54"/>
<rect x="226.0" y="524.6" width="0.9" height="0.9" opacity="0.47"/>
<rect x="224.1" y="538.9" width="1.3" height="1.3" opacity="0.49"/>
<rect x="212.8" y="559.9" width="0.9" height="0.9" opacity="0.64"/>
<rect x="202.0" y="540.7" width="1.3" height="1.3" opacity="0.70"/>
<rect x="195.2" y="543.8" width="1.3" height="1.3" opacity="0.66"/>
<rect x="202.6" y="570.2" width="0.9" height="0.9" opacity="1.00"/>
<rect x="214.6" y="517.8" width="1.3" height="1.3" opacity="0.50"/>
<rect x="224.7" y="538.8" width="0.9" height="0.9" opacity="0.55"/>
<rect x="203.2" y="528.3" width="0.9" height="0.9" opacity="0.99"/>
<rect x="214.0" y="523.8" width="0.9" height="0.9" opacity="0.95"/>
<rect x="196.4" y="573.2" width="1.3" height="1.3" opacity="0.68"/>
<rect x="201.6" y="532.3" width="0.9" height="0.9" opacity="0.99"/>
<rect x="201.6" y="542.2" width="0.9" height="0.9" opacity="0.53"/>
<rect x="205.1" y="566.0" width="0.9" height="0.9" opacity="0.81"/>
<rect x="194.0" y="573.0" width="0.9" height="0.9" opacity="0.48"/>
<rect x="207.3" y="563.1" width="0.9" height="0.9" opacity="0.61"/>
<rect x="217.5" y="517.3" width="0.9" height="0.9" opacity="0.88"/>
<rect x="222.0" y="542.9" width="0.9" height="0.9" opacity="0.96"/>
<rect x="184.1" y="552.6" width="0.9" height="0.9" opacity="0.54"/>
<rect x="190.0" y="541.7" width="0.9" height="0.9" opacity="0.88"/>
<rect x="220.0" y="546.6" width="0.9" height="0.9" opacity="0.76"/>
<rect x="204.4" y="569.0" width="0.9" height="0.9" opacity="0.98"/>
<rect x="227.2" y="536.8" width="0.9" height="0.9" opacity="0.90"/>
<rect x="202.8" y="536.0" width="0.9" height="0.9" opacity="0.49"/>
<rect x="214.6" y="522.9" width="0.9" height="0.9" opacity="0.92"/>
<rect x="211.5" y="562.1" width="0.9" height="0.9" opacity="0.71"/>
<rect x="218.3" y="516.1" width="0.9" height="0.9" opacity="0.95"/>
<rect x="222.0" y="546.4" width="1.3" height="1.3" opacity="0.60"/>
<rect x="216.0" y="551.6" width="1.3" height="1.3" opacity="0.69"/>
<rect x="209.1" y="524.4" width="0.9" height="0.9" opacity="0.47"/>
<rect x="208.4" y="564.5" width="1.3" height="1.3" opacity="0.81"/>
<rect x="221.7" y="537.4" width="0.9" height="0.9" opacity="0.81"/>
<rect x="212.3" y="526.1" width="0.9" height="0.9" opacity="0.63"/>
<rect x="184.5" y="567.3" width="0.9" height="0.9" opacity="0.81"/>
<rect x="222.9" y="545.5" width="1.3" height="1.3" opacity="0.76"/>
<rect x="215.7" y="545.8" width="0.9" height="0.9" opacity="0.58"/>
<rect x="214.4" y="551.7" width="0.9" height="0.9" opacity="0.98"/>
<rect x="226.4" y="519.0" width="0.9" height="0.9" opacity="0.49"/>
<rect x="189.5" y="544.9" width="0.9" height="0.9" opacity="0.71"/>
<rect x="215.3" y="521.8" width="0.9" height="0.9" opacity="0.99"/>
<rect x="214.3" y="550.5" width="0.9" height="0.9" opacity="0.70"/>
<rect x="211.3" y="526.6" width="0.9" height="0.9" opacity="0.76"/>
<rect x="219.5" y="527.7" width="1.3" height="1.3" opacity="0.79"/>
<rect x="202.1" y="534.1" width="1.3" height="1.3" opacity="0.55"/>
<rect x="189.7" y="568.7" width="0.9" height="0.9" opacity="0.99"/>
<rect x="223.1" y="543.0" width="0.9" height="0.9" opacity="0.93"/>
<rect x="213.9" y="520.5" width="0.9" height="0.9" opacity="0.79"/>
<rect x="210.3" y="530.7" width="0.9" height="0.9" opacity="0.93"/>
<rect x="223.3" y="525.6" width="0.9" height="0.9" opacity="0.59"/>
<rect x="209.2" y="529.6" width="0.9" height="0.9" opacity="0.72"/>
<rect x="205.4" y="546.9" width="1.3" height="1.3" opacity="0.61"/>
<rect x="217.6" y="548.8" width="1.3" height="1.3" opacity="0.59"/>
<rect x="226.0" y="533.3" width="1.3" height="1.3" opacity="0.63"/>
<rect x="210.0" y="531.5" width="1.3" height="1.3" opacity="0.77"/>
<rect x="213.7" y="558.5" width="0.9" height="0.9" opacity="0.46"/>
<rect x="216.1" y="555.0" width="0.9" height="0.9" opacity="0.86"/>
<rect x="222.3" y="540.6" width="0.9" height="0.9" opacity="0.90"/>
<rect x="218.9" y="542.9" width="1.3" height="1.3" opacity="0.64"/>
<rect x="183.7" y="551.8" width="1.3" height="1.3" opacity="0.65"/>
<rect x="194.4" y="540.4" width="0.9" height="0.9" opacity="0.52"/>
<rect x="220.4" y="543.8" width="1.3" height="1.3" opacity="0.81"/>
<rect x="180.6" y="557.8" width="0.9" height="0.9" opacity="0.47"/>
<rect x="186.1" y="552.0" width="0.9" height="0.9" opacity="0.63"/>
<rect x="200.1" y="539.5" width="0.9" height="0.9" opacity="0.63"/>
<rect x="220.5" y="544.5" width="0.9" height="0.9" opacity="0.90"/>
<rect x="183.6" y="566.6" width="0.9" height="0.9" opacity="0.65"/>
<rect x="189.7" y="571.2" width="1.3" height="1.3" opacity="0.56"/>
<rect x="211.3" y="527.7" width="1.3" height="1.3" opacity="0.72"/>
<rect x="206.1" y="564.3" width="0.9" height="0.9" opacity="0.47"/>
<rect x="213.9" y="519.7" width="1.3" height="1.3" opacity="0.59"/>
<rect x="205.9" y="532.7" width="0.9" height="0.9" opacity="0.79"/>
<rect x="220.7" y="541.7" width="0.9" height="0.9" opacity="0.92"/>
<rect x="225.3" y="532.1" width="1.3" height="1.3" opacity="0.91"/>
<rect x="209.6" y="523.3" width="0.9" height="0.9" opacity="0.69"/>
<rect x="208.7" y="529.9" width="0.9" height="0.9" opacity="0.59"/>
<rect x="225.1" y="519.4" width="0.9" height="0.9" opacity="0.56"/>
<rect x="181.2" y="565.9" width="0.9" height="0.9" opacity="0.48"/>
<rect x="206.0" y="563.0" width="0.9" height="0.9" opacity="0.58"/>
<rect x="196.3" y="542.6" width="0.9" height="0.9" opacity="0.51"/>
<rect x="189.2" y="542.5" width="1.3" height="1.3" opacity="0.74"/>
<rect x="184.3" y="566.6" width="0.9" height="0.9" opacity="0.48"/>
<rect x="224.3" y="523.7" width="0.9" height="0.9" opacity="0.66"/>
<rect x="225.0" y="527.7" width="1.3" height="1.3" opacity="0.61"/>
<rect x="208.3" y="565.2" width="0.9" height="0.9" opacity="0.74"/>
<rect x="212.8" y="558.1" width="1.3" height="1.3" opacity="0.92"/>
<rect x="192.3" y="573.0" width="0.9" height="0.9" opacity="0.91"/>
<rect x="193.4" y="541.3" width="0.9" height="0.9" opacity="0.77"/>
<rect x="221.1" y="540.8" width="1.3" height="1.3" opacity="0.91"/>
<rect x="218.8" y="542.8" width="1.3" height="1.3" opacity="0.97"/>
<rect x="208.1" y="562.8" width="1.3" height="1.3" opacity="0.62"/>
<rect x="192.7" y="572.9" width="0.9" height="0.9" opacity="0.58"/>
<rect x="209.3" y="555.3" width="0.9" height="0.9" opacity="0.72"/>
<rect x="202.1" y="534.1" width="0.9" height="0.9" opacity="0.71"/>
<rect x="203.4" y="539.1" width="1.3" height="1.3" opacity="0.79"/>
<rect x="211.5" y="561.6" width="1.3" height="1.3" opacity="0.56"/>
<rect x="204.4" y="537.2" width="0.9" height="0.9" opacity="0.78"/>
<rect x="229.6" y="530.2" width="0.9" height="0.9" opacity="0.94"/>
<rect x="219.0" y="522.0" width="1.1" height="1.1" opacity="0.48"/>
<rect x="222.0" y="526.0" width="1.1" height="1.1" opacity="0.44"/>
<rect x="226.0" y="533.0" width="1.1" height="1.1" opacity="0.85"/>
<rect x="223.0" y="545.0" width="1.1" height="1.1" opacity="0.52"/>
<rect x="205.0" y="524.0" width="1.1" height="1.1" opacity="0.73"/>
<rect x="228.0" y="520.0" width="1.1" height="1.1" opacity="0.81"/>
<rect x="216.0" y="519.0" width="1.1" height="1.1" opacity="0.60"/>
</g>
</g>
<rect x="172.2" y="479.9" width="95.4" height="89.2" fill="none" stroke="#999" stroke-width="1.2"/>
<text x="0" y="0" font-size="6.2" font-family="Liberation Sans, sans-serif" font-weight="bold" style="stroke-width:0.1px" transform="translate(169.3,576.4) scale(1.25,1)">10<tspan font-size="3.9" dy="-1.8">0</tspan></text>
<text x="0" y="0" font-size="6.2" font-family="Liberation Sans, sans-serif" font-weight="bold" style="stroke-width:0.1px" transform="translate(169.2,571.3) scale(1.25,1) rotate(-90)">10<tspan font-size="3.9" dy="-1.8">0</tspan></text>
<text x="0" y="0" font-size="6.2" font-family="Liberation Sans, sans-serif" font-weight="bold" style="stroke-width:0.1px" transform="translate(193.2,576.4) scale(1.25,1)">10<tspan font-size="3.9" dy="-1.8">1</tspan></text>
<text x="0" y="0" font-size="6.2" font-family="Liberation Sans, sans-serif" font-weight="bold" style="stroke-width:0.1px" transform="translate(169.2,549.0) scale(1.25,1) rotate(-90)">10<tspan font-size="3.9" dy="-1.8">1</tspan></text>
<text x="0" y="0" font-size="6.2" font-family="Liberation Sans, sans-serif" font-weight="bold" style="stroke-width:0.1px" transform="translate(217.0,576.4) scale(1.25,1)">10<tspan font-size="3.9" dy="-1.8">2</tspan></text>
<text x="0" y="0" font-size="6.2" font-family="Liberation Sans, sans-serif" font-weight="bold" style="stroke-width:0.1px" transform="translate(169.2,526.7) scale(1.25,1) rotate(-90)">10<tspan font-size="3.9" dy="-1.8">2</tspan></text>
<text x="0" y="0" font-size="6.2" font-family="Liberation Sans, sans-serif" font-weight="bold" style="stroke-width:0.1px" transform="translate(240.8,576.4) scale(1.25,1)">10<tspan font-size="3.9" dy="-1.8">3</tspan></text>
<text x="0" y="0" font-size="6.2" font-family="Liberation Sans, sans-serif" font-weight="bold" style="stroke-width:0.1px" transform="translate(169.2,504.4) scale(1.25,1) rotate(-90)">10<tspan font-size="3.9" dy="-1.8">3</tspan></text>
<text x="0" y="0" font-size="6.2" font-family="Liberation Sans, sans-serif" font-weight="bold" style="stroke-width:0.1px" transform="translate(264.7,576.4) scale(1.25,1)">10<tspan font-size="3.9" dy="-1.8">4</tspan></text>
<text x="0" y="0" font-size="6.2" font-family="Liberation Sans, sans-serif" font-weight="bold" style="stroke-width:0.1px" transform="translate(169.2,482.1) scale(1.25,1) rotate(-90)">10<tspan font-size="3.9" dy="-1.8">4</tspan></text>
<text x="63.6" y="275.0" font-size="11.2" fill="#000" >0h</text>
<text x="64.3" y="386.0" font-size="11.2" fill="#000" >6h</text>
<text x="62.8" y="495.8" font-size="11.4" fill="#000" >24h</text>
<text x="0" y="0" font-size="11" text-anchor="middle" textLength="55.3" lengthAdjust="spacingAndGlyphs" fill="#000" transform="translate(38.8,409.2) rotate(-90)" >Annexin-V</text>
<line x1="35.50" y1="348.50" x2="35.50" y2="371.60" stroke="#000" stroke-width="1.4" />
<path d="M35.5,344.2 L38.3,349.2 L32.7,349.2 Z" fill="#000"/>
<line x1="35.40" y1="446.70" x2="35.40" y2="468.60" stroke="#000" stroke-width="1.4" />
<line x1="56.90" y1="588.70" x2="69.60" y2="588.70" stroke="#000" stroke-width="1.6" />
<text x="74.9" y="591.8" font-size="11" textLength="55.0" lengthAdjust="spacingAndGlyphs" fill="#000" >Caspase-8</text>
<line x1="134.90" y1="588.70" x2="145.00" y2="588.70" stroke="#000" stroke-width="1.6" />
<path d="M150.7,588.7 L144.2,585.9 L144.2,591.5 Z" fill="#000"/>
<line x1="169.20" y1="588.90" x2="182.50" y2="588.90" stroke="#000" stroke-width="1.6" />
<text x="187.8" y="591.8" font-size="11" textLength="55.0" lengthAdjust="spacingAndGlyphs" fill="#000" >Caspase-3</text>
<line x1="247.30" y1="588.90" x2="257.50" y2="588.90" stroke="#000" stroke-width="1.6" />
<path d="M263.6,588.9 L257.0,586.1 L257.0,591.7 Z" fill="#000"/>
</svg></body></html>
